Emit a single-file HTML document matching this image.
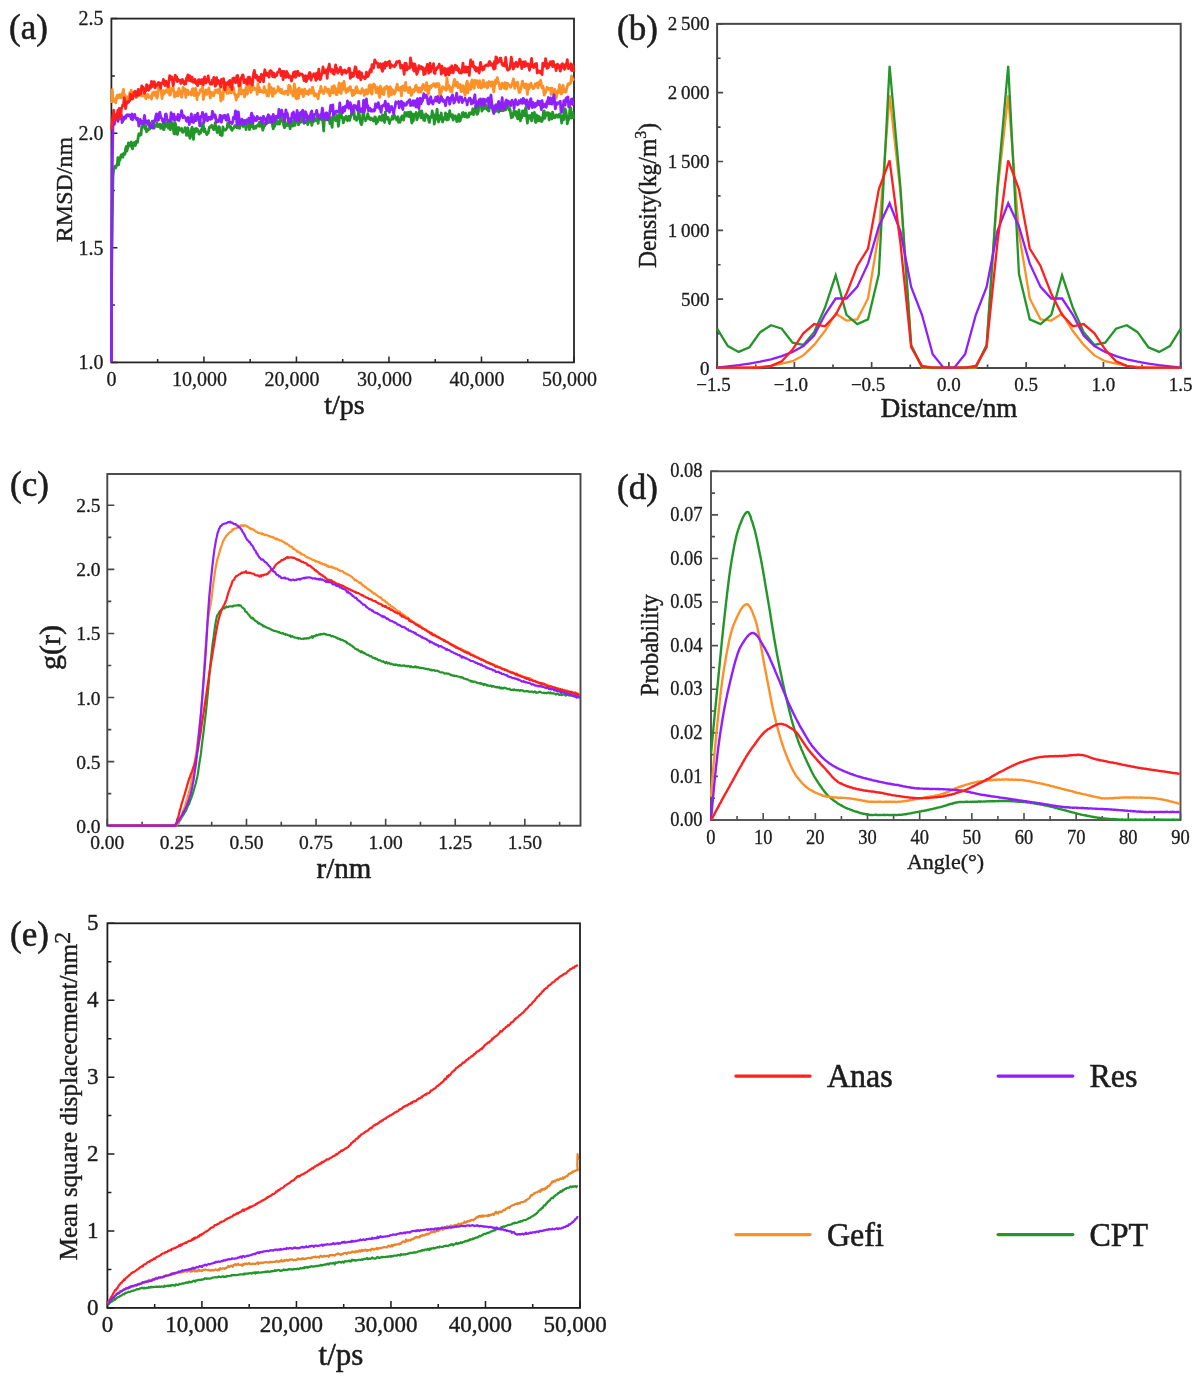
<!DOCTYPE html>
<html><head><meta charset="utf-8"><style>
html,body{margin:0;padding:0;background:#fff;width:1201px;height:1378px;overflow:hidden}
svg{display:block;filter:blur(0.45px)}
text{font-family:"Liberation Serif", serif;stroke:#1c1c1c}
</style></head><body>
<svg width="1201" height="1378" viewBox="0 0 1201 1378">
<rect width="1201" height="1378" fill="#fff"/>
<path d="M111.40 362.40V356.40M203.92 362.40V356.40M296.44 362.40V356.40M388.96 362.40V356.40M481.48 362.40V356.40M574.00 362.40V356.40M157.66 362.40V358.90M250.18 362.40V358.90M342.70 362.40V358.90M435.22 362.40V358.90M527.74 362.40V358.90M111.40 362.40H117.40M111.40 247.80H117.40M111.40 133.20H117.40M111.40 18.60H117.40M111.40 305.10H114.90M111.40 190.50H114.90M111.40 75.90H114.90" stroke="#262626" stroke-width="1.53" fill="none"/><rect x="111.40" y="18.60" width="462.60" height="343.80" stroke="#262626" stroke-width="1.8" fill="none"/><path d="M111.50 362.00 L111.60 283.58 L112.30 217.49 L113.00 176.26 L113.70 169.46 L114.40 167.75 L115.10 166.28 L115.80 167.90 L116.50 165.48 L117.20 165.00 L117.90 157.55 L118.60 164.75 L119.30 160.21 L120.00 160.02 L120.70 156.32 L121.40 154.63 L122.10 156.73 L122.80 157.17 L123.50 153.55 L124.20 153.02 L124.90 154.30 L125.60 148.92 L126.30 146.47 L127.00 151.01 L127.70 147.40 L128.40 142.90 L129.10 145.32 L129.80 146.00 L130.50 143.15 L131.20 142.01 L131.90 146.48 L132.60 148.77 L133.30 144.80 L134.00 142.60 L134.70 145.45 L135.40 145.49 L136.10 141.48 L136.80 142.48 L137.50 142.44 L138.20 137.06 L138.90 133.72 L139.60 135.61 L140.30 134.89 L141.00 134.93 L141.70 126.79 L142.40 126.08 L143.10 124.17 L143.80 122.07 L144.50 127.53 L145.20 128.95 L145.90 126.10 L146.60 131.73 L147.30 130.79 L148.00 129.66 L148.70 129.01 L149.40 129.37 L150.10 123.31 L150.80 128.15 L151.50 127.77 L152.20 121.26 L152.90 126.29 L153.60 125.85 L154.30 128.05 L155.00 124.82 L155.70 125.59 L156.40 126.20 L157.10 123.16 L157.80 126.70 L158.50 125.39 L159.20 126.29 L159.90 124.07 L160.60 128.25 L161.30 127.02 L162.00 124.60 L162.70 126.93 L163.40 129.44 L164.10 129.62 L164.80 120.43 L165.50 126.42 L166.20 126.33 L166.90 124.20 L167.60 122.46 L168.30 128.14 L169.00 122.55 L169.70 127.68 L170.40 129.73 L171.10 121.92 L171.80 124.33 L172.50 122.87 L173.20 128.15 L173.90 133.43 L174.60 134.05 L175.30 123.26 L176.00 126.07 L176.70 131.38 L177.40 134.47 L178.10 130.97 L178.80 127.54 L179.50 130.35 L180.20 130.07 L180.90 129.35 L181.60 128.43 L182.30 131.92 L183.00 132.31 L183.70 131.23 L184.40 130.38 L185.10 127.61 L185.80 130.36 L186.50 135.30 L187.20 131.07 L187.90 127.76 L188.60 135.37 L189.30 134.94 L190.00 138.40 L190.70 132.44 L191.40 129.23 L192.10 127.18 L192.80 135.93 L193.50 139.45 L194.20 129.46 L194.90 128.87 L195.60 132.08 L196.30 128.43 L197.00 129.37 L197.70 129.59 L198.40 131.63 L199.10 134.13 L199.80 131.59 L200.50 133.13 L201.20 129.68 L201.90 130.07 L202.60 122.98 L203.30 124.96 L204.00 131.59 L204.70 128.86 L205.40 131.75 L206.10 132.53 L206.80 134.64 L207.50 133.45 L208.20 133.21 L208.90 129.42 L209.60 126.93 L210.30 126.59 L211.00 126.95 L211.70 125.28 L212.40 126.94 L213.10 128.75 L213.80 129.70 L214.50 127.16 L215.20 122.75 L215.90 127.84 L216.60 130.05 L217.30 132.57 L218.00 130.73 L218.70 126.54 L219.40 126.97 L220.10 134.81 L220.80 132.69 L221.50 135.52 L222.20 135.46 L222.90 126.89 L223.60 129.17 L224.30 129.97 L225.00 130.25 L225.70 130.01 L226.40 128.85 L227.10 127.69 L227.80 123.01 L228.50 126.02 L229.20 125.22 L229.90 127.30 L230.60 126.34 L231.30 129.48 L232.00 130.33 L232.70 128.76 L233.40 128.35 L234.10 127.32 L234.80 125.58 L235.50 125.97 L236.20 125.44 L236.90 127.79 L237.60 127.26 L238.30 127.84 L239.00 123.16 L239.70 128.28 L240.40 124.14 L241.10 123.61 L241.80 125.06 L242.50 124.53 L243.20 126.53 L243.90 123.92 L244.60 121.98 L245.30 123.44 L246.00 129.62 L246.70 126.04 L247.40 122.13 L248.10 124.37 L248.80 121.63 L249.50 129.64 L250.20 121.82 L250.90 126.43 L251.60 126.56 L252.30 121.14 L253.00 125.92 L253.70 128.64 L254.40 127.15 L255.10 126.51 L255.80 128.10 L256.50 125.99 L257.20 125.85 L257.90 124.79 L258.60 126.09 L259.30 122.32 L260.00 126.27 L260.70 122.70 L261.40 120.87 L262.10 125.73 L262.80 130.18 L263.50 127.75 L264.20 123.29 L264.90 125.72 L265.60 122.80 L266.30 123.30 L267.00 122.87 L267.70 116.60 L268.40 122.60 L269.10 120.11 L269.80 120.09 L270.50 117.73 L271.20 117.43 L271.90 120.01 L272.60 126.19 L273.30 128.79 L274.00 124.39 L274.70 126.31 L275.40 121.73 L276.10 116.84 L276.80 122.56 L277.50 124.01 L278.20 121.71 L278.90 123.63 L279.60 124.06 L280.30 119.32 L281.00 117.23 L281.70 120.80 L282.40 121.31 L283.10 121.47 L283.80 125.89 L284.50 127.74 L285.20 121.88 L285.90 124.41 L286.60 125.57 L287.30 125.11 L288.00 125.29 L288.70 121.48 L289.40 124.91 L290.10 128.86 L290.80 124.92 L291.50 120.43 L292.20 123.86 L292.90 126.05 L293.60 123.07 L294.30 120.72 L295.00 125.44 L295.70 118.56 L296.40 122.38 L297.10 121.00 L297.80 118.21 L298.50 124.73 L299.20 122.41 L299.90 118.07 L300.60 122.32 L301.30 119.19 L302.00 114.63 L302.70 118.14 L303.40 121.88 L304.10 123.25 L304.80 121.87 L305.50 121.43 L306.20 122.33 L306.90 121.06 L307.60 124.53 L308.30 122.03 L309.00 122.06 L309.70 122.08 L310.40 117.33 L311.10 118.70 L311.80 125.27 L312.50 122.29 L313.20 120.04 L313.90 121.25 L314.60 119.32 L315.30 120.79 L316.00 118.64 L316.70 120.17 L317.40 116.23 L318.10 123.48 L318.80 118.58 L319.50 114.95 L320.20 118.57 L320.90 119.01 L321.60 119.90 L322.30 116.82 L323.00 122.57 L323.70 130.99 L324.40 117.98 L325.10 120.25 L325.80 119.13 L326.50 119.25 L327.20 113.41 L327.90 115.14 L328.60 120.13 L329.30 120.06 L330.00 123.76 L330.70 117.55 L331.40 120.36 L332.10 127.42 L332.80 117.03 L333.50 115.07 L334.20 117.58 L334.90 118.28 L335.60 120.57 L336.30 118.19 L337.00 115.40 L337.70 119.05 L338.40 126.33 L339.10 121.10 L339.80 108.88 L340.50 114.64 L341.20 114.25 L341.90 118.05 L342.60 117.20 L343.30 122.77 L344.00 120.52 L344.70 119.40 L345.40 117.04 L346.10 116.23 L346.80 117.84 L347.50 120.71 L348.20 118.42 L348.90 116.13 L349.60 120.31 L350.30 117.65 L351.00 115.97 L351.70 113.77 L352.40 114.15 L353.10 113.04 L353.80 108.19 L354.50 118.90 L355.20 119.05 L355.90 117.06 L356.60 120.38 L357.30 119.13 L358.00 117.27 L358.70 109.48 L359.40 115.54 L360.10 119.64 L360.80 123.58 L361.50 124.69 L362.20 122.28 L362.90 113.51 L363.60 110.41 L364.30 118.37 L365.00 118.56 L365.70 120.74 L366.40 118.02 L367.10 117.78 L367.80 113.58 L368.50 118.46 L369.20 117.07 L369.90 119.24 L370.60 119.75 L371.30 118.27 L372.00 119.24 L372.70 118.86 L373.40 121.06 L374.10 120.17 L374.80 116.80 L375.50 117.36 L376.20 123.80 L376.90 119.77 L377.60 122.05 L378.30 120.30 L379.00 116.97 L379.70 116.41 L380.40 119.10 L381.10 120.09 L381.80 120.29 L382.50 114.85 L383.20 116.22 L383.90 118.91 L384.60 122.46 L385.30 112.21 L386.00 118.49 L386.70 117.24 L387.40 119.29 L388.10 117.24 L388.80 120.01 L389.50 123.55 L390.20 120.33 L390.90 119.90 L391.60 119.14 L392.30 116.18 L393.00 119.25 L393.70 117.19 L394.40 115.25 L395.10 117.23 L395.80 117.46 L396.50 119.99 L397.20 117.69 L397.90 116.70 L398.60 122.40 L399.30 122.00 L400.00 122.27 L400.70 119.93 L401.40 117.14 L402.10 115.84 L402.80 116.68 L403.50 120.13 L404.20 117.27 L404.90 112.52 L405.60 115.52 L406.30 112.65 L407.00 116.20 L407.70 112.60 L408.40 112.37 L409.10 116.52 L409.80 115.76 L410.50 111.83 L411.20 119.25 L411.90 123.03 L412.60 113.88 L413.30 121.13 L414.00 114.95 L414.70 114.42 L415.40 114.82 L416.10 112.32 L416.80 119.84 L417.50 118.00 L418.20 113.89 L418.90 114.09 L419.60 110.97 L420.30 114.64 L421.00 117.96 L421.70 110.96 L422.40 113.98 L423.10 116.92 L423.80 120.22 L424.50 120.75 L425.20 115.13 L425.90 113.97 L426.60 117.20 L427.30 115.30 L428.00 115.78 L428.70 120.50 L429.40 122.43 L430.10 118.08 L430.80 116.35 L431.50 117.34 L432.20 110.97 L432.90 115.13 L433.60 114.53 L434.30 124.04 L435.00 120.26 L435.70 117.49 L436.40 115.04 L437.10 109.23 L437.80 118.69 L438.50 122.03 L439.20 115.82 L439.90 119.13 L440.60 118.87 L441.30 113.03 L442.00 119.94 L442.70 121.96 L443.40 118.53 L444.10 117.51 L444.80 118.92 L445.50 112.88 L446.20 117.36 L446.90 120.08 L447.60 114.50 L448.30 119.70 L449.00 115.60 L449.70 110.70 L450.40 115.68 L451.10 114.61 L451.80 117.53 L452.50 114.63 L453.20 120.01 L453.90 116.08 L454.60 118.19 L455.30 115.92 L456.00 117.08 L456.70 121.52 L457.40 118.94 L458.10 116.15 L458.80 114.40 L459.50 121.35 L460.20 120.61 L460.90 117.01 L461.60 117.29 L462.30 113.24 L463.00 112.40 L463.70 113.23 L464.40 116.65 L465.10 116.18 L465.80 113.28 L466.50 117.08 L467.20 117.31 L467.90 115.49 L468.60 116.90 L469.30 112.91 L470.00 112.74 L470.70 114.06 L471.40 112.82 L472.10 113.80 L472.80 108.77 L473.50 114.71 L474.20 109.07 L474.90 108.97 L475.60 106.10 L476.30 111.68 L477.00 114.32 L477.70 113.55 L478.40 111.17 L479.10 103.59 L479.80 104.65 L480.50 105.70 L481.20 105.40 L481.90 111.15 L482.60 109.12 L483.30 108.26 L484.00 109.05 L484.70 104.81 L485.40 104.24 L486.10 105.03 L486.80 109.29 L487.50 109.60 L488.20 110.52 L488.90 111.00 L489.60 104.00 L490.30 105.64 L491.00 107.52 L491.70 103.58 L492.40 106.17 L493.10 111.46 L493.80 112.49 L494.50 111.94 L495.20 108.56 L495.90 107.89 L496.60 111.09 L497.30 107.53 L498.00 109.53 L498.70 112.14 L499.40 107.20 L500.10 105.94 L500.80 108.28 L501.50 110.71 L502.20 110.77 L502.90 110.16 L503.60 110.47 L504.30 104.56 L505.00 106.60 L505.70 109.91 L506.40 107.07 L507.10 105.58 L507.80 106.21 L508.50 107.84 L509.20 110.16 L509.90 108.78 L510.60 113.31 L511.30 117.88 L512.00 113.81 L512.70 117.15 L513.40 114.34 L514.10 110.15 L514.80 112.08 L515.50 111.38 L516.20 115.83 L516.90 112.18 L517.60 118.90 L518.30 116.79 L519.00 109.93 L519.70 118.11 L520.40 120.87 L521.10 114.78 L521.80 117.81 L522.50 110.97 L523.20 115.08 L523.90 111.16 L524.60 115.80 L525.30 109.33 L526.00 107.06 L526.70 117.07 L527.40 123.07 L528.10 115.68 L528.80 118.36 L529.50 116.60 L530.20 115.35 L530.90 118.58 L531.60 120.84 L532.30 113.22 L533.00 117.33 L533.70 116.66 L534.40 112.50 L535.10 121.32 L535.80 122.44 L536.50 114.84 L537.20 121.00 L537.90 116.96 L538.60 116.26 L539.30 120.75 L540.00 117.62 L540.70 117.88 L541.40 121.56 L542.10 121.23 L542.80 118.74 L543.50 111.27 L544.20 110.93 L544.90 118.29 L545.60 113.73 L546.30 115.48 L547.00 112.62 L547.70 114.26 L548.40 112.71 L549.10 119.97 L549.80 113.55 L550.50 115.02 L551.20 115.95 L551.90 118.99 L552.60 112.13 L553.30 115.09 L554.00 115.59 L554.70 117.79 L555.40 117.51 L556.10 114.90 L556.80 116.34 L557.50 115.18 L558.20 117.23 L558.90 115.59 L559.60 113.88 L560.30 115.77 L561.00 118.25 L561.70 123.04 L562.40 115.73 L563.10 117.44 L563.80 119.71 L564.50 109.35 L565.20 108.92 L565.90 111.35 L566.60 116.26 L567.30 123.79 L568.00 119.03 L568.70 119.87 L569.40 114.68 L570.10 107.02 L570.80 108.03 L571.50 118.14 L572.20 116.44 L572.90 112.57 L573.60 118.86" stroke="#23962a" stroke-width="2.8" fill="none" stroke-linejoin="round" stroke-linecap="butt"/><path d="M111.60 103.00 L112.30 89.64 L113.00 99.21 L113.70 98.82 L114.40 101.62 L115.10 99.81 L115.80 102.77 L116.50 97.36 L117.20 95.08 L117.90 97.96 L118.60 97.43 L119.30 94.73 L120.00 94.94 L120.70 97.80 L121.40 97.43 L122.10 93.51 L122.80 92.39 L123.50 89.45 L124.20 98.51 L124.90 94.82 L125.60 98.29 L126.30 96.93 L127.00 101.06 L127.70 99.94 L128.40 96.49 L129.10 98.33 L129.80 92.38 L130.50 96.74 L131.20 90.15 L131.90 94.87 L132.60 97.62 L133.30 95.05 L134.00 92.56 L134.70 91.12 L135.40 93.05 L136.10 97.57 L136.80 97.18 L137.50 93.00 L138.20 90.30 L138.90 94.78 L139.60 89.53 L140.30 91.25 L141.00 91.80 L141.70 96.08 L142.40 95.34 L143.10 95.70 L143.80 94.75 L144.50 92.27 L145.20 96.04 L145.90 98.67 L146.60 94.90 L147.30 95.91 L148.00 94.43 L148.70 97.49 L149.40 97.03 L150.10 97.25 L150.80 96.34 L151.50 99.14 L152.20 93.51 L152.90 92.48 L153.60 92.28 L154.30 95.31 L155.00 92.03 L155.70 92.03 L156.40 96.54 L157.10 98.29 L157.80 95.05 L158.50 85.40 L159.20 89.15 L159.90 89.56 L160.60 89.24 L161.30 92.50 L162.00 98.54 L162.70 92.49 L163.40 90.53 L164.10 94.22 L164.80 92.70 L165.50 92.07 L166.20 89.91 L166.90 91.87 L167.60 92.42 L168.30 85.43 L169.00 86.54 L169.70 95.02 L170.40 94.93 L171.10 90.32 L171.80 88.46 L172.50 90.32 L173.20 88.00 L173.90 91.16 L174.60 97.07 L175.30 93.81 L176.00 95.61 L176.70 92.06 L177.40 93.73 L178.10 95.87 L178.80 88.33 L179.50 90.17 L180.20 91.48 L180.90 93.58 L181.60 97.35 L182.30 94.18 L183.00 87.51 L183.70 89.97 L184.40 88.61 L185.10 89.68 L185.80 97.37 L186.50 89.79 L187.20 91.86 L187.90 90.30 L188.60 94.52 L189.30 93.60 L190.00 92.54 L190.70 92.39 L191.40 95.07 L192.10 89.28 L192.80 88.71 L193.50 88.80 L194.20 95.49 L194.90 91.23 L195.60 88.39 L196.30 91.41 L197.00 99.58 L197.70 93.32 L198.40 94.84 L199.10 93.87 L199.80 91.85 L200.50 89.66 L201.20 90.43 L201.90 89.63 L202.60 86.18 L203.30 99.48 L204.00 96.24 L204.70 92.72 L205.40 91.02 L206.10 89.86 L206.80 94.43 L207.50 92.04 L208.20 92.62 L208.90 87.94 L209.60 93.34 L210.30 98.14 L211.00 92.28 L211.70 94.16 L212.40 92.81 L213.10 95.74 L213.80 95.63 L214.50 92.13 L215.20 90.08 L215.90 92.28 L216.60 91.58 L217.30 89.90 L218.00 92.91 L218.70 92.68 L219.40 88.89 L220.10 92.15 L220.80 100.98 L221.50 95.51 L222.20 93.38 L222.90 99.10 L223.60 89.97 L224.30 82.42 L225.00 83.38 L225.70 85.73 L226.40 91.83 L227.10 93.38 L227.80 85.47 L228.50 93.04 L229.20 88.02 L229.90 91.60 L230.60 92.94 L231.30 92.71 L232.00 91.42 L232.70 91.05 L233.40 87.70 L234.10 91.82 L234.80 94.67 L235.50 95.67 L236.20 100.15 L236.90 95.99 L237.60 94.55 L238.30 96.58 L239.00 91.81 L239.70 85.81 L240.40 83.79 L241.10 93.97 L241.80 93.61 L242.50 93.52 L243.20 90.27 L243.90 92.55 L244.60 96.92 L245.30 92.09 L246.00 87.09 L246.70 89.39 L247.40 94.18 L248.10 86.55 L248.80 80.77 L249.50 81.38 L250.20 85.56 L250.90 92.36 L251.60 90.74 L252.30 87.46 L253.00 85.94 L253.70 89.30 L254.40 89.52 L255.10 88.36 L255.80 88.88 L256.50 88.66 L257.20 94.36 L257.90 83.77 L258.60 88.92 L259.30 87.42 L260.00 91.76 L260.70 89.94 L261.40 91.41 L262.10 92.05 L262.80 91.47 L263.50 92.57 L264.20 86.63 L264.90 92.19 L265.60 90.03 L266.30 91.99 L267.00 95.82 L267.70 95.55 L268.40 96.00 L269.10 83.86 L269.80 86.85 L270.50 92.54 L271.20 87.46 L271.90 90.40 L272.60 96.46 L273.30 93.94 L274.00 88.54 L274.70 92.24 L275.40 93.32 L276.10 91.59 L276.80 90.97 L277.50 90.90 L278.20 86.75 L278.90 90.57 L279.60 88.69 L280.30 92.50 L281.00 92.70 L281.70 89.39 L282.40 93.39 L283.10 93.21 L283.80 92.28 L284.50 94.05 L285.20 91.26 L285.90 91.08 L286.60 92.23 L287.30 92.65 L288.00 94.68 L288.70 85.34 L289.40 89.29 L290.10 85.78 L290.80 90.05 L291.50 93.11 L292.20 93.23 L292.90 95.87 L293.60 92.85 L294.30 83.79 L295.00 88.74 L295.70 97.99 L296.40 98.67 L297.10 93.33 L297.80 89.33 L298.50 98.13 L299.20 87.84 L299.90 93.15 L300.60 93.42 L301.30 93.52 L302.00 89.66 L302.70 92.17 L303.40 96.47 L304.10 91.91 L304.80 89.07 L305.50 92.93 L306.20 93.74 L306.90 92.69 L307.60 91.11 L308.30 94.56 L309.00 92.53 L309.70 89.52 L310.40 93.19 L311.10 93.12 L311.80 92.56 L312.50 87.23 L313.20 89.79 L313.90 94.28 L314.60 96.03 L315.30 94.28 L316.00 93.62 L316.70 95.39 L317.40 96.81 L318.10 98.71 L318.80 94.46 L319.50 91.03 L320.20 92.55 L320.90 86.38 L321.60 91.18 L322.30 90.76 L323.00 92.03 L323.70 93.58 L324.40 91.65 L325.10 87.20 L325.80 89.60 L326.50 89.08 L327.20 91.44 L327.90 92.30 L328.60 89.11 L329.30 94.00 L330.00 95.77 L330.70 91.55 L331.40 92.75 L332.10 86.71 L332.80 89.24 L333.50 93.00 L334.20 85.75 L334.90 88.08 L335.60 88.42 L336.30 94.57 L337.00 94.63 L337.70 89.38 L338.40 89.42 L339.10 82.86 L339.80 92.04 L340.50 92.60 L341.20 93.51 L341.90 83.63 L342.60 89.95 L343.30 87.92 L344.00 81.37 L344.70 86.50 L345.40 89.78 L346.10 92.55 L346.80 90.73 L347.50 88.67 L348.20 91.06 L348.90 89.53 L349.60 87.38 L350.30 86.53 L351.00 90.01 L351.70 91.45 L352.40 95.60 L353.10 90.27 L353.80 94.96 L354.50 92.46 L355.20 93.40 L355.90 87.29 L356.60 86.64 L357.30 89.03 L358.00 92.73 L358.70 91.36 L359.40 92.60 L360.10 91.87 L360.80 93.47 L361.50 90.87 L362.20 88.70 L362.90 91.40 L363.60 91.40 L364.30 95.45 L365.00 90.42 L365.70 90.11 L366.40 89.67 L367.10 93.91 L367.80 93.64 L368.50 91.86 L369.20 85.66 L369.90 84.76 L370.60 90.44 L371.30 93.13 L372.00 94.11 L372.70 85.02 L373.40 87.74 L374.10 84.14 L374.80 86.04 L375.50 89.31 L376.20 92.65 L376.90 88.47 L377.60 87.33 L378.30 89.26 L379.00 94.98 L379.70 97.43 L380.40 86.23 L381.10 88.17 L381.80 89.09 L382.50 93.67 L383.20 92.71 L383.90 94.54 L384.60 87.60 L385.30 89.32 L386.00 88.04 L386.70 86.26 L387.40 88.38 L388.10 87.28 L388.80 96.43 L389.50 91.88 L390.20 86.72 L390.90 88.45 L391.60 94.90 L392.30 89.70 L393.00 92.23 L393.70 92.71 L394.40 94.03 L395.10 92.43 L395.80 89.36 L396.50 87.16 L397.20 84.12 L397.90 89.04 L398.60 90.23 L399.30 88.87 L400.00 88.77 L400.70 87.13 L401.40 95.82 L402.10 88.78 L402.80 85.93 L403.50 87.18 L404.20 89.12 L404.90 90.55 L405.60 82.45 L406.30 89.48 L407.00 87.54 L407.70 88.87 L408.40 92.64 L409.10 91.66 L409.80 87.23 L410.50 89.25 L411.20 95.38 L411.90 94.44 L412.60 92.15 L413.30 89.62 L414.00 91.83 L414.70 89.99 L415.40 86.46 L416.10 85.26 L416.80 89.67 L417.50 90.32 L418.20 91.93 L418.90 87.90 L419.60 92.03 L420.30 88.17 L421.00 92.00 L421.70 89.98 L422.40 85.89 L423.10 84.55 L423.80 86.85 L424.50 87.37 L425.20 90.23 L425.90 85.29 L426.60 82.70 L427.30 87.81 L428.00 94.45 L428.70 93.36 L429.40 86.27 L430.10 86.50 L430.80 88.01 L431.50 85.40 L432.20 86.17 L432.90 85.87 L433.60 83.60 L434.30 84.60 L435.00 85.55 L435.70 87.14 L436.40 83.65 L437.10 86.42 L437.80 83.70 L438.50 83.51 L439.20 85.11 L439.90 99.66 L440.60 93.57 L441.30 92.19 L442.00 90.01 L442.70 86.58 L443.40 87.08 L444.10 87.97 L444.80 88.61 L445.50 89.58 L446.20 90.32 L446.90 77.87 L447.60 83.76 L448.30 88.27 L449.00 85.70 L449.70 86.60 L450.40 91.18 L451.10 88.68 L451.80 92.08 L452.50 87.25 L453.20 86.54 L453.90 82.10 L454.60 79.31 L455.30 83.98 L456.00 86.02 L456.70 84.45 L457.40 82.06 L458.10 87.53 L458.80 86.62 L459.50 85.71 L460.20 84.38 L460.90 91.48 L461.60 91.53 L462.30 87.53 L463.00 85.77 L463.70 87.40 L464.40 92.62 L465.10 95.41 L465.80 86.93 L466.50 83.45 L467.20 81.14 L467.90 92.94 L468.60 83.93 L469.30 87.98 L470.00 88.17 L470.70 89.48 L471.40 82.59 L472.10 79.96 L472.80 85.23 L473.50 87.26 L474.20 88.27 L474.90 80.32 L475.60 82.84 L476.30 83.47 L477.00 80.70 L477.70 84.34 L478.40 87.50 L479.10 84.63 L479.80 80.66 L480.50 85.78 L481.20 88.08 L481.90 87.41 L482.60 86.80 L483.30 80.28 L484.00 85.73 L484.70 86.70 L485.40 83.83 L486.10 83.96 L486.80 82.83 L487.50 87.98 L488.20 83.81 L488.90 81.55 L489.60 84.70 L490.30 85.27 L491.00 86.20 L491.70 81.80 L492.40 82.04 L493.10 86.33 L493.80 91.76 L494.50 86.19 L495.20 80.29 L495.90 83.69 L496.60 80.90 L497.30 77.61 L498.00 80.76 L498.70 82.14 L499.40 85.72 L500.10 88.93 L500.80 88.68 L501.50 86.98 L502.20 83.24 L502.90 84.41 L503.60 84.84 L504.30 88.31 L505.00 82.64 L505.70 82.99 L506.40 89.04 L507.10 86.70 L507.80 83.36 L508.50 84.81 L509.20 85.12 L509.90 85.58 L510.60 87.34 L511.30 86.04 L512.00 83.97 L512.70 82.12 L513.40 78.80 L514.10 83.06 L514.80 88.25 L515.50 85.75 L516.20 82.77 L516.90 83.35 L517.60 82.23 L518.30 86.42 L519.00 92.32 L519.70 92.27 L520.40 90.10 L521.10 88.02 L521.80 84.18 L522.50 81.15 L523.20 84.39 L523.90 84.24 L524.60 87.74 L525.30 85.93 L526.00 83.84 L526.70 87.96 L527.40 94.36 L528.10 84.62 L528.80 88.90 L529.50 87.91 L530.20 85.18 L530.90 83.18 L531.60 85.44 L532.30 86.76 L533.00 88.59 L533.70 88.50 L534.40 86.80 L535.10 83.98 L535.80 86.23 L536.50 84.05 L537.20 82.86 L537.90 87.92 L538.60 83.76 L539.30 81.98 L540.00 84.77 L540.70 80.27 L541.40 85.64 L542.10 88.00 L542.80 86.12 L543.50 88.96 L544.20 95.20 L544.90 93.88 L545.60 92.07 L546.30 90.49 L547.00 87.26 L547.70 88.08 L548.40 88.23 L549.10 89.44 L549.80 89.68 L550.50 88.28 L551.20 94.36 L551.90 88.19 L552.60 91.87 L553.30 94.41 L554.00 91.35 L554.70 89.42 L555.40 92.51 L556.10 98.38 L556.80 94.46 L557.50 91.09 L558.20 92.71 L558.90 89.59 L559.60 84.70 L560.30 90.63 L561.00 93.96 L561.70 93.83 L562.40 89.11 L563.10 85.29 L563.80 91.86 L564.50 89.07 L565.20 91.12 L565.90 92.12 L566.60 88.99 L567.30 86.36 L568.00 83.78 L568.70 83.64 L569.40 84.24 L570.10 82.63 L570.80 83.13 L571.50 76.02 L572.20 77.62 L572.90 80.13 L573.60 78.18" stroke="#fd9026" stroke-width="2.8" fill="none" stroke-linejoin="round" stroke-linecap="butt"/><path d="M111.50 362.00 L111.60 253.30 L112.30 165.64 L113.00 123.20 L113.70 123.20 L114.40 124.37 L115.10 116.01 L115.80 115.85 L116.50 114.33 L117.20 118.10 L117.90 121.43 L118.60 118.80 L119.30 118.50 L120.00 111.99 L120.70 116.50 L121.40 115.31 L122.10 122.52 L122.80 120.86 L123.50 119.89 L124.20 116.86 L124.90 118.25 L125.60 118.38 L126.30 115.39 L127.00 114.81 L127.70 115.90 L128.40 114.77 L129.10 114.93 L129.80 115.90 L130.50 115.61 L131.20 119.11 L131.90 113.85 L132.60 119.76 L133.30 116.67 L134.00 116.01 L134.70 114.33 L135.40 117.88 L136.10 118.58 L136.80 119.75 L137.50 118.22 L138.20 120.89 L138.90 126.12 L139.60 122.28 L140.30 119.47 L141.00 123.44 L141.70 121.37 L142.40 123.32 L143.10 123.45 L143.80 119.76 L144.50 115.43 L145.20 120.19 L145.90 123.19 L146.60 120.98 L147.30 123.21 L148.00 124.42 L148.70 120.65 L149.40 125.51 L150.10 127.21 L150.80 125.60 L151.50 125.43 L152.20 125.69 L152.90 128.12 L153.60 121.98 L154.30 120.54 L155.00 121.44 L155.70 116.54 L156.40 113.96 L157.10 116.23 L157.80 120.41 L158.50 120.21 L159.20 113.65 L159.90 112.20 L160.60 116.86 L161.30 117.97 L162.00 118.68 L162.70 121.15 L163.40 122.62 L164.10 119.82 L164.80 119.53 L165.50 114.29 L166.20 113.89 L166.90 118.49 L167.60 120.56 L168.30 120.90 L169.00 120.61 L169.70 121.15 L170.40 120.06 L171.10 112.54 L171.80 115.06 L172.50 119.36 L173.20 119.35 L173.90 114.14 L174.60 120.71 L175.30 117.09 L176.00 117.19 L176.70 119.11 L177.40 119.78 L178.10 114.37 L178.80 120.43 L179.50 118.35 L180.20 115.49 L180.90 115.67 L181.60 110.69 L182.30 114.98 L183.00 117.90 L183.70 115.70 L184.40 116.55 L185.10 117.40 L185.80 118.58 L186.50 121.21 L187.20 118.30 L187.90 117.44 L188.60 120.59 L189.30 124.61 L190.00 118.21 L190.70 118.66 L191.40 113.98 L192.10 121.76 L192.80 121.39 L193.50 122.48 L194.20 117.96 L194.90 115.14 L195.60 120.63 L196.30 120.37 L197.00 114.93 L197.70 113.18 L198.40 118.59 L199.10 118.98 L199.80 125.80 L200.50 117.11 L201.20 115.98 L201.90 116.57 L202.60 112.29 L203.30 115.20 L204.00 122.65 L204.70 118.10 L205.40 115.42 L206.10 114.05 L206.80 119.61 L207.50 120.60 L208.20 119.10 L208.90 117.25 L209.60 119.18 L210.30 119.28 L211.00 116.66 L211.70 118.90 L212.40 111.41 L213.10 113.17 L213.80 116.80 L214.50 117.41 L215.20 114.97 L215.90 119.52 L216.60 122.28 L217.30 120.66 L218.00 119.99 L218.70 121.59 L219.40 119.83 L220.10 115.27 L220.80 118.23 L221.50 122.21 L222.20 115.96 L222.90 118.33 L223.60 117.30 L224.30 115.46 L225.00 115.43 L225.70 119.01 L226.40 120.26 L227.10 119.51 L227.80 114.62 L228.50 117.73 L229.20 120.62 L229.90 122.72 L230.60 122.27 L231.30 122.80 L232.00 123.61 L232.70 122.11 L233.40 117.30 L234.10 118.88 L234.80 116.10 L235.50 110.87 L236.20 114.15 L236.90 124.76 L237.60 116.05 L238.30 111.79 L239.00 117.51 L239.70 124.19 L240.40 120.58 L241.10 120.93 L241.80 119.15 L242.50 120.11 L243.20 124.23 L243.90 123.02 L244.60 120.54 L245.30 123.25 L246.00 123.60 L246.70 119.81 L247.40 120.62 L248.10 120.29 L248.80 118.22 L249.50 122.74 L250.20 119.22 L250.90 116.56 L251.60 113.15 L252.30 115.23 L253.00 122.79 L253.70 116.52 L254.40 119.66 L255.10 118.30 L255.80 120.64 L256.50 120.61 L257.20 116.50 L257.90 117.46 L258.60 118.86 L259.30 118.96 L260.00 118.31 L260.70 117.75 L261.40 120.83 L262.10 123.00 L262.80 120.20 L263.50 116.29 L264.20 118.99 L264.90 118.63 L265.60 120.33 L266.30 123.78 L267.00 118.04 L267.70 117.15 L268.40 114.73 L269.10 115.96 L269.80 116.38 L270.50 122.33 L271.20 118.84 L271.90 116.62 L272.60 122.35 L273.30 114.39 L274.00 119.65 L274.70 120.93 L275.40 119.13 L276.10 116.29 L276.80 116.12 L277.50 116.00 L278.20 117.82 L278.90 109.44 L279.60 113.86 L280.30 116.41 L281.00 113.75 L281.70 110.22 L282.40 114.23 L283.10 114.10 L283.80 118.95 L284.50 120.86 L285.20 115.94 L285.90 109.83 L286.60 113.89 L287.30 113.23 L288.00 118.37 L288.70 121.61 L289.40 118.62 L290.10 123.03 L290.80 121.81 L291.50 118.18 L292.20 113.39 L292.90 115.17 L293.60 112.04 L294.30 118.60 L295.00 117.56 L295.70 120.49 L296.40 116.60 L297.10 110.34 L297.80 117.47 L298.50 119.98 L299.20 121.08 L299.90 113.18 L300.60 112.48 L301.30 115.02 L302.00 111.80 L302.70 110.33 L303.40 112.84 L304.10 122.88 L304.80 114.35 L305.50 111.77 L306.20 113.51 L306.90 115.79 L307.60 119.83 L308.30 119.26 L309.00 118.19 L309.70 115.80 L310.40 115.35 L311.10 112.45 L311.80 111.05 L312.50 120.46 L313.20 115.08 L313.90 117.76 L314.60 114.39 L315.30 114.37 L316.00 113.64 L316.70 110.38 L317.40 114.03 L318.10 116.30 L318.80 117.73 L319.50 117.12 L320.20 118.21 L320.90 116.01 L321.60 113.70 L322.30 108.07 L323.00 112.58 L323.70 119.09 L324.40 115.93 L325.10 116.78 L325.80 113.51 L326.50 112.70 L327.20 119.95 L327.90 116.35 L328.60 118.39 L329.30 115.31 L330.00 111.07 L330.70 105.50 L331.40 110.82 L332.10 106.24 L332.80 104.87 L333.50 114.94 L334.20 114.78 L334.90 113.76 L335.60 111.61 L336.30 111.06 L337.00 112.12 L337.70 111.25 L338.40 110.98 L339.10 111.24 L339.80 102.98 L340.50 110.94 L341.20 108.34 L341.90 112.19 L342.60 112.71 L343.30 107.13 L344.00 111.04 L344.70 110.84 L345.40 106.12 L346.10 106.21 L346.80 107.13 L347.50 100.96 L348.20 105.68 L348.90 108.22 L349.60 105.96 L350.30 102.62 L351.00 106.78 L351.70 113.26 L352.40 112.89 L353.10 107.92 L353.80 105.44 L354.50 107.59 L355.20 107.73 L355.90 105.74 L356.60 106.94 L357.30 110.27 L358.00 110.05 L358.70 101.31 L359.40 109.94 L360.10 109.50 L360.80 111.68 L361.50 108.74 L362.20 110.20 L362.90 111.91 L363.60 100.30 L364.30 111.63 L365.00 108.50 L365.70 101.07 L366.40 98.90 L367.10 107.16 L367.80 105.44 L368.50 110.76 L369.20 109.12 L369.90 108.19 L370.60 111.16 L371.30 109.48 L372.00 110.85 L372.70 111.15 L373.40 109.82 L374.10 111.04 L374.80 110.20 L375.50 103.97 L376.20 106.41 L376.90 107.31 L377.60 105.97 L378.30 102.56 L379.00 105.61 L379.70 108.88 L380.40 109.47 L381.10 112.41 L381.80 106.37 L382.50 105.69 L383.20 105.36 L383.90 105.85 L384.60 104.34 L385.30 101.21 L386.00 107.75 L386.70 110.83 L387.40 110.36 L388.10 103.84 L388.80 106.46 L389.50 112.23 L390.20 107.22 L390.90 107.33 L391.60 106.46 L392.30 109.72 L393.00 110.74 L393.70 113.97 L394.40 108.78 L395.10 106.79 L395.80 101.85 L396.50 103.29 L397.20 102.85 L397.90 103.29 L398.60 101.54 L399.30 107.75 L400.00 102.43 L400.70 104.61 L401.40 101.15 L402.10 105.97 L402.80 109.54 L403.50 102.91 L404.20 105.08 L404.90 104.38 L405.60 105.23 L406.30 105.20 L407.00 102.08 L407.70 102.68 L408.40 101.40 L409.10 100.15 L409.80 99.75 L410.50 105.48 L411.20 101.81 L411.90 105.21 L412.60 104.69 L413.30 100.67 L414.00 105.27 L414.70 100.93 L415.40 104.96 L416.10 107.11 L416.80 100.50 L417.50 98.64 L418.20 99.99 L418.90 108.71 L419.60 101.39 L420.30 98.22 L421.00 103.74 L421.70 101.65 L422.40 101.06 L423.10 97.43 L423.80 93.77 L424.50 97.61 L425.20 97.01 L425.90 95.24 L426.60 96.62 L427.30 98.12 L428.00 103.56 L428.70 103.95 L429.40 102.72 L430.10 98.90 L430.80 96.81 L431.50 101.34 L432.20 102.82 L432.90 104.02 L433.60 100.94 L434.30 100.26 L435.00 100.90 L435.70 97.23 L436.40 97.65 L437.10 101.24 L437.80 96.51 L438.50 99.62 L439.20 102.57 L439.90 101.32 L440.60 100.82 L441.30 96.51 L442.00 98.70 L442.70 99.10 L443.40 101.61 L444.10 101.21 L444.80 100.76 L445.50 105.71 L446.20 101.91 L446.90 98.41 L447.60 97.20 L448.30 98.52 L449.00 98.16 L449.70 104.22 L450.40 101.47 L451.10 97.95 L451.80 96.16 L452.50 95.01 L453.20 98.02 L453.90 103.09 L454.60 101.89 L455.30 98.88 L456.00 97.99 L456.70 93.04 L457.40 99.72 L458.10 98.67 L458.80 102.35 L459.50 98.05 L460.20 96.66 L460.90 98.38 L461.60 97.15 L462.30 102.52 L463.00 100.34 L463.70 100.17 L464.40 99.88 L465.10 98.23 L465.80 100.47 L466.50 100.81 L467.20 104.89 L467.90 100.63 L468.60 100.47 L469.30 98.18 L470.00 98.19 L470.70 99.35 L471.40 103.92 L472.10 101.48 L472.80 103.19 L473.50 99.83 L474.20 98.25 L474.90 94.78 L475.60 103.36 L476.30 107.57 L477.00 101.94 L477.70 105.84 L478.40 104.18 L479.10 99.91 L479.80 102.98 L480.50 98.89 L481.20 100.80 L481.90 105.45 L482.60 102.32 L483.30 99.01 L484.00 105.32 L484.70 99.29 L485.40 101.00 L486.10 101.08 L486.80 101.33 L487.50 98.98 L488.20 98.01 L488.90 107.28 L489.60 100.36 L490.30 98.51 L491.00 95.02 L491.70 102.87 L492.40 108.04 L493.10 109.76 L493.80 113.58 L494.50 109.85 L495.20 105.73 L495.90 104.80 L496.60 108.41 L497.30 104.73 L498.00 104.27 L498.70 101.39 L499.40 105.16 L500.10 110.64 L500.80 105.39 L501.50 104.46 L502.20 97.76 L502.90 107.64 L503.60 106.96 L504.30 109.14 L505.00 105.44 L505.70 101.17 L506.40 99.94 L507.10 105.24 L507.80 104.02 L508.50 101.21 L509.20 103.28 L509.90 102.59 L510.60 105.96 L511.30 102.67 L512.00 100.10 L512.70 103.00 L513.40 103.06 L514.10 108.21 L514.80 102.69 L515.50 99.66 L516.20 103.06 L516.90 103.29 L517.60 104.78 L518.30 104.23 L519.00 100.77 L519.70 103.17 L520.40 102.93 L521.10 99.77 L521.80 101.56 L522.50 103.39 L523.20 98.39 L523.90 99.38 L524.60 101.72 L525.30 103.48 L526.00 104.61 L526.70 99.85 L527.40 104.26 L528.10 106.54 L528.80 108.61 L529.50 102.66 L530.20 99.82 L530.90 98.67 L531.60 105.26 L532.30 107.62 L533.00 102.36 L533.70 105.15 L534.40 107.09 L535.10 106.95 L535.80 103.30 L536.50 105.60 L537.20 103.54 L537.90 101.03 L538.60 104.46 L539.30 104.74 L540.00 101.37 L540.70 105.87 L541.40 109.67 L542.10 100.56 L542.80 105.80 L543.50 107.10 L544.20 104.60 L544.90 104.71 L545.60 103.75 L546.30 107.34 L547.00 101.30 L547.70 101.73 L548.40 97.53 L549.10 103.69 L549.80 103.90 L550.50 97.85 L551.20 99.96 L551.90 104.04 L552.60 101.26 L553.30 97.83 L554.00 94.77 L554.70 103.78 L555.40 108.93 L556.10 102.60 L556.80 104.16 L557.50 104.25 L558.20 102.71 L558.90 102.99 L559.60 102.61 L560.30 101.15 L561.00 111.29 L561.70 112.42 L562.40 105.67 L563.10 107.77 L563.80 100.58 L564.50 101.79 L565.20 105.17 L565.90 98.57 L566.60 97.74 L567.30 101.64 L568.00 96.97 L568.70 106.92 L569.40 105.42 L570.10 103.55 L570.80 103.83 L571.50 99.06 L572.20 99.02 L572.90 104.60 L573.60 105.32" stroke="#8f1fff" stroke-width="2.8" fill="none" stroke-linejoin="round" stroke-linecap="butt"/><path d="M111.60 129.30 L112.30 121.29 L113.00 115.13 L113.70 110.13 L114.40 116.56 L115.10 120.50 L115.80 115.97 L116.50 115.38 L117.20 114.82 L117.90 110.15 L118.60 117.84 L119.30 108.45 L120.00 111.09 L120.70 117.02 L121.40 108.65 L122.10 106.95 L122.80 104.82 L123.50 105.24 L124.20 97.98 L124.90 101.86 L125.60 108.53 L126.30 104.16 L127.00 101.66 L127.70 102.72 L128.40 102.37 L129.10 101.12 L129.80 100.57 L130.50 94.22 L131.20 98.89 L131.90 96.10 L132.60 98.99 L133.30 96.05 L134.00 92.39 L134.70 93.69 L135.40 91.56 L136.10 96.26 L136.80 93.77 L137.50 94.39 L138.20 89.35 L138.90 95.34 L139.60 90.85 L140.30 94.21 L141.00 91.81 L141.70 85.96 L142.40 88.85 L143.10 87.14 L143.80 90.02 L144.50 93.16 L145.20 91.35 L145.90 90.88 L146.60 84.56 L147.30 87.66 L148.00 89.02 L148.70 90.36 L149.40 85.78 L150.10 88.41 L150.80 87.42 L151.50 81.29 L152.20 82.41 L152.90 86.32 L153.60 81.77 L154.30 81.69 L155.00 87.84 L155.70 86.55 L156.40 84.61 L157.10 84.99 L157.80 83.32 L158.50 82.51 L159.20 82.93 L159.90 85.91 L160.60 88.20 L161.30 83.07 L162.00 83.19 L162.70 82.23 L163.40 79.47 L164.10 83.82 L164.80 85.47 L165.50 81.11 L166.20 84.71 L166.90 81.87 L167.60 86.49 L168.30 86.64 L169.00 80.74 L169.70 75.58 L170.40 79.33 L171.10 76.80 L171.80 76.93 L172.50 80.98 L173.20 85.73 L173.90 81.79 L174.60 79.75 L175.30 75.07 L176.00 77.66 L176.70 76.63 L177.40 81.61 L178.10 79.40 L178.80 80.29 L179.50 80.42 L180.20 80.34 L180.90 83.48 L181.60 82.07 L182.30 79.43 L183.00 80.60 L183.70 82.37 L184.40 84.40 L185.10 81.45 L185.80 83.84 L186.50 78.15 L187.20 77.54 L187.90 74.81 L188.60 80.40 L189.30 75.70 L190.00 75.81 L190.70 81.10 L191.40 77.71 L192.10 77.28 L192.80 82.05 L193.50 79.97 L194.20 82.32 L194.90 79.37 L195.60 82.53 L196.30 83.80 L197.00 81.79 L197.70 85.69 L198.40 79.85 L199.10 79.58 L199.80 81.14 L200.50 83.65 L201.20 80.07 L201.90 79.41 L202.60 82.09 L203.30 84.82 L204.00 79.76 L204.70 76.90 L205.40 80.54 L206.10 83.00 L206.80 80.14 L207.50 80.77 L208.20 75.88 L208.90 80.96 L209.60 82.50 L210.30 84.11 L211.00 83.72 L211.70 84.23 L212.40 79.84 L213.10 83.11 L213.80 77.30 L214.50 80.40 L215.20 86.23 L215.90 85.03 L216.60 77.74 L217.30 83.64 L218.00 81.58 L218.70 80.57 L219.40 83.54 L220.10 84.51 L220.80 87.14 L221.50 79.47 L222.20 81.48 L222.90 82.14 L223.60 78.55 L224.30 87.54 L225.00 89.78 L225.70 82.96 L226.40 84.47 L227.10 83.06 L227.80 83.82 L228.50 81.73 L229.20 84.86 L229.90 80.45 L230.60 86.75 L231.30 85.73 L232.00 89.56 L232.70 78.44 L233.40 80.57 L234.10 78.03 L234.80 81.18 L235.50 82.74 L236.20 78.38 L236.90 75.81 L237.60 75.44 L238.30 81.81 L239.00 85.89 L239.70 85.38 L240.40 81.13 L241.10 77.60 L241.80 78.28 L242.50 74.81 L243.20 75.20 L243.90 82.64 L244.60 79.89 L245.30 80.63 L246.00 79.69 L246.70 84.28 L247.40 84.14 L248.10 77.27 L248.80 77.12 L249.50 77.15 L250.20 83.03 L250.90 82.84 L251.60 79.09 L252.30 85.13 L253.00 78.49 L253.70 72.87 L254.40 70.45 L255.10 76.01 L255.80 77.77 L256.50 75.43 L257.20 78.19 L257.90 80.46 L258.60 77.19 L259.30 79.62 L260.00 81.88 L260.70 77.91 L261.40 74.27 L262.10 76.77 L262.80 78.21 L263.50 81.82 L264.20 73.81 L264.90 69.77 L265.60 74.84 L266.30 75.28 L267.00 73.27 L267.70 75.67 L268.40 75.64 L269.10 77.11 L269.80 71.02 L270.50 70.57 L271.20 72.34 L271.90 71.85 L272.60 76.66 L273.30 74.89 L274.00 73.24 L274.70 77.11 L275.40 74.88 L276.10 75.93 L276.80 75.19 L277.50 72.20 L278.20 71.92 L278.90 71.93 L279.60 69.03 L280.30 71.51 L281.00 75.46 L281.70 73.82 L282.40 71.35 L283.10 79.51 L283.80 71.42 L284.50 75.07 L285.20 76.57 L285.90 77.39 L286.60 71.50 L287.30 73.20 L288.00 73.72 L288.70 77.52 L289.40 75.93 L290.10 75.82 L290.80 77.03 L291.50 81.01 L292.20 77.89 L292.90 77.11 L293.60 72.44 L294.30 75.79 L295.00 71.70 L295.70 77.33 L296.40 75.52 L297.10 71.86 L297.80 71.16 L298.50 74.55 L299.20 75.51 L299.90 73.69 L300.60 74.19 L301.30 74.37 L302.00 73.95 L302.70 75.24 L303.40 77.46 L304.10 80.69 L304.80 78.64 L305.50 75.56 L306.20 81.47 L306.90 80.35 L307.60 76.13 L308.30 78.52 L309.00 74.05 L309.70 72.48 L310.40 73.50 L311.10 79.99 L311.80 76.47 L312.50 76.04 L313.20 74.98 L313.90 73.70 L314.60 76.21 L315.30 77.76 L316.00 80.36 L316.70 73.24 L317.40 78.75 L318.10 75.91 L318.80 69.19 L319.50 76.65 L320.20 79.60 L320.90 77.73 L321.60 74.64 L322.30 72.76 L323.00 67.01 L323.70 72.96 L324.40 72.96 L325.10 69.83 L325.80 72.25 L326.50 71.41 L327.20 78.26 L327.90 68.82 L328.60 67.32 L329.30 64.23 L330.00 69.21 L330.70 71.47 L331.40 70.91 L332.10 69.40 L332.80 73.36 L333.50 72.43 L334.20 74.29 L334.90 69.73 L335.60 64.93 L336.30 69.01 L337.00 68.28 L337.70 73.16 L338.40 70.02 L339.10 70.82 L339.80 71.23 L340.50 67.26 L341.20 70.67 L341.90 74.45 L342.60 70.74 L343.30 71.45 L344.00 72.26 L344.70 69.97 L345.40 71.10 L346.10 73.16 L346.80 71.17 L347.50 72.02 L348.20 71.16 L348.90 68.11 L349.60 68.49 L350.30 78.32 L351.00 77.31 L351.70 72.84 L352.40 75.53 L353.10 76.47 L353.80 75.44 L354.50 70.69 L355.20 66.78 L355.90 67.29 L356.60 71.36 L357.30 76.94 L358.00 77.50 L358.70 71.93 L359.40 71.51 L360.10 76.86 L360.80 79.95 L361.50 72.85 L362.20 76.70 L362.90 77.26 L363.60 76.77 L364.30 77.66 L365.00 78.90 L365.70 77.57 L366.40 72.09 L367.10 74.93 L367.80 76.55 L368.50 75.25 L369.20 73.53 L369.90 70.44 L370.60 69.05 L371.30 71.81 L372.00 64.61 L372.70 65.16 L373.40 68.13 L374.10 64.23 L374.80 59.84 L375.50 61.56 L376.20 62.44 L376.90 63.21 L377.60 63.14 L378.30 67.36 L379.00 67.07 L379.70 65.80 L380.40 63.67 L381.10 67.75 L381.80 69.01 L382.50 71.43 L383.20 63.60 L383.90 64.59 L384.60 68.36 L385.30 62.13 L386.00 65.18 L386.70 65.69 L387.40 64.74 L388.10 62.09 L388.80 63.99 L389.50 61.10 L390.20 67.95 L390.90 64.41 L391.60 65.58 L392.30 65.52 L393.00 66.10 L393.70 66.21 L394.40 66.79 L395.10 64.74 L395.80 65.09 L396.50 61.82 L397.20 61.62 L397.90 62.24 L398.60 61.72 L399.30 60.95 L400.00 63.78 L400.70 68.02 L401.40 67.62 L402.10 65.36 L402.80 67.33 L403.50 69.06 L404.20 74.25 L404.90 63.07 L405.60 66.02 L406.30 63.39 L407.00 69.98 L407.70 67.05 L408.40 68.34 L409.10 68.23 L409.80 67.96 L410.50 57.88 L411.20 62.27 L411.90 66.37 L412.60 63.58 L413.30 69.15 L414.00 71.03 L414.70 63.98 L415.40 66.03 L416.10 70.41 L416.80 74.30 L417.50 72.31 L418.20 70.32 L418.90 65.71 L419.60 67.85 L420.30 68.29 L421.00 66.59 L421.70 69.09 L422.40 67.30 L423.10 67.83 L423.80 74.67 L424.50 69.83 L425.20 73.97 L425.90 68.13 L426.60 67.44 L427.30 64.30 L428.00 66.90 L428.70 73.22 L429.40 68.43 L430.10 63.09 L430.80 71.64 L431.50 66.37 L432.20 66.90 L432.90 67.44 L433.60 63.60 L434.30 73.27 L435.00 73.39 L435.70 68.59 L436.40 69.64 L437.10 67.86 L437.80 66.79 L438.50 67.20 L439.20 64.16 L439.90 66.75 L440.60 68.03 L441.30 74.04 L442.00 66.10 L442.70 72.71 L443.40 72.10 L444.10 69.72 L444.80 68.33 L445.50 75.33 L446.20 74.73 L446.90 69.83 L447.60 68.84 L448.30 70.81 L449.00 74.79 L449.70 67.59 L450.40 69.89 L451.10 72.46 L451.80 65.77 L452.50 69.23 L453.20 72.88 L453.90 68.82 L454.60 68.40 L455.30 65.07 L456.00 69.64 L456.70 66.15 L457.40 68.24 L458.10 70.49 L458.80 68.79 L459.50 72.76 L460.20 72.86 L460.90 72.21 L461.60 72.98 L462.30 68.56 L463.00 63.16 L463.70 71.45 L464.40 71.94 L465.10 67.72 L465.80 66.84 L466.50 71.98 L467.20 67.81 L467.90 67.14 L468.60 68.26 L469.30 75.29 L470.00 66.09 L470.70 59.84 L471.40 66.03 L472.10 63.85 L472.80 61.93 L473.50 66.93 L474.20 66.34 L474.90 69.68 L475.60 67.22 L476.30 71.13 L477.00 70.66 L477.70 67.84 L478.40 70.09 L479.10 73.02 L479.80 68.89 L480.50 62.37 L481.20 65.99 L481.90 67.53 L482.60 70.06 L483.30 66.80 L484.00 69.31 L484.70 65.99 L485.40 65.62 L486.10 64.89 L486.80 65.34 L487.50 65.10 L488.20 65.88 L488.90 62.44 L489.60 61.38 L490.30 64.22 L491.00 65.03 L491.70 63.71 L492.40 65.80 L493.10 66.53 L493.80 69.04 L494.50 61.50 L495.20 68.41 L495.90 56.81 L496.60 57.33 L497.30 63.19 L498.00 60.58 L498.70 61.80 L499.40 61.12 L500.10 58.23 L500.80 58.15 L501.50 61.60 L502.20 64.56 L502.90 65.54 L503.60 64.14 L504.30 63.20 L505.00 66.09 L505.70 57.50 L506.40 63.39 L507.10 68.57 L507.80 70.12 L508.50 69.16 L509.20 69.34 L509.90 68.08 L510.60 64.05 L511.30 57.17 L512.00 61.58 L512.70 64.14 L513.40 69.11 L514.10 63.89 L514.80 63.72 L515.50 66.18 L516.20 62.19 L516.90 64.85 L517.60 66.60 L518.30 64.34 L519.00 63.95 L519.70 59.08 L520.40 60.45 L521.10 64.54 L521.80 68.59 L522.50 63.83 L523.20 62.02 L523.90 63.01 L524.60 66.65 L525.30 61.73 L526.00 65.47 L526.70 64.89 L527.40 65.65 L528.10 63.80 L528.80 66.70 L529.50 70.33 L530.20 65.80 L530.90 63.41 L531.60 58.41 L532.30 66.39 L533.00 64.98 L533.70 67.57 L534.40 66.85 L535.10 64.06 L535.80 63.80 L536.50 63.41 L537.20 73.01 L537.90 71.38 L538.60 70.82 L539.30 72.09 L540.00 72.69 L540.70 71.18 L541.40 72.11 L542.10 74.61 L542.80 63.17 L543.50 66.62 L544.20 65.30 L544.90 65.71 L545.60 58.67 L546.30 62.77 L547.00 68.31 L547.70 63.63 L548.40 67.53 L549.10 64.39 L549.80 65.05 L550.50 61.57 L551.20 63.21 L551.90 61.83 L552.60 66.63 L553.30 61.47 L554.00 66.32 L554.70 64.76 L555.40 66.26 L556.10 70.57 L556.80 65.86 L557.50 64.11 L558.20 66.26 L558.90 68.06 L559.60 65.58 L560.30 71.19 L561.00 67.22 L561.70 64.62 L562.40 63.63 L563.10 65.36 L563.80 68.04 L564.50 69.40 L565.20 66.21 L565.90 63.88 L566.60 64.18 L567.30 59.55 L568.00 68.40 L568.70 68.55 L569.40 65.61 L570.10 67.03 L570.80 63.55 L571.50 70.47 L572.20 65.68 L572.90 65.08 L573.60 71.79" stroke="#ff1f1f" stroke-width="2.8" fill="none" stroke-linejoin="round" stroke-linecap="butt"/><text x="103.50" y="369.20" font-size="20" text-anchor="end" fill="#1c1c1c" stroke-width="0.3">1.0</text><text x="103.50" y="254.60" font-size="20" text-anchor="end" fill="#1c1c1c" stroke-width="0.3">1.5</text><text x="103.50" y="140.00" font-size="20" text-anchor="end" fill="#1c1c1c" stroke-width="0.3">2.0</text><text x="103.50" y="25.40" font-size="20" text-anchor="end" fill="#1c1c1c" stroke-width="0.3">2.5</text><text x="111.40" y="385.50" font-size="20" text-anchor="middle" fill="#1c1c1c" stroke-width="0.3">0</text><text x="199.42" y="385.50" font-size="20" text-anchor="middle" fill="#1c1c1c" stroke-width="0.3">10,000</text><text x="291.94" y="385.50" font-size="20" text-anchor="middle" fill="#1c1c1c" stroke-width="0.3">20,000</text><text x="384.46" y="385.50" font-size="20" text-anchor="middle" fill="#1c1c1c" stroke-width="0.3">30,000</text><text x="476.98" y="385.50" font-size="20" text-anchor="middle" fill="#1c1c1c" stroke-width="0.3">40,000</text><text x="569.50" y="385.50" font-size="20" text-anchor="middle" fill="#1c1c1c" stroke-width="0.3">50,000</text><text x="344.50" y="413.50" font-size="28" text-anchor="middle" fill="#1c1c1c" stroke-width="0.55">t/ps</text><text x="72.00" y="189.50" font-size="24" text-anchor="middle" fill="#1c1c1c" stroke-width="0.4" transform="rotate(-90 72.00 189.50)">RMSD/nm</text><text x="9.00" y="39.00" font-size="35" text-anchor="start" fill="#1c1c1c" stroke-width="0.55">(a)</text><path d="M717.10 368.00V362.00M794.37 368.00V362.00M871.63 368.00V362.00M948.90 368.00V362.00M1026.17 368.00V362.00M1103.43 368.00V362.00M1180.70 368.00V362.00M755.73 368.00V364.50M833.00 368.00V364.50M910.27 368.00V364.50M987.53 368.00V364.50M1064.80 368.00V364.50M1142.07 368.00V364.50M717.10 368.00H723.10M717.10 299.17H723.10M717.10 230.34H723.10M717.10 161.51H723.10M717.10 92.68H723.10M717.10 23.85H723.10M717.10 333.58H720.60M717.10 264.75H720.60M717.10 195.93H720.60M717.10 127.10H720.60M717.10 58.26H720.60" stroke="#474747" stroke-width="1.7" fill="none"/><rect x="717.10" y="23.85" width="463.60" height="344.15" stroke="#474747" stroke-width="2.0" fill="none"/><path d="M717.10 367.70 L727.88 367.70 L738.66 367.70 L749.44 367.70 L760.23 367.00 L771.01 365.84 L781.79 363.52 L792.57 361.19 L803.35 355.39 L814.13 344.94 L824.91 331.00 L835.70 313.59 L846.48 320.55 L857.26 319.39 L868.04 298.49 L878.82 233.46 L889.60 95.29 L900.38 191.66 L911.17 346.10 L921.95 367.70 L932.73 367.70 L943.51 367.70 L954.29 367.70 L965.07 367.70 L975.85 367.70 L986.63 346.10 L997.42 191.66 L1008.20 95.29 L1018.98 233.46 L1029.76 298.49 L1040.54 319.39 L1051.32 320.55 L1062.10 313.59 L1072.89 331.00 L1083.67 344.94 L1094.45 355.39 L1105.23 361.19 L1116.01 363.52 L1126.79 365.84 L1137.57 367.00 L1148.36 367.70 L1159.14 367.70 L1169.92 367.70 L1180.70 367.70" stroke="#fd9026" stroke-width="2.3" fill="none" stroke-linejoin="miter" stroke-linecap="butt"/><path d="M717.10 328.68 L727.88 346.10 L738.66 351.90 L749.44 347.26 L760.23 332.16 L771.01 325.20 L781.79 328.68 L792.57 342.61 L803.35 344.94 L814.13 332.16 L824.91 307.78 L835.70 275.27 L846.48 314.75 L857.26 324.04 L868.04 319.39 L878.82 274.11 L889.60 65.79 L900.38 187.02 L911.17 344.94 L921.95 367.00 L932.73 367.70 L943.51 367.70 L954.29 367.70 L965.07 367.70 L975.85 367.00 L986.63 344.94 L997.42 187.02 L1008.20 65.79 L1018.98 274.11 L1029.76 319.39 L1040.54 324.04 L1051.32 314.75 L1062.10 275.27 L1072.89 307.78 L1083.67 332.16 L1094.45 344.94 L1105.23 342.61 L1116.01 328.68 L1126.79 325.20 L1137.57 332.16 L1148.36 347.26 L1159.14 351.90 L1169.92 346.10 L1180.70 328.68" stroke="#23962a" stroke-width="2.3" fill="none" stroke-linejoin="miter" stroke-linecap="butt"/><path d="M717.10 367.70 L727.88 366.30 L738.66 365.14 L749.44 363.52 L760.23 361.66 L771.01 359.34 L781.79 356.08 L792.57 351.90 L803.35 346.10 L814.13 335.65 L824.91 314.75 L835.70 298.49 L846.48 298.49 L857.26 286.88 L868.04 263.66 L878.82 226.50 L889.60 203.27 L900.38 231.14 L911.17 286.88 L921.95 314.75 L932.73 354.23 L943.51 367.70 L954.29 367.70 L965.07 354.23 L975.85 314.75 L986.63 286.88 L997.42 231.14 L1008.20 203.27 L1018.98 226.50 L1029.76 263.66 L1040.54 286.88 L1051.32 298.49 L1062.10 298.49 L1072.89 314.75 L1083.67 335.65 L1094.45 346.10 L1105.23 351.90 L1116.01 356.08 L1126.79 359.34 L1137.57 361.66 L1148.36 363.52 L1159.14 365.14 L1169.92 366.30 L1180.70 367.70" stroke="#8f1fff" stroke-width="2.3" fill="none" stroke-linejoin="miter" stroke-linecap="butt"/><path d="M717.10 367.70 L727.88 367.70 L738.66 367.70 L749.44 367.70 L760.23 367.70 L771.01 365.84 L781.79 361.19 L792.57 349.58 L803.35 333.33 L814.13 324.04 L824.91 326.36 L835.70 314.75 L846.48 293.85 L857.26 265.98 L868.04 248.56 L878.82 189.34 L889.60 160.31 L900.38 242.75 L911.17 347.26 L921.95 365.84 L932.73 367.70 L943.51 367.70 L954.29 367.70 L965.07 367.70 L975.85 365.84 L986.63 347.26 L997.42 242.75 L1008.20 160.31 L1018.98 189.34 L1029.76 248.56 L1040.54 265.98 L1051.32 293.85 L1062.10 314.75 L1072.89 326.36 L1083.67 324.04 L1094.45 333.33 L1105.23 349.58 L1116.01 361.19 L1126.79 365.84 L1137.57 367.70 L1148.36 367.70 L1159.14 367.70 L1169.92 367.70 L1180.70 367.70" stroke="#ff1f1f" stroke-width="2.3" fill="none" stroke-linejoin="miter" stroke-linecap="butt"/><text x="709.50" y="374.50" font-size="19" text-anchor="end" fill="#1c1c1c" stroke-width="0.3">0</text><text x="709.50" y="305.67" font-size="19" text-anchor="end" fill="#1c1c1c" stroke-width="0.3">500</text><text x="709.50" y="236.84" font-size="19" text-anchor="end" fill="#1c1c1c" stroke-width="0.3">1 000</text><text x="709.50" y="168.01" font-size="19" text-anchor="end" fill="#1c1c1c" stroke-width="0.3">1 500</text><text x="709.50" y="99.18" font-size="19" text-anchor="end" fill="#1c1c1c" stroke-width="0.3">2 000</text><text x="709.50" y="30.35" font-size="19" text-anchor="end" fill="#1c1c1c" stroke-width="0.3">2 500</text><text x="713.60" y="390.50" font-size="19" text-anchor="middle" fill="#1c1c1c" stroke-width="0.3">−1.5</text><text x="790.87" y="390.50" font-size="19" text-anchor="middle" fill="#1c1c1c" stroke-width="0.3">−1.0</text><text x="868.13" y="390.50" font-size="19" text-anchor="middle" fill="#1c1c1c" stroke-width="0.3">−0.5</text><text x="948.90" y="390.50" font-size="19" text-anchor="middle" fill="#1c1c1c" stroke-width="0.3">0.0</text><text x="1026.17" y="390.50" font-size="19" text-anchor="middle" fill="#1c1c1c" stroke-width="0.3">0.5</text><text x="1103.43" y="390.50" font-size="19" text-anchor="middle" fill="#1c1c1c" stroke-width="0.3">1.0</text><text x="1180.70" y="390.50" font-size="19" text-anchor="middle" fill="#1c1c1c" stroke-width="0.3">1.5</text><text x="949.00" y="417.00" font-size="27" text-anchor="middle" fill="#1c1c1c" stroke-width="0.55">Distance/nm</text><text x="656.00" y="195.50" font-size="23.5" text-anchor="middle" fill="#1c1c1c" stroke-width="0.4" transform="rotate(-90 656.00 195.50) translate(656.00 195.50) scale(1 1.06) translate(-656.00 -195.50)">Density(kg/m<tspan dy="-9" font-size="16">3</tspan><tspan dy="9">)</tspan></text><text x="617.00" y="40.00" font-size="35" text-anchor="start" fill="#1c1c1c" stroke-width="0.55">(b)</text><path d="M107.30 825.70V818.70M176.89 825.70V818.70M246.48 825.70V818.70M316.06 825.70V818.70M385.65 825.70V818.70M455.24 825.70V818.70M524.83 825.70V818.70M142.09 825.70V821.70M211.68 825.70V821.70M281.27 825.70V821.70M350.86 825.70V821.70M420.45 825.70V821.70M490.04 825.70V821.70M559.62 825.70V821.70M107.30 825.70H114.30M107.30 761.62H114.30M107.30 697.54H114.30M107.30 633.46H114.30M107.30 569.38H114.30M107.30 505.30H114.30M107.30 793.66H111.30M107.30 729.58H111.30M107.30 665.50H111.30M107.30 601.42H111.30M107.30 537.34H111.30" stroke="#464646" stroke-width="1.615" fill="none"/><rect x="107.30" y="474.00" width="473.20" height="351.70" stroke="#464646" stroke-width="1.9" fill="none"/><path d="M108.00 825.70 L108.75 825.70 L109.50 825.70 L110.25 825.70 L111.00 825.70 L111.75 825.70 L112.50 825.70 L113.25 825.70 L114.00 825.70 L114.75 825.70 L115.50 825.70 L116.25 825.70 L117.00 825.70 L117.75 825.70 L118.50 825.70 L119.25 825.70 L120.00 825.70 L120.75 825.70 L121.50 825.70 L122.25 825.70 L123.00 825.70 L123.75 825.70 L124.50 825.70 L125.25 825.70 L126.00 825.70 L126.75 825.70 L127.50 825.70 L128.25 825.70 L129.00 825.70 L129.75 825.70 L130.50 825.70 L131.25 825.70 L132.00 825.70 L132.75 825.70 L133.50 825.70 L134.25 825.70 L135.00 825.70 L135.75 825.70 L136.50 825.70 L137.25 825.70 L138.00 825.70 L138.75 825.70 L139.50 825.70 L140.25 825.70 L141.00 825.70 L141.75 825.70 L142.50 825.70 L143.25 825.70 L144.00 825.70 L144.75 825.70 L145.50 825.70 L146.25 825.70 L147.00 825.70 L147.75 825.70 L148.50 825.70 L149.25 825.70 L150.00 825.70 L150.75 825.70 L151.50 825.70 L152.25 825.70 L153.00 825.70 L153.75 825.70 L154.50 825.70 L155.25 825.70 L156.00 825.70 L156.75 825.70 L157.50 825.70 L158.25 825.70 L159.00 825.70 L159.75 825.70 L160.50 825.70 L161.25 825.70 L162.00 825.70 L162.75 825.70 L163.50 825.70 L164.25 825.70 L165.00 825.70 L165.75 825.70 L166.50 825.70 L167.25 825.70 L168.00 825.70 L168.75 825.70 L169.50 825.70 L170.25 825.70 L171.00 825.70 L171.75 825.70 L172.50 825.70 L173.25 825.70 L174.00 825.70 L174.75 825.70 L175.50 825.76 L176.25 825.10 L177.00 824.35 L177.75 823.51 L178.50 823.04 L179.25 820.83 L180.00 820.42 L180.75 819.26 L181.50 817.48 L182.25 816.80 L183.00 815.16 L183.75 814.41 L184.50 812.80 L185.25 811.75 L186.00 810.56 L186.75 808.80 L187.50 806.81 L188.25 804.96 L189.00 804.39 L189.75 801.92 L190.50 799.80 L191.25 798.07 L192.00 795.82 L192.75 793.93 L193.50 791.27 L194.25 788.75 L195.00 785.85 L195.75 783.48 L196.50 779.90 L197.25 776.91 L198.00 773.12 L198.75 767.53 L199.50 762.27 L200.25 758.09 L201.00 753.20 L201.75 746.16 L202.50 740.08 L203.25 734.59 L204.00 727.86 L204.75 721.72 L205.50 715.52 L206.25 709.18 L207.00 701.46 L207.75 693.79 L208.50 685.42 L209.25 676.87 L210.00 668.86 L210.75 660.76 L211.50 653.76 L212.25 646.78 L213.00 641.05 L213.75 636.25 L214.50 630.12 L215.25 624.92 L216.00 620.65 L216.75 616.89 L217.50 614.86 L218.25 613.82 L219.00 612.63 L219.75 611.11 L220.50 610.93 L221.25 609.67 L222.00 608.86 L222.75 608.38 L223.50 608.12 L224.25 608.50 L225.00 607.27 L225.75 607.52 L226.50 606.50 L227.25 607.04 L228.00 607.16 L228.75 606.58 L229.50 606.27 L230.25 606.41 L231.00 606.43 L231.75 606.28 L232.50 606.61 L233.25 605.88 L234.00 605.50 L234.75 605.58 L235.50 605.52 L236.25 605.53 L237.00 605.43 L237.75 605.47 L238.50 604.81 L239.25 605.69 L240.00 605.35 L240.75 605.47 L241.50 606.60 L242.25 607.47 L243.00 607.93 L243.75 608.65 L244.50 609.19 L245.25 611.48 L246.00 611.79 L246.75 612.09 L247.50 613.21 L248.25 614.48 L249.00 614.81 L249.75 616.25 L250.50 616.76 L251.25 617.98 L252.00 618.47 L252.75 617.77 L253.50 619.30 L254.25 619.28 L255.00 620.79 L255.75 621.01 L256.50 621.67 L257.25 621.63 L258.00 623.16 L258.75 623.73 L259.50 623.14 L260.25 624.13 L261.00 624.23 L261.75 624.92 L262.50 624.93 L263.25 626.46 L264.00 625.89 L264.75 626.53 L265.50 627.20 L266.25 627.18 L267.00 627.69 L267.75 627.93 L268.50 628.42 L269.25 628.39 L270.00 628.97 L270.75 629.36 L271.50 629.62 L272.25 630.06 L273.00 630.23 L273.75 630.88 L274.50 630.78 L275.25 631.11 L276.00 631.19 L276.75 631.50 L277.50 631.49 L278.25 632.37 L279.00 632.03 L279.75 632.41 L280.50 633.03 L281.25 633.28 L282.00 633.23 L282.75 632.89 L283.50 633.97 L284.25 634.13 L285.00 633.77 L285.75 634.77 L286.50 634.49 L287.25 634.58 L288.00 635.26 L288.75 635.41 L289.50 635.80 L290.25 635.42 L291.00 636.87 L291.75 636.27 L292.50 636.19 L293.25 637.18 L294.00 637.07 L294.75 637.53 L295.50 637.51 L296.25 637.81 L297.00 638.11 L297.75 637.94 L298.50 638.59 L299.25 638.33 L300.00 638.32 L300.75 638.76 L301.50 638.97 L302.25 638.79 L303.00 638.61 L303.75 639.14 L304.50 638.28 L305.25 638.47 L306.00 638.75 L306.75 638.12 L307.50 638.44 L308.25 638.22 L309.00 638.34 L309.75 637.47 L310.50 637.33 L311.25 637.40 L312.00 636.15 L312.75 637.82 L313.50 636.20 L314.25 635.91 L315.00 636.20 L315.75 635.61 L316.50 634.75 L317.25 635.35 L318.00 635.20 L318.75 634.54 L319.50 634.43 L320.25 634.55 L321.00 633.94 L321.75 634.33 L322.50 634.21 L323.25 633.90 L324.00 633.68 L324.75 634.15 L325.50 634.01 L326.25 634.78 L327.00 634.62 L327.75 635.00 L328.50 634.96 L329.25 635.20 L330.00 635.05 L330.75 635.80 L331.50 636.43 L332.25 635.96 L333.00 636.13 L333.75 636.57 L334.50 636.74 L335.25 636.96 L336.00 637.55 L336.75 637.70 L337.50 638.61 L338.25 638.41 L339.00 638.82 L339.75 639.34 L340.50 639.20 L341.25 640.13 L342.00 639.75 L342.75 640.06 L343.50 640.61 L344.25 641.12 L345.00 641.10 L345.75 642.03 L346.50 641.92 L347.25 643.47 L348.00 643.44 L348.75 643.74 L349.50 644.15 L350.25 644.84 L351.00 645.41 L351.75 645.64 L352.50 646.19 L353.25 646.96 L354.00 647.35 L354.75 648.36 L355.50 648.92 L356.25 649.01 L357.00 649.63 L357.75 649.45 L358.50 650.58 L359.25 650.77 L360.00 651.35 L360.75 652.12 L361.50 651.13 L362.25 652.38 L363.00 652.27 L363.75 653.23 L364.50 652.93 L365.25 653.58 L366.00 654.19 L366.75 654.70 L367.50 654.87 L368.25 654.93 L369.00 655.37 L369.75 656.23 L370.50 656.27 L371.25 656.04 L372.00 657.27 L372.75 657.47 L373.50 657.97 L374.25 657.88 L375.00 658.62 L375.75 658.29 L376.50 659.18 L377.25 659.13 L378.00 659.85 L378.75 660.27 L379.50 659.97 L380.25 660.50 L381.00 660.82 L381.75 661.50 L382.50 661.61 L383.25 661.20 L384.00 662.04 L384.75 662.39 L385.50 663.12 L386.25 662.02 L387.00 662.64 L387.75 663.51 L388.50 662.78 L389.25 663.03 L390.00 663.81 L390.75 664.16 L391.50 663.73 L392.25 664.31 L393.00 664.31 L393.75 664.94 L394.50 664.54 L395.25 665.02 L396.00 664.48 L396.75 664.85 L397.50 664.99 L398.25 665.54 L399.00 665.45 L399.75 665.08 L400.50 665.69 L401.25 665.81 L402.00 665.60 L402.75 665.64 L403.50 665.75 L404.25 665.31 L405.00 666.06 L405.75 666.15 L406.50 665.85 L407.25 666.50 L408.00 665.84 L408.75 666.20 L409.50 666.31 L410.25 667.25 L411.00 666.08 L411.75 666.92 L412.50 667.13 L413.25 667.02 L414.00 667.38 L414.75 666.71 L415.50 666.35 L416.25 667.50 L417.00 666.91 L417.75 667.31 L418.50 667.11 L419.25 668.00 L420.00 668.04 L420.75 667.59 L421.50 668.27 L422.25 668.12 L423.00 668.15 L423.75 668.35 L424.50 668.39 L425.25 668.81 L426.00 668.84 L426.75 668.75 L427.50 669.37 L428.25 668.95 L429.00 669.41 L429.75 669.61 L430.50 670.14 L431.25 669.60 L432.00 670.55 L432.75 670.17 L433.50 670.20 L434.25 670.20 L435.00 670.82 L435.75 670.80 L436.50 670.57 L437.25 670.74 L438.00 671.12 L438.75 671.26 L439.50 672.06 L440.25 672.34 L441.00 672.35 L441.75 672.36 L442.50 672.27 L443.25 672.63 L444.00 673.11 L444.75 673.73 L445.50 673.50 L446.25 673.28 L447.00 673.58 L447.75 673.59 L448.50 673.68 L449.25 674.09 L450.00 674.42 L450.75 675.19 L451.50 674.76 L452.25 675.42 L453.00 675.76 L453.75 675.36 L454.50 676.09 L455.25 675.98 L456.00 675.79 L456.75 676.24 L457.50 676.37 L458.25 676.50 L459.00 676.74 L459.75 677.08 L460.50 677.42 L461.25 677.19 L462.00 677.73 L462.75 677.44 L463.50 678.31 L464.25 678.68 L465.00 678.77 L465.75 679.06 L466.50 679.41 L467.25 679.22 L468.00 679.62 L468.75 680.13 L469.50 680.55 L470.25 680.59 L471.00 681.59 L471.75 680.91 L472.50 681.54 L473.25 681.87 L474.00 681.62 L474.75 681.62 L475.50 681.73 L476.25 682.43 L477.00 682.99 L477.75 682.92 L478.50 683.11 L479.25 683.13 L480.00 683.67 L480.75 682.94 L481.50 683.97 L482.25 684.09 L483.00 683.79 L483.75 685.21 L484.50 684.14 L485.25 684.42 L486.00 684.54 L486.75 685.51 L487.50 684.96 L488.25 685.66 L489.00 685.79 L489.75 685.82 L490.50 685.43 L491.25 685.82 L492.00 686.76 L492.75 685.87 L493.50 686.17 L494.25 686.55 L495.00 687.03 L495.75 686.97 L496.50 687.28 L497.25 686.78 L498.00 687.61 L498.75 687.61 L499.50 686.98 L500.25 688.21 L501.00 688.60 L501.75 687.65 L502.50 688.06 L503.25 688.65 L504.00 687.76 L504.75 687.70 L505.50 688.06 L506.25 688.43 L507.00 688.54 L507.75 689.06 L508.50 689.05 L509.25 688.63 L510.00 689.37 L510.75 689.94 L511.50 689.80 L512.25 689.84 L513.00 689.60 L513.75 690.03 L514.50 689.45 L515.25 690.15 L516.00 689.95 L516.75 690.47 L517.50 690.33 L518.25 689.88 L519.00 690.40 L519.75 690.87 L520.50 690.13 L521.25 690.42 L522.00 690.43 L522.75 690.26 L523.50 691.20 L524.25 691.40 L525.00 691.30 L525.75 691.18 L526.50 691.16 L527.25 691.33 L528.00 691.07 L528.75 691.71 L529.50 691.84 L530.25 691.87 L531.00 691.43 L531.75 691.72 L532.50 691.70 L533.25 692.46 L534.00 691.96 L534.75 691.31 L535.50 692.18 L536.25 692.77 L537.00 692.42 L537.75 692.55 L538.50 692.33 L539.25 691.69 L540.00 691.82 L540.75 692.09 L541.50 692.55 L542.25 692.77 L543.00 692.97 L543.75 692.68 L544.50 693.21 L545.25 692.84 L546.00 692.77 L546.75 693.38 L547.50 692.84 L548.25 692.28 L549.00 692.93 L549.75 693.41 L550.50 692.37 L551.25 693.40 L552.00 693.48 L552.75 693.17 L553.50 693.23 L554.25 693.66 L555.00 693.70 L555.75 694.41 L556.50 694.17 L557.25 693.56 L558.00 693.89 L558.75 694.51 L559.50 695.00 L560.25 694.54 L561.00 694.59 L561.75 695.20 L562.50 694.61 L563.25 694.59 L564.00 694.27 L564.75 694.66 L565.50 695.68 L566.25 694.49 L567.00 695.06 L567.75 694.64 L568.50 695.25 L569.25 695.59 L570.00 695.26 L570.75 695.68 L571.50 695.74 L572.25 695.72 L573.00 696.24 L573.75 695.98 L574.50 695.67 L575.25 695.61 L576.00 695.63 L576.75 696.16 L577.50 695.95 L578.25 697.09 L579.00 696.85 L579.75 696.21" stroke="#23962a" stroke-width="2.2" fill="none" stroke-linejoin="round" stroke-linecap="butt"/><path d="M108.00 825.70 L108.75 825.70 L109.50 825.70 L110.25 825.70 L111.00 825.70 L111.75 825.70 L112.50 825.70 L113.25 825.70 L114.00 825.70 L114.75 825.70 L115.50 825.70 L116.25 825.70 L117.00 825.70 L117.75 825.70 L118.50 825.70 L119.25 825.70 L120.00 825.70 L120.75 825.70 L121.50 825.70 L122.25 825.70 L123.00 825.70 L123.75 825.70 L124.50 825.70 L125.25 825.70 L126.00 825.70 L126.75 825.70 L127.50 825.70 L128.25 825.70 L129.00 825.70 L129.75 825.70 L130.50 825.70 L131.25 825.70 L132.00 825.70 L132.75 825.70 L133.50 825.70 L134.25 825.70 L135.00 825.70 L135.75 825.70 L136.50 825.70 L137.25 825.70 L138.00 825.70 L138.75 825.70 L139.50 825.70 L140.25 825.70 L141.00 825.70 L141.75 825.70 L142.50 825.70 L143.25 825.70 L144.00 825.70 L144.75 825.70 L145.50 825.70 L146.25 825.70 L147.00 825.70 L147.75 825.70 L148.50 825.70 L149.25 825.70 L150.00 825.70 L150.75 825.70 L151.50 825.70 L152.25 825.70 L153.00 825.70 L153.75 825.70 L154.50 825.70 L155.25 825.70 L156.00 825.70 L156.75 825.70 L157.50 825.70 L158.25 825.70 L159.00 825.70 L159.75 825.70 L160.50 825.70 L161.25 825.70 L162.00 825.70 L162.75 825.70 L163.50 825.70 L164.25 825.70 L165.00 825.70 L165.75 825.70 L166.50 825.70 L167.25 825.70 L168.00 825.70 L168.75 825.70 L169.50 825.70 L170.25 825.70 L171.00 825.70 L171.75 825.70 L172.50 825.70 L173.25 825.70 L174.00 825.70 L174.75 825.70 L175.50 825.17 L176.25 824.81 L177.00 824.44 L177.75 823.75 L178.50 821.98 L179.25 820.42 L180.00 819.41 L180.75 818.04 L181.50 815.95 L182.25 813.74 L183.00 811.49 L183.75 809.64 L184.50 807.37 L185.25 805.54 L186.00 802.63 L186.75 800.47 L187.50 797.75 L188.25 795.18 L189.00 792.11 L189.75 789.79 L190.50 786.12 L191.25 782.62 L192.00 777.66 L192.75 774.27 L193.50 769.93 L194.25 765.82 L195.00 760.06 L195.75 756.23 L196.50 750.88 L197.25 744.48 L198.00 738.74 L198.75 732.68 L199.50 726.57 L200.25 720.11 L201.00 713.52 L201.75 704.09 L202.50 694.31 L203.25 682.97 L204.00 671.85 L204.75 659.75 L205.50 648.60 L206.25 637.24 L207.00 628.36 L207.75 620.73 L208.50 616.04 L209.25 611.32 L210.00 607.01 L210.75 602.85 L211.50 598.33 L212.25 592.15 L213.00 585.84 L213.75 580.19 L214.50 575.35 L215.25 569.96 L216.00 565.96 L216.75 562.18 L217.50 558.86 L218.25 556.52 L219.00 553.92 L219.75 551.14 L220.50 548.90 L221.25 546.58 L222.00 544.50 L222.75 541.99 L223.50 540.65 L224.25 539.36 L225.00 537.81 L225.75 536.81 L226.50 535.66 L227.25 534.88 L228.00 534.41 L228.75 533.16 L229.50 532.49 L230.25 532.13 L231.00 531.43 L231.75 531.20 L232.50 529.31 L233.25 529.83 L234.00 528.90 L234.75 528.68 L235.50 528.52 L236.25 528.23 L237.00 527.84 L237.75 527.16 L238.50 527.26 L239.25 526.17 L240.00 525.80 L240.75 525.76 L241.50 525.00 L242.25 525.78 L243.00 525.35 L243.75 525.84 L244.50 525.25 L245.25 525.37 L246.00 525.88 L246.75 526.45 L247.50 526.39 L248.25 527.17 L249.00 527.49 L249.75 528.52 L250.50 528.18 L251.25 529.21 L252.00 529.03 L252.75 529.29 L253.50 529.76 L254.25 529.98 L255.00 530.86 L255.75 531.57 L256.50 531.67 L257.25 532.22 L258.00 532.95 L258.75 532.83 L259.50 533.12 L260.25 533.25 L261.00 533.04 L261.75 534.10 L262.50 533.44 L263.25 534.50 L264.00 534.47 L264.75 535.07 L265.50 534.86 L266.25 534.81 L267.00 535.46 L267.75 535.39 L268.50 535.80 L269.25 536.16 L270.00 536.39 L270.75 536.68 L271.50 536.76 L272.25 537.30 L273.00 536.94 L273.75 537.94 L274.50 537.89 L275.25 539.00 L276.00 539.34 L276.75 538.50 L277.50 539.51 L278.25 539.69 L279.00 539.65 L279.75 540.50 L280.50 540.45 L281.25 540.31 L282.00 541.17 L282.75 541.57 L283.50 542.04 L284.25 541.99 L285.00 543.07 L285.75 543.56 L286.50 543.37 L287.25 544.02 L288.00 544.70 L288.75 545.01 L289.50 546.30 L290.25 546.24 L291.00 546.29 L291.75 546.87 L292.50 547.63 L293.25 548.96 L294.00 548.62 L294.75 549.25 L295.50 549.92 L296.25 550.25 L297.00 551.59 L297.75 551.13 L298.50 552.09 L299.25 552.39 L300.00 553.05 L300.75 552.91 L301.50 554.41 L302.25 554.21 L303.00 554.70 L303.75 554.78 L304.50 555.26 L305.25 556.11 L306.00 556.65 L306.75 556.96 L307.50 557.50 L308.25 557.70 L309.00 557.83 L309.75 558.48 L310.50 558.75 L311.25 558.86 L312.00 559.50 L312.75 560.05 L313.50 560.02 L314.25 560.15 L315.00 560.86 L315.75 561.60 L316.50 561.19 L317.25 561.56 L318.00 561.86 L318.75 562.66 L319.50 561.90 L320.25 562.99 L321.00 563.59 L321.75 563.19 L322.50 564.31 L323.25 564.28 L324.00 564.20 L324.75 564.77 L325.50 564.46 L326.25 565.10 L327.00 566.24 L327.75 565.59 L328.50 566.84 L329.25 566.45 L330.00 567.09 L330.75 567.03 L331.50 566.48 L332.25 567.32 L333.00 567.84 L333.75 567.62 L334.50 567.81 L335.25 568.67 L336.00 568.58 L336.75 568.49 L337.50 569.12 L338.25 569.96 L339.00 569.80 L339.75 570.62 L340.50 571.17 L341.25 571.01 L342.00 570.97 L342.75 571.30 L343.50 572.14 L344.25 572.86 L345.00 573.07 L345.75 573.60 L346.50 573.69 L347.25 574.40 L348.00 574.59 L348.75 575.11 L349.50 575.25 L350.25 575.64 L351.00 576.52 L351.75 576.80 L352.50 577.36 L353.25 578.45 L354.00 578.69 L354.75 580.28 L355.50 580.11 L356.25 580.10 L357.00 581.13 L357.75 581.53 L358.50 581.71 L359.25 582.88 L360.00 582.78 L360.75 582.53 L361.50 584.43 L362.25 584.49 L363.00 585.78 L363.75 585.59 L364.50 585.96 L365.25 587.46 L366.00 587.10 L366.75 588.09 L367.50 589.07 L368.25 589.15 L369.00 589.62 L369.75 590.22 L370.50 591.01 L371.25 590.96 L372.00 591.98 L372.75 592.50 L373.50 593.65 L374.25 593.25 L375.00 593.59 L375.75 594.71 L376.50 594.86 L377.25 595.65 L378.00 596.14 L378.75 597.06 L379.50 596.98 L380.25 597.73 L381.00 597.43 L381.75 598.57 L382.50 599.98 L383.25 599.77 L384.00 600.32 L384.75 600.71 L385.50 601.90 L386.25 602.32 L387.00 602.41 L387.75 603.62 L388.50 604.04 L389.25 604.78 L390.00 604.85 L390.75 606.25 L391.50 606.34 L392.25 606.72 L393.00 607.14 L393.75 607.79 L394.50 608.73 L395.25 608.88 L396.00 609.91 L396.75 610.28 L397.50 611.09 L398.25 611.44 L399.00 611.67 L399.75 611.56 L400.50 612.87 L401.25 613.56 L402.00 613.87 L402.75 614.53 L403.50 614.68 L404.25 615.23 L405.00 615.55 L405.75 616.88 L406.50 616.97 L407.25 617.26 L408.00 617.48 L408.75 618.40 L409.50 619.47 L410.25 619.64 L411.00 619.74 L411.75 621.00 L412.50 621.51 L413.25 621.86 L414.00 622.30 L414.75 622.93 L415.50 623.22 L416.25 623.80 L417.00 623.75 L417.75 625.05 L418.50 625.10 L419.25 626.22 L420.00 625.29 L420.75 626.74 L421.50 627.32 L422.25 627.34 L423.00 628.10 L423.75 628.69 L424.50 629.10 L425.25 629.19 L426.00 629.80 L426.75 630.68 L427.50 631.24 L428.25 631.29 L429.00 631.74 L429.75 632.24 L430.50 632.99 L431.25 632.71 L432.00 633.07 L432.75 634.02 L433.50 634.03 L434.25 634.65 L435.00 635.33 L435.75 635.90 L436.50 635.79 L437.25 636.87 L438.00 636.40 L438.75 637.64 L439.50 637.32 L440.25 637.84 L441.00 638.93 L441.75 638.98 L442.50 639.26 L443.25 639.79 L444.00 640.52 L444.75 640.75 L445.50 641.16 L446.25 641.95 L447.00 641.73 L447.75 642.22 L448.50 642.60 L449.25 643.59 L450.00 643.92 L450.75 644.42 L451.50 644.35 L452.25 644.70 L453.00 645.44 L453.75 645.39 L454.50 646.21 L455.25 646.56 L456.00 646.44 L456.75 647.04 L457.50 647.41 L458.25 648.44 L459.00 649.12 L459.75 648.56 L460.50 648.98 L461.25 648.55 L462.00 649.80 L462.75 650.10 L463.50 650.10 L464.25 651.13 L465.00 650.68 L465.75 651.52 L466.50 652.02 L467.25 651.90 L468.00 653.01 L468.75 653.45 L469.50 652.96 L470.25 653.32 L471.00 654.39 L471.75 654.53 L472.50 654.48 L473.25 655.17 L474.00 655.59 L474.75 655.94 L475.50 656.64 L476.25 656.84 L477.00 657.69 L477.75 657.90 L478.50 658.01 L479.25 658.51 L480.00 658.95 L480.75 659.08 L481.50 658.76 L482.25 659.83 L483.00 659.91 L483.75 660.79 L484.50 660.60 L485.25 661.10 L486.00 661.37 L486.75 662.19 L487.50 662.00 L488.25 662.18 L489.00 662.72 L489.75 662.80 L490.50 663.34 L491.25 663.61 L492.00 664.04 L492.75 664.95 L493.50 664.47 L494.25 664.95 L495.00 665.19 L495.75 665.82 L496.50 665.50 L497.25 665.99 L498.00 666.54 L498.75 667.06 L499.50 667.18 L500.25 667.34 L501.00 667.52 L501.75 668.32 L502.50 668.96 L503.25 668.89 L504.00 669.15 L504.75 669.55 L505.50 669.38 L506.25 669.91 L507.00 670.24 L507.75 670.74 L508.50 670.93 L509.25 670.82 L510.00 671.95 L510.75 672.45 L511.50 672.07 L512.25 672.60 L513.00 672.85 L513.75 673.33 L514.50 672.84 L515.25 674.22 L516.00 673.78 L516.75 674.68 L517.50 674.56 L518.25 674.68 L519.00 675.06 L519.75 675.71 L520.50 675.38 L521.25 675.84 L522.00 676.09 L522.75 675.94 L523.50 677.27 L524.25 677.30 L525.00 677.37 L525.75 678.06 L526.50 677.59 L527.25 678.17 L528.00 679.08 L528.75 679.09 L529.50 678.24 L530.25 678.12 L531.00 679.19 L531.75 680.20 L532.50 679.93 L533.25 680.29 L534.00 680.84 L534.75 680.58 L535.50 681.23 L536.25 681.70 L537.00 681.85 L537.75 682.09 L538.50 682.00 L539.25 682.65 L540.00 682.58 L540.75 683.44 L541.50 684.14 L542.25 683.24 L543.00 682.99 L543.75 683.85 L544.50 684.38 L545.25 684.87 L546.00 685.13 L546.75 684.72 L547.50 684.96 L548.25 685.93 L549.00 685.34 L549.75 686.34 L550.50 686.12 L551.25 686.71 L552.00 686.92 L552.75 687.18 L553.50 687.42 L554.25 687.02 L555.00 687.70 L555.75 687.82 L556.50 688.15 L557.25 688.69 L558.00 688.38 L558.75 688.45 L559.50 688.66 L560.25 689.01 L561.00 689.60 L561.75 689.26 L562.50 690.16 L563.25 690.06 L564.00 690.09 L564.75 689.90 L565.50 690.66 L566.25 691.02 L567.00 690.35 L567.75 691.59 L568.50 691.94 L569.25 691.68 L570.00 691.92 L570.75 692.79 L571.50 692.56 L572.25 692.01 L573.00 692.50 L573.75 692.64 L574.50 692.82 L575.25 692.23 L576.00 693.50 L576.75 693.19 L577.50 693.65 L578.25 693.72 L579.00 694.24 L579.75 694.01" stroke="#fd9026" stroke-width="2.2" fill="none" stroke-linejoin="round" stroke-linecap="butt"/><path d="M108.00 825.70 L108.75 825.70 L109.50 825.70 L110.25 825.70 L111.00 825.70 L111.75 825.70 L112.50 825.70 L113.25 825.70 L114.00 825.70 L114.75 825.70 L115.50 825.70 L116.25 825.70 L117.00 825.70 L117.75 825.70 L118.50 825.70 L119.25 825.70 L120.00 825.70 L120.75 825.70 L121.50 825.70 L122.25 825.70 L123.00 825.70 L123.75 825.70 L124.50 825.70 L125.25 825.70 L126.00 825.70 L126.75 825.70 L127.50 825.70 L128.25 825.70 L129.00 825.70 L129.75 825.70 L130.50 825.70 L131.25 825.70 L132.00 825.70 L132.75 825.70 L133.50 825.70 L134.25 825.70 L135.00 825.70 L135.75 825.70 L136.50 825.70 L137.25 825.70 L138.00 825.70 L138.75 825.70 L139.50 825.70 L140.25 825.70 L141.00 825.70 L141.75 825.70 L142.50 825.70 L143.25 825.70 L144.00 825.70 L144.75 825.70 L145.50 825.70 L146.25 825.70 L147.00 825.70 L147.75 825.70 L148.50 825.70 L149.25 825.70 L150.00 825.70 L150.75 825.70 L151.50 825.70 L152.25 825.70 L153.00 825.70 L153.75 825.70 L154.50 825.70 L155.25 825.70 L156.00 825.70 L156.75 825.70 L157.50 825.70 L158.25 825.70 L159.00 825.70 L159.75 825.70 L160.50 825.70 L161.25 825.70 L162.00 825.70 L162.75 825.70 L163.50 825.70 L164.25 825.70 L165.00 825.70 L165.75 825.70 L166.50 825.70 L167.25 825.70 L168.00 825.70 L168.75 825.70 L169.50 825.70 L170.25 825.70 L171.00 825.70 L171.75 825.70 L172.50 825.70 L173.25 825.70 L174.00 825.70 L174.75 825.70 L175.50 824.51 L176.25 822.83 L177.00 821.15 L177.75 818.36 L178.50 816.22 L179.25 812.86 L180.00 809.87 L180.75 807.36 L181.50 804.55 L182.25 801.96 L183.00 799.47 L183.75 796.94 L184.50 794.81 L185.25 792.14 L186.00 789.44 L186.75 787.05 L187.50 784.07 L188.25 781.99 L189.00 778.94 L189.75 777.69 L190.50 775.16 L191.25 773.18 L192.00 771.33 L192.75 769.08 L193.50 766.86 L194.25 765.07 L195.00 762.19 L195.75 759.07 L196.50 756.39 L197.25 751.98 L198.00 749.06 L198.75 743.99 L199.50 739.36 L200.25 735.24 L201.00 730.21 L201.75 724.49 L202.50 719.73 L203.25 715.09 L204.00 710.43 L204.75 704.78 L205.50 699.76 L206.25 694.97 L207.00 689.45 L207.75 684.48 L208.50 679.37 L209.25 673.84 L210.00 669.20 L210.75 663.99 L211.50 660.16 L212.25 656.00 L213.00 650.40 L213.75 646.52 L214.50 641.81 L215.25 636.95 L216.00 632.65 L216.75 628.59 L217.50 624.44 L218.25 621.15 L219.00 618.10 L219.75 615.61 L220.50 613.37 L221.25 610.85 L222.00 609.63 L222.75 607.46 L223.50 606.14 L224.25 604.79 L225.00 603.03 L225.75 601.21 L226.50 599.31 L227.25 596.66 L228.00 594.06 L228.75 591.65 L229.50 589.67 L230.25 587.25 L231.00 586.05 L231.75 583.67 L232.50 580.92 L233.25 580.37 L234.00 579.89 L234.75 578.19 L235.50 577.02 L236.25 575.98 L237.00 576.03 L237.75 575.40 L238.50 574.82 L239.25 574.29 L240.00 574.23 L240.75 573.63 L241.50 572.58 L242.25 572.99 L243.00 572.55 L243.75 572.29 L244.50 572.50 L245.25 572.23 L246.00 571.24 L246.75 572.90 L247.50 572.84 L248.25 572.59 L249.00 572.68 L249.75 573.08 L250.50 572.76 L251.25 573.52 L252.00 573.52 L252.75 573.67 L253.50 573.70 L254.25 574.05 L255.00 574.97 L255.75 575.35 L256.50 575.35 L257.25 575.43 L258.00 575.37 L258.75 576.10 L259.50 576.52 L260.25 575.40 L261.00 576.32 L261.75 575.04 L262.50 575.52 L263.25 575.57 L264.00 574.72 L264.75 574.40 L265.50 574.72 L266.25 574.66 L267.00 573.75 L267.75 573.83 L268.50 572.43 L269.25 572.58 L270.00 571.24 L270.75 570.50 L271.50 569.88 L272.25 569.06 L273.00 568.83 L273.75 568.15 L274.50 566.73 L275.25 565.65 L276.00 564.48 L276.75 563.85 L277.50 563.41 L278.25 562.76 L279.00 562.26 L279.75 561.78 L280.50 561.46 L281.25 560.32 L282.00 559.95 L282.75 560.23 L283.50 559.69 L284.25 558.79 L285.00 559.04 L285.75 558.00 L286.50 557.84 L287.25 557.03 L288.00 557.76 L288.75 557.32 L289.50 557.62 L290.25 557.48 L291.00 557.31 L291.75 557.43 L292.50 557.92 L293.25 557.62 L294.00 557.84 L294.75 558.16 L295.50 558.69 L296.25 559.03 L297.00 559.70 L297.75 559.34 L298.50 560.16 L299.25 559.85 L300.00 560.67 L300.75 560.88 L301.50 561.82 L302.25 561.80 L303.00 561.79 L303.75 562.51 L304.50 562.80 L305.25 562.96 L306.00 563.38 L306.75 563.60 L307.50 565.36 L308.25 564.92 L309.00 565.72 L309.75 565.49 L310.50 566.05 L311.25 566.92 L312.00 567.48 L312.75 568.39 L313.50 568.33 L314.25 569.46 L315.00 570.39 L315.75 570.13 L316.50 571.37 L317.25 571.31 L318.00 572.36 L318.75 572.96 L319.50 574.03 L320.25 573.76 L321.00 574.63 L321.75 575.50 L322.50 575.28 L323.25 576.23 L324.00 576.45 L324.75 577.02 L325.50 577.99 L326.25 578.47 L327.00 579.58 L327.75 579.59 L328.50 579.97 L329.25 579.86 L330.00 580.20 L330.75 580.73 L331.50 580.26 L332.25 581.99 L333.00 581.53 L333.75 581.75 L334.50 582.30 L335.25 583.11 L336.00 583.58 L336.75 583.36 L337.50 583.98 L338.25 584.15 L339.00 584.17 L339.75 584.93 L340.50 585.24 L341.25 585.04 L342.00 586.32 L342.75 585.73 L343.50 586.72 L344.25 586.61 L345.00 587.04 L345.75 587.43 L346.50 588.27 L347.25 587.93 L348.00 588.64 L348.75 589.60 L349.50 589.15 L350.25 589.73 L351.00 590.31 L351.75 590.22 L352.50 590.93 L353.25 590.87 L354.00 591.69 L354.75 591.81 L355.50 591.80 L356.25 592.97 L357.00 592.78 L357.75 593.06 L358.50 593.18 L359.25 593.69 L360.00 594.16 L360.75 594.60 L361.50 595.28 L362.25 594.78 L363.00 595.47 L363.75 596.36 L364.50 596.36 L365.25 596.80 L366.00 597.57 L366.75 597.49 L367.50 597.89 L368.25 598.08 L369.00 599.08 L369.75 599.19 L370.50 598.94 L371.25 599.76 L372.00 599.54 L372.75 600.70 L373.50 600.93 L374.25 601.02 L375.00 601.31 L375.75 601.20 L376.50 602.48 L377.25 602.56 L378.00 602.87 L378.75 603.62 L379.50 603.52 L380.25 603.94 L381.00 604.29 L381.75 604.45 L382.50 606.16 L383.25 605.65 L384.00 605.99 L384.75 606.82 L385.50 605.80 L386.25 607.29 L387.00 607.71 L387.75 607.76 L388.50 608.67 L389.25 608.20 L390.00 609.31 L390.75 610.02 L391.50 609.34 L392.25 610.02 L393.00 610.87 L393.75 611.33 L394.50 611.52 L395.25 612.28 L396.00 612.65 L396.75 612.50 L397.50 613.35 L398.25 613.36 L399.00 613.49 L399.75 613.79 L400.50 615.41 L401.25 615.43 L402.00 616.58 L402.75 615.80 L403.50 616.62 L404.25 617.29 L405.00 617.55 L405.75 618.22 L406.50 618.53 L407.25 618.71 L408.00 618.56 L408.75 619.49 L409.50 620.87 L410.25 620.99 L411.00 621.66 L411.75 621.43 L412.50 622.03 L413.25 622.25 L414.00 623.16 L414.75 623.50 L415.50 624.10 L416.25 625.02 L417.00 624.58 L417.75 625.59 L418.50 625.31 L419.25 626.65 L420.00 626.57 L420.75 627.16 L421.50 627.70 L422.25 628.69 L423.00 628.56 L423.75 628.85 L424.50 629.07 L425.25 630.04 L426.00 630.10 L426.75 630.67 L427.50 631.29 L428.25 631.98 L429.00 631.94 L429.75 632.87 L430.50 633.69 L431.25 632.99 L432.00 634.42 L432.75 635.13 L433.50 634.59 L434.25 635.44 L435.00 635.16 L435.75 636.18 L436.50 636.37 L437.25 637.01 L438.00 637.00 L438.75 637.45 L439.50 638.00 L440.25 638.32 L441.00 638.77 L441.75 639.32 L442.50 639.42 L443.25 640.16 L444.00 640.79 L444.75 640.22 L445.50 641.51 L446.25 641.58 L447.00 641.85 L447.75 642.18 L448.50 642.75 L449.25 643.19 L450.00 643.97 L450.75 643.81 L451.50 645.01 L452.25 644.76 L453.00 645.68 L453.75 646.21 L454.50 645.80 L455.25 647.00 L456.00 647.78 L456.75 647.25 L457.50 648.00 L458.25 648.15 L459.00 648.61 L459.75 648.90 L460.50 649.17 L461.25 649.99 L462.00 650.43 L462.75 650.50 L463.50 651.41 L464.25 651.63 L465.00 651.87 L465.75 651.75 L466.50 653.04 L467.25 653.21 L468.00 652.37 L468.75 653.10 L469.50 653.69 L470.25 654.55 L471.00 655.03 L471.75 654.85 L472.50 655.41 L473.25 655.93 L474.00 655.60 L474.75 656.61 L475.50 656.66 L476.25 657.19 L477.00 657.47 L477.75 657.42 L478.50 657.84 L479.25 658.56 L480.00 658.94 L480.75 659.16 L481.50 659.97 L482.25 659.82 L483.00 659.87 L483.75 660.52 L484.50 660.93 L485.25 661.29 L486.00 662.08 L486.75 662.19 L487.50 662.72 L488.25 662.91 L489.00 662.97 L489.75 663.73 L490.50 663.61 L491.25 664.12 L492.00 664.02 L492.75 664.73 L493.50 664.91 L494.25 665.48 L495.00 666.32 L495.75 666.83 L496.50 666.68 L497.25 666.64 L498.00 667.26 L498.75 667.37 L499.50 667.40 L500.25 667.91 L501.00 668.16 L501.75 668.35 L502.50 669.36 L503.25 669.00 L504.00 669.33 L504.75 670.06 L505.50 669.89 L506.25 670.04 L507.00 670.45 L507.75 671.23 L508.50 671.50 L509.25 671.77 L510.00 671.81 L510.75 671.96 L511.50 672.90 L512.25 672.37 L513.00 673.11 L513.75 673.01 L514.50 673.63 L515.25 674.02 L516.00 674.80 L516.75 673.66 L517.50 675.43 L518.25 674.93 L519.00 675.64 L519.75 676.10 L520.50 675.84 L521.25 676.36 L522.00 676.85 L522.75 676.92 L523.50 676.98 L524.25 677.59 L525.00 677.84 L525.75 677.55 L526.50 678.83 L527.25 678.71 L528.00 678.05 L528.75 678.88 L529.50 680.05 L530.25 680.27 L531.00 680.08 L531.75 679.66 L532.50 680.44 L533.25 681.16 L534.00 681.20 L534.75 681.21 L535.50 681.33 L536.25 682.14 L537.00 682.04 L537.75 682.49 L538.50 682.81 L539.25 683.47 L540.00 683.22 L540.75 683.51 L541.50 683.05 L542.25 684.32 L543.00 684.49 L543.75 684.43 L544.50 683.89 L545.25 684.73 L546.00 685.21 L546.75 686.16 L547.50 685.88 L548.25 686.19 L549.00 686.44 L549.75 686.86 L550.50 686.23 L551.25 686.57 L552.00 686.69 L552.75 687.23 L553.50 687.44 L554.25 687.83 L555.00 687.66 L555.75 688.28 L556.50 688.17 L557.25 689.43 L558.00 688.72 L558.75 690.02 L559.50 689.91 L560.25 689.13 L561.00 690.10 L561.75 690.19 L562.50 689.64 L563.25 690.60 L564.00 690.56 L564.75 690.92 L565.50 690.70 L566.25 691.18 L567.00 691.54 L567.75 691.53 L568.50 691.58 L569.25 691.93 L570.00 691.84 L570.75 692.49 L571.50 691.66 L572.25 693.28 L573.00 692.96 L573.75 693.28 L574.50 693.60 L575.25 693.05 L576.00 694.46 L576.75 693.45 L577.50 694.18 L578.25 694.30 L579.00 694.82 L579.75 694.53" stroke="#ff1f1f" stroke-width="2.2" fill="none" stroke-linejoin="round" stroke-linecap="butt"/><path d="M108.00 825.70 L108.75 825.70 L109.50 825.70 L110.25 825.70 L111.00 825.70 L111.75 825.70 L112.50 825.70 L113.25 825.70 L114.00 825.70 L114.75 825.70 L115.50 825.70 L116.25 825.70 L117.00 825.70 L117.75 825.70 L118.50 825.70 L119.25 825.70 L120.00 825.70 L120.75 825.70 L121.50 825.70 L122.25 825.70 L123.00 825.70 L123.75 825.70 L124.50 825.70 L125.25 825.70 L126.00 825.70 L126.75 825.70 L127.50 825.70 L128.25 825.70 L129.00 825.70 L129.75 825.70 L130.50 825.70 L131.25 825.70 L132.00 825.70 L132.75 825.70 L133.50 825.70 L134.25 825.70 L135.00 825.70 L135.75 825.70 L136.50 825.70 L137.25 825.70 L138.00 825.70 L138.75 825.70 L139.50 825.70 L140.25 825.70 L141.00 825.70 L141.75 825.70 L142.50 825.70 L143.25 825.70 L144.00 825.70 L144.75 825.70 L145.50 825.70 L146.25 825.70 L147.00 825.70 L147.75 825.70 L148.50 825.70 L149.25 825.70 L150.00 825.70 L150.75 825.70 L151.50 825.70 L152.25 825.70 L153.00 825.70 L153.75 825.70 L154.50 825.70 L155.25 825.70 L156.00 825.70 L156.75 825.70 L157.50 825.70 L158.25 825.70 L159.00 825.70 L159.75 825.70 L160.50 825.70 L161.25 825.70 L162.00 825.70 L162.75 825.70 L163.50 825.70 L164.25 825.70 L165.00 825.70 L165.75 825.70 L166.50 825.70 L167.25 825.70 L168.00 825.70 L168.75 825.70 L169.50 825.70 L170.25 825.70 L171.00 825.70 L171.75 825.70 L172.50 825.70 L173.25 825.70 L174.00 825.70 L174.75 825.70 L175.50 825.48 L176.25 823.78 L177.00 823.12 L177.75 821.81 L178.50 820.98 L179.25 819.95 L180.00 818.58 L180.75 817.22 L181.50 815.90 L182.25 814.45 L183.00 812.74 L183.75 811.70 L184.50 810.39 L185.25 808.99 L186.00 807.26 L186.75 806.17 L187.50 803.58 L188.25 801.34 L189.00 800.03 L189.75 796.70 L190.50 794.88 L191.25 791.45 L192.00 788.64 L192.75 783.96 L193.50 780.58 L194.25 775.39 L195.00 769.93 L195.75 765.39 L196.50 759.20 L197.25 752.30 L198.00 744.73 L198.75 737.19 L199.50 729.03 L200.25 721.04 L201.00 712.70 L201.75 703.60 L202.50 694.76 L203.25 685.54 L204.00 675.67 L204.75 665.98 L205.50 655.78 L206.25 644.49 L207.00 631.90 L207.75 618.25 L208.50 606.88 L209.25 596.81 L210.00 589.42 L210.75 581.24 L211.50 574.52 L212.25 567.32 L213.00 560.63 L213.75 554.61 L214.50 548.83 L215.25 544.69 L216.00 540.06 L216.75 537.15 L217.50 533.33 L218.25 531.52 L219.00 528.78 L219.75 528.01 L220.50 526.17 L221.25 525.98 L222.00 524.81 L222.75 524.36 L223.50 524.06 L224.25 523.57 L225.00 523.49 L225.75 523.42 L226.50 523.16 L227.25 522.70 L228.00 522.09 L228.75 522.17 L229.50 522.31 L230.25 521.63 L231.00 522.74 L231.75 522.58 L232.50 522.84 L233.25 523.59 L234.00 523.85 L234.75 524.07 L235.50 524.03 L236.25 524.94 L237.00 525.47 L237.75 525.64 L238.50 526.98 L239.25 527.51 L240.00 527.42 L240.75 528.98 L241.50 529.38 L242.25 531.32 L243.00 532.49 L243.75 533.22 L244.50 534.73 L245.25 536.49 L246.00 537.67 L246.75 539.41 L247.50 540.14 L248.25 540.73 L249.00 541.92 L249.75 541.88 L250.50 543.58 L251.25 544.68 L252.00 545.28 L252.75 546.13 L253.50 547.74 L254.25 549.50 L255.00 550.21 L255.75 551.10 L256.50 553.35 L257.25 553.50 L258.00 555.56 L258.75 556.30 L259.50 557.79 L260.25 557.96 L261.00 559.37 L261.75 559.59 L262.50 559.39 L263.25 559.79 L264.00 560.86 L264.75 561.94 L265.50 562.11 L266.25 562.75 L267.00 563.40 L267.75 564.56 L268.50 565.30 L269.25 566.17 L270.00 566.63 L270.75 568.28 L271.50 569.20 L272.25 569.08 L273.00 571.18 L273.75 571.49 L274.50 571.93 L275.25 572.29 L276.00 573.99 L276.75 574.70 L277.50 574.95 L278.25 575.08 L279.00 576.51 L279.75 576.27 L280.50 576.65 L281.25 578.11 L282.00 578.14 L282.75 577.99 L283.50 577.74 L284.25 578.35 L285.00 577.54 L285.75 578.58 L286.50 578.48 L287.25 578.50 L288.00 578.60 L288.75 579.55 L289.50 579.61 L290.25 579.88 L291.00 580.40 L291.75 579.94 L292.50 579.79 L293.25 579.56 L294.00 580.00 L294.75 580.30 L295.50 579.88 L296.25 580.04 L297.00 579.27 L297.75 579.37 L298.50 579.12 L299.25 578.79 L300.00 579.72 L300.75 579.21 L301.50 578.48 L302.25 578.33 L303.00 578.43 L303.75 577.81 L304.50 578.34 L305.25 577.63 L306.00 577.86 L306.75 577.56 L307.50 577.70 L308.25 577.38 L309.00 577.30 L309.75 577.53 L310.50 577.68 L311.25 577.87 L312.00 578.08 L312.75 578.68 L313.50 578.53 L314.25 578.28 L315.00 578.75 L315.75 578.40 L316.50 579.29 L317.25 579.13 L318.00 578.63 L318.75 579.54 L319.50 579.73 L320.25 578.68 L321.00 579.54 L321.75 579.81 L322.50 579.48 L323.25 579.96 L324.00 580.19 L324.75 580.90 L325.50 581.04 L326.25 582.09 L327.00 581.27 L327.75 582.07 L328.50 581.96 L329.25 582.30 L330.00 582.09 L330.75 582.12 L331.50 582.83 L332.25 583.68 L333.00 584.29 L333.75 584.28 L334.50 584.58 L335.25 584.46 L336.00 585.64 L336.75 585.93 L337.50 585.64 L338.25 586.17 L339.00 586.21 L339.75 587.45 L340.50 587.46 L341.25 587.68 L342.00 588.28 L342.75 588.73 L343.50 588.88 L344.25 589.07 L345.00 589.54 L345.75 589.88 L346.50 591.17 L347.25 592.31 L348.00 591.48 L348.75 592.68 L349.50 593.34 L350.25 593.42 L351.00 594.42 L351.75 594.55 L352.50 595.95 L353.25 595.93 L354.00 596.78 L354.75 597.59 L355.50 597.82 L356.25 597.95 L357.00 599.01 L357.75 600.08 L358.50 600.40 L359.25 601.13 L360.00 601.28 L360.75 602.32 L361.50 603.13 L362.25 603.49 L363.00 604.74 L363.75 604.59 L364.50 604.88 L365.25 605.25 L366.00 606.78 L366.75 606.91 L367.50 607.83 L368.25 608.16 L369.00 609.08 L369.75 609.46 L370.50 609.37 L371.25 610.07 L372.00 610.81 L372.75 610.46 L373.50 611.84 L374.25 612.20 L375.00 612.56 L375.75 612.58 L376.50 613.18 L377.25 613.11 L378.00 613.94 L378.75 614.13 L379.50 614.78 L380.25 614.98 L381.00 615.66 L381.75 616.37 L382.50 615.90 L383.25 617.08 L384.00 616.45 L384.75 616.78 L385.50 617.88 L386.25 618.32 L387.00 618.85 L387.75 618.50 L388.50 619.44 L389.25 619.89 L390.00 620.66 L390.75 620.57 L391.50 621.17 L392.25 621.02 L393.00 621.67 L393.75 621.96 L394.50 622.75 L395.25 622.53 L396.00 622.97 L396.75 623.85 L397.50 624.65 L398.25 624.55 L399.00 624.91 L399.75 625.07 L400.50 625.96 L401.25 626.16 L402.00 626.98 L402.75 626.89 L403.50 626.84 L404.25 627.38 L405.00 627.63 L405.75 627.95 L406.50 629.23 L407.25 629.48 L408.00 629.17 L408.75 630.63 L409.50 630.50 L410.25 630.49 L411.00 631.37 L411.75 631.62 L412.50 631.78 L413.25 631.78 L414.00 632.88 L414.75 633.38 L415.50 632.78 L416.25 634.29 L417.00 634.72 L417.75 634.74 L418.50 635.35 L419.25 635.62 L420.00 635.83 L420.75 636.40 L421.50 637.41 L422.25 636.83 L423.00 637.82 L423.75 638.20 L424.50 638.29 L425.25 638.78 L426.00 638.84 L426.75 639.42 L427.50 640.12 L428.25 640.62 L429.00 640.58 L429.75 642.35 L430.50 641.46 L431.25 642.09 L432.00 642.34 L432.75 642.66 L433.50 643.63 L434.25 643.38 L435.00 644.39 L435.75 644.69 L436.50 644.29 L437.25 645.39 L438.00 645.16 L438.75 646.71 L439.50 645.98 L440.25 646.15 L441.00 646.17 L441.75 646.75 L442.50 647.35 L443.25 647.56 L444.00 647.84 L444.75 648.38 L445.50 648.90 L446.25 649.83 L447.00 649.08 L447.75 649.83 L448.50 650.04 L449.25 650.19 L450.00 650.63 L450.75 651.10 L451.50 652.01 L452.25 652.04 L453.00 652.26 L453.75 653.01 L454.50 653.23 L455.25 653.40 L456.00 653.95 L456.75 653.87 L457.50 654.72 L458.25 655.00 L459.00 655.03 L459.75 655.09 L460.50 656.39 L461.25 656.23 L462.00 657.60 L462.75 656.64 L463.50 657.51 L464.25 657.39 L465.00 657.97 L465.75 658.51 L466.50 658.28 L467.25 658.86 L468.00 659.29 L468.75 659.61 L469.50 660.11 L470.25 660.60 L471.00 660.87 L471.75 661.01 L472.50 661.13 L473.25 661.19 L474.00 661.66 L474.75 662.07 L475.50 662.83 L476.25 662.80 L477.00 662.82 L477.75 663.81 L478.50 663.64 L479.25 663.98 L480.00 664.50 L480.75 665.08 L481.50 664.39 L482.25 665.17 L483.00 665.95 L483.75 666.09 L484.50 666.24 L485.25 666.67 L486.00 667.67 L486.75 667.34 L487.50 668.07 L488.25 668.42 L489.00 668.30 L489.75 668.92 L490.50 668.92 L491.25 669.18 L492.00 669.31 L492.75 670.31 L493.50 670.17 L494.25 670.42 L495.00 670.52 L495.75 671.85 L496.50 671.78 L497.25 671.77 L498.00 671.87 L498.75 671.87 L499.50 672.81 L500.25 673.10 L501.00 672.81 L501.75 674.00 L502.50 674.16 L503.25 673.85 L504.00 674.28 L504.75 674.62 L505.50 675.12 L506.25 675.30 L507.00 675.07 L507.75 676.44 L508.50 676.32 L509.25 676.94 L510.00 677.22 L510.75 676.99 L511.50 677.47 L512.25 677.89 L513.00 678.18 L513.75 678.13 L514.50 678.24 L515.25 678.74 L516.00 678.72 L516.75 679.08 L517.50 678.83 L518.25 679.83 L519.00 679.70 L519.75 680.13 L520.50 680.56 L521.25 680.95 L522.00 681.75 L522.75 681.41 L523.50 681.09 L524.25 681.88 L525.00 681.87 L525.75 682.46 L526.50 682.31 L527.25 682.54 L528.00 682.84 L528.75 683.02 L529.50 682.83 L530.25 683.45 L531.00 683.90 L531.75 684.54 L532.50 684.22 L533.25 684.41 L534.00 684.94 L534.75 685.13 L535.50 685.71 L536.25 685.55 L537.00 685.54 L537.75 686.21 L538.50 686.47 L539.25 685.96 L540.00 686.38 L540.75 685.92 L541.50 686.57 L542.25 686.58 L543.00 687.00 L543.75 687.10 L544.50 687.40 L545.25 687.61 L546.00 688.00 L546.75 688.10 L547.50 688.01 L548.25 687.95 L549.00 689.02 L549.75 689.27 L550.50 688.81 L551.25 689.36 L552.00 688.82 L552.75 689.01 L553.50 689.66 L554.25 690.47 L555.00 689.79 L555.75 690.06 L556.50 691.12 L557.25 690.11 L558.00 691.21 L558.75 691.36 L559.50 691.34 L560.25 691.69 L561.00 692.76 L561.75 691.67 L562.50 692.17 L563.25 692.42 L564.00 692.48 L564.75 692.47 L565.50 693.73 L566.25 693.47 L567.00 693.00 L567.75 693.60 L568.50 694.21 L569.25 694.44 L570.00 694.03 L570.75 694.73 L571.50 695.08 L572.25 695.36 L573.00 695.59 L573.75 695.05 L574.50 696.57 L575.25 696.23 L576.00 697.03 L576.75 697.63 L577.50 696.81 L578.25 696.68 L579.00 697.65 L579.75 697.52" stroke="#8f1fff" stroke-width="2.2" fill="none" stroke-linejoin="round" stroke-linecap="butt"/><text x="100.50" y="832.70" font-size="19.5" text-anchor="end" fill="#1c1c1c" stroke-width="0.3">0.0</text><text x="100.50" y="768.62" font-size="19.5" text-anchor="end" fill="#1c1c1c" stroke-width="0.3">0.5</text><text x="100.50" y="704.54" font-size="19.5" text-anchor="end" fill="#1c1c1c" stroke-width="0.3">1.0</text><text x="100.50" y="640.46" font-size="19.5" text-anchor="end" fill="#1c1c1c" stroke-width="0.3">1.5</text><text x="100.50" y="576.38" font-size="19.5" text-anchor="end" fill="#1c1c1c" stroke-width="0.3">2.0</text><text x="100.50" y="512.30" font-size="19.5" text-anchor="end" fill="#1c1c1c" stroke-width="0.3">2.5</text><text x="107.30" y="849.00" font-size="19.5" text-anchor="middle" fill="#1c1c1c" stroke-width="0.3">0.00</text><text x="176.89" y="849.00" font-size="19.5" text-anchor="middle" fill="#1c1c1c" stroke-width="0.3">0.25</text><text x="246.48" y="849.00" font-size="19.5" text-anchor="middle" fill="#1c1c1c" stroke-width="0.3">0.50</text><text x="316.06" y="849.00" font-size="19.5" text-anchor="middle" fill="#1c1c1c" stroke-width="0.3">0.75</text><text x="385.65" y="849.00" font-size="19.5" text-anchor="middle" fill="#1c1c1c" stroke-width="0.3">1.00</text><text x="455.24" y="849.00" font-size="19.5" text-anchor="middle" fill="#1c1c1c" stroke-width="0.3">1.25</text><text x="524.83" y="849.00" font-size="19.5" text-anchor="middle" fill="#1c1c1c" stroke-width="0.3">1.50</text><text x="344.00" y="878.00" font-size="29" text-anchor="middle" fill="#1c1c1c" stroke-width="0.55">r/nm</text><text x="60.00" y="647.50" font-size="30" text-anchor="middle" fill="#1c1c1c" stroke-width="0.55" transform="rotate(-90 60.00 647.50)">g(r)</text><text x="10.00" y="496.00" font-size="35" text-anchor="start" fill="#1c1c1c" stroke-width="0.55">(c)</text><path d="M711.00 820.00V813.00M763.17 820.00V813.00M815.33 820.00V813.00M867.50 820.00V813.00M919.67 820.00V813.00M971.83 820.00V813.00M1024.00 820.00V813.00M1076.17 820.00V813.00M1128.33 820.00V813.00M1180.50 820.00V813.00M737.08 820.00V816.00M789.25 820.00V816.00M841.42 820.00V816.00M893.58 820.00V816.00M945.75 820.00V816.00M997.92 820.00V816.00M1050.08 820.00V816.00M1102.25 820.00V816.00M1154.42 820.00V816.00M711.00 820.00H718.00M711.00 776.41H718.00M711.00 732.83H718.00M711.00 689.24H718.00M711.00 645.65H718.00M711.00 602.06H718.00M711.00 558.48H718.00M711.00 514.89H718.00M711.00 471.30H718.00M711.00 798.21H715.00M711.00 754.62H715.00M711.00 711.03H715.00M711.00 667.44H715.00M711.00 623.86H715.00M711.00 580.27H715.00M711.00 536.68H715.00M711.00 493.09H715.00" stroke="#505050" stroke-width="1.615" fill="none"/><rect x="711.00" y="471.30" width="469.50" height="348.70" stroke="#505050" stroke-width="1.9" fill="none"/><path d="M711.00 753.59 L711.75 745.71 L712.50 737.82 L713.25 730.07 L714.00 722.05 L714.75 714.48 L715.50 706.66 L716.25 699.13 L717.00 691.47 L717.75 683.81 L718.50 675.98 L719.25 668.11 L720.00 660.44 L720.75 652.81 L721.50 645.01 L722.25 637.72 L723.00 630.43 L723.75 623.61 L724.50 616.67 L725.25 610.03 L726.00 603.45 L726.75 596.88 L727.50 590.29 L728.25 584.30 L729.00 578.34 L729.75 572.75 L730.50 567.57 L731.25 562.88 L732.00 558.28 L732.75 554.33 L733.50 549.95 L734.25 545.86 L735.00 542.33 L735.75 539.00 L736.50 535.60 L737.25 532.94 L738.00 530.44 L738.75 528.07 L739.50 525.89 L740.25 524.02 L741.00 522.31 L741.75 520.24 L742.50 518.42 L743.25 516.82 L744.00 515.52 L744.75 514.28 L745.50 513.37 L746.25 512.64 L747.00 512.01 L747.75 511.97 L748.50 512.38 L749.25 513.66 L750.00 515.22 L750.75 517.25 L751.50 519.85 L752.25 521.97 L753.00 524.30 L753.75 526.90 L754.50 529.44 L755.25 532.32 L756.00 535.53 L756.75 538.83 L757.50 542.53 L758.25 546.01 L759.00 549.89 L759.75 553.38 L760.50 557.10 L761.25 560.98 L762.00 565.14 L762.75 569.29 L763.50 573.71 L764.25 577.90 L765.00 582.41 L765.75 587.02 L766.50 591.24 L767.25 595.71 L768.00 600.24 L768.75 604.66 L769.50 609.13 L770.25 613.64 L771.00 618.76 L771.75 623.25 L772.50 627.99 L773.25 632.43 L774.00 637.21 L774.75 641.54 L775.50 645.83 L776.25 649.93 L777.00 654.09 L777.75 657.94 L778.50 661.83 L779.25 665.50 L780.00 669.35 L780.75 673.09 L781.50 676.56 L782.25 680.23 L783.00 683.77 L783.75 687.08 L784.50 690.40 L785.25 693.68 L786.00 697.05 L786.75 699.96 L787.50 703.21 L788.25 706.29 L789.00 709.41 L789.75 712.41 L790.50 715.27 L791.25 718.48 L792.00 721.13 L792.75 723.73 L793.50 726.44 L794.25 729.11 L795.00 731.63 L795.75 733.78 L796.50 736.23 L797.25 738.18 L798.00 740.32 L798.75 742.50 L799.50 744.53 L800.25 746.25 L801.00 748.07 L801.75 750.03 L802.50 751.56 L803.25 753.43 L804.00 755.13 L804.75 756.89 L805.50 758.49 L806.25 760.10 L807.00 761.84 L807.75 763.30 L808.50 765.11 L809.25 766.55 L810.00 768.09 L810.75 769.68 L811.50 771.21 L812.25 772.73 L813.00 774.04 L813.75 775.49 L814.50 776.81 L815.25 777.95 L816.00 779.07 L816.75 780.46 L817.50 781.58 L818.25 782.52 L819.00 783.78 L819.75 785.03 L820.50 785.99 L821.25 787.15 L822.00 788.10 L822.75 789.35 L823.50 790.34 L824.25 791.30 L825.00 792.36 L825.75 793.08 L826.50 793.94 L827.25 794.99 L828.00 795.43 L828.75 796.36 L829.50 796.83 L830.25 797.63 L831.00 798.45 L831.75 798.88 L832.50 799.38 L833.25 800.29 L834.00 800.57 L834.75 801.17 L835.50 801.77 L836.25 802.14 L837.00 802.91 L837.75 803.47 L838.50 803.87 L839.25 804.31 L840.00 804.72 L840.75 805.27 L841.50 805.30 L842.25 806.02 L843.00 806.46 L843.75 806.63 L844.50 807.24 L845.25 807.54 L846.00 807.89 L846.75 808.22 L847.50 808.58 L848.25 808.86 L849.00 808.98 L849.75 809.35 L850.50 809.61 L851.25 809.91 L852.00 810.12 L852.75 810.54 L853.50 810.85 L854.25 811.13 L855.00 811.43 L855.75 811.65 L856.50 811.71 L857.25 811.94 L858.00 812.21 L858.75 812.54 L859.50 812.70 L860.25 813.04 L861.00 813.32 L861.75 813.31 L862.50 813.65 L863.25 813.70 L864.00 813.79 L864.75 813.95 L865.50 814.20 L866.25 814.18 L867.00 814.54 L867.75 814.76 L868.50 814.59 L869.25 814.76 L870.00 815.01 L870.75 814.95 L871.50 814.97 L872.25 814.94 L873.00 815.07 L873.75 815.00 L874.50 814.86 L875.25 814.73 L876.00 814.70 L876.75 815.04 L877.50 814.94 L878.25 815.11 L879.00 815.02 L879.75 814.84 L880.50 815.00 L881.25 815.09 L882.00 814.88 L882.75 814.92 L883.50 815.14 L884.25 814.80 L885.00 814.86 L885.75 815.08 L886.50 814.99 L887.25 814.86 L888.00 814.82 L888.75 815.02 L889.50 815.09 L890.25 815.05 L891.00 815.01 L891.75 815.12 L892.50 815.00 L893.25 814.89 L894.00 815.17 L894.75 814.85 L895.50 814.96 L896.25 814.96 L897.00 815.11 L897.75 814.88 L898.50 814.90 L899.25 814.72 L900.00 814.88 L900.75 814.84 L901.50 814.79 L902.25 814.55 L903.00 814.59 L903.75 814.38 L904.50 814.32 L905.25 814.25 L906.00 814.27 L906.75 813.98 L907.50 813.92 L908.25 813.68 L909.00 813.57 L909.75 813.42 L910.50 813.33 L911.25 813.28 L912.00 812.94 L912.75 812.98 L913.50 812.66 L914.25 812.64 L915.00 812.40 L915.75 812.27 L916.50 812.11 L917.25 812.11 L918.00 811.88 L918.75 811.82 L919.50 811.53 L920.25 811.41 L921.00 811.46 L921.75 811.00 L922.50 810.93 L923.25 810.86 L924.00 810.91 L924.75 810.52 L925.50 810.51 L926.25 810.44 L927.00 810.10 L927.75 809.95 L928.50 809.97 L929.25 809.59 L930.00 809.37 L930.75 809.40 L931.50 809.10 L932.25 809.11 L933.00 808.86 L933.75 808.46 L934.50 808.50 L935.25 808.30 L936.00 808.06 L936.75 808.06 L937.50 807.60 L938.25 807.48 L939.00 807.38 L939.75 807.34 L940.50 806.93 L941.25 806.83 L942.00 806.62 L942.75 806.33 L943.50 806.23 L944.25 805.93 L945.00 805.76 L945.75 805.60 L946.50 805.24 L947.25 805.01 L948.00 804.75 L948.75 804.53 L949.50 804.22 L950.25 804.02 L951.00 803.92 L951.75 803.60 L952.50 803.80 L953.25 803.18 L954.00 803.12 L954.75 802.73 L955.50 802.69 L956.25 802.50 L957.00 802.41 L957.75 802.43 L958.50 802.17 L959.25 801.98 L960.00 802.05 L960.75 801.90 L961.50 801.96 L962.25 802.11 L963.00 802.02 L963.75 802.01 L964.50 801.94 L965.25 801.86 L966.00 801.69 L966.75 801.78 L967.50 801.76 L968.25 801.87 L969.00 801.89 L969.75 801.83 L970.50 801.69 L971.25 801.94 L972.00 801.89 L972.75 801.71 L973.50 801.74 L974.25 801.78 L975.00 801.71 L975.75 801.68 L976.50 801.73 L977.25 801.67 L978.00 801.68 L978.75 801.48 L979.50 801.47 L980.25 801.79 L981.00 801.44 L981.75 801.63 L982.50 801.59 L983.25 801.56 L984.00 801.45 L984.75 801.59 L985.50 801.50 L986.25 801.40 L987.00 801.27 L987.75 801.36 L988.50 801.29 L989.25 801.19 L990.00 801.33 L990.75 801.32 L991.50 801.31 L992.25 801.21 L993.00 801.15 L993.75 801.26 L994.50 801.19 L995.25 801.32 L996.00 801.12 L996.75 800.95 L997.50 801.12 L998.25 801.24 L999.00 801.02 L999.75 800.96 L1000.50 800.91 L1001.25 801.16 L1002.00 800.94 L1002.75 800.94 L1003.50 801.00 L1004.25 800.83 L1005.00 800.96 L1005.75 800.87 L1006.50 801.00 L1007.25 801.09 L1008.00 801.16 L1008.75 801.05 L1009.50 801.20 L1010.25 801.12 L1011.00 801.02 L1011.75 801.29 L1012.50 801.25 L1013.25 801.32 L1014.00 801.09 L1014.75 801.42 L1015.50 801.47 L1016.25 801.52 L1017.00 801.65 L1017.75 801.57 L1018.50 801.87 L1019.25 801.78 L1020.00 801.82 L1020.75 801.57 L1021.50 801.68 L1022.25 802.08 L1023.00 802.03 L1023.75 802.14 L1024.50 802.07 L1025.25 802.17 L1026.00 802.31 L1026.75 802.25 L1027.50 802.55 L1028.25 802.40 L1029.00 802.62 L1029.75 802.67 L1030.50 802.84 L1031.25 803.04 L1032.00 802.91 L1032.75 803.18 L1033.50 803.26 L1034.25 803.46 L1035.00 803.49 L1035.75 803.57 L1036.50 803.80 L1037.25 804.02 L1038.00 804.10 L1038.75 804.16 L1039.50 804.33 L1040.25 804.27 L1041.00 804.51 L1041.75 804.67 L1042.50 804.79 L1043.25 804.91 L1044.00 805.12 L1044.75 805.30 L1045.50 805.61 L1046.25 805.50 L1047.00 805.64 L1047.75 806.00 L1048.50 806.08 L1049.25 806.16 L1050.00 806.58 L1050.75 806.59 L1051.50 806.77 L1052.25 806.93 L1053.00 807.09 L1053.75 807.39 L1054.50 807.48 L1055.25 808.02 L1056.00 808.01 L1056.75 808.16 L1057.50 808.31 L1058.25 808.61 L1059.00 808.89 L1059.75 809.01 L1060.50 809.08 L1061.25 809.37 L1062.00 809.42 L1062.75 809.93 L1063.50 810.05 L1064.25 810.19 L1065.00 810.39 L1065.75 810.49 L1066.50 810.73 L1067.25 811.04 L1068.00 811.13 L1068.75 811.39 L1069.50 811.56 L1070.25 811.76 L1071.00 811.97 L1071.75 812.25 L1072.50 812.32 L1073.25 812.62 L1074.00 812.67 L1074.75 812.90 L1075.50 813.08 L1076.25 813.44 L1077.00 813.52 L1077.75 813.86 L1078.50 813.83 L1079.25 814.16 L1080.00 814.19 L1080.75 814.59 L1081.50 814.59 L1082.25 814.87 L1083.00 814.92 L1083.75 815.07 L1084.50 815.33 L1085.25 815.28 L1086.00 815.48 L1086.75 815.89 L1087.50 815.79 L1088.25 816.10 L1089.00 816.07 L1089.75 816.13 L1090.50 816.39 L1091.25 816.65 L1092.00 816.70 L1092.75 816.80 L1093.50 817.05 L1094.25 817.01 L1095.00 817.29 L1095.75 817.37 L1096.50 817.35 L1097.25 817.66 L1098.00 817.80 L1098.75 817.77 L1099.50 817.91 L1100.25 817.97 L1101.00 817.98 L1101.75 818.27 L1102.50 818.18 L1103.25 818.41 L1104.00 818.39 L1104.75 818.41 L1105.50 818.64 L1106.25 818.66 L1107.00 818.88 L1107.75 818.75 L1108.50 818.82 L1109.25 818.88 L1110.00 818.89 L1110.75 819.10 L1111.50 819.18 L1112.25 819.15 L1113.00 819.03 L1113.75 819.23 L1114.50 819.24 L1115.25 819.23 L1116.00 819.17 L1116.75 819.45 L1117.50 819.53 L1118.25 819.48 L1119.00 819.53 L1119.75 819.70 L1120.50 819.75 L1121.25 819.60 L1122.00 819.32 L1122.75 819.70 L1123.50 819.67 L1124.25 819.74 L1125.00 819.63 L1125.75 819.59 L1126.50 819.75 L1127.25 819.67 L1128.00 819.71 L1128.75 819.74 L1129.50 819.71 L1130.25 819.56 L1131.00 819.76 L1131.75 819.65 L1132.50 819.68 L1133.25 819.74 L1134.00 819.56 L1134.75 819.67 L1135.50 819.52 L1136.25 819.64 L1137.00 819.73 L1137.75 819.68 L1138.50 819.67 L1139.25 819.75 L1140.00 819.66 L1140.75 819.54 L1141.50 819.80 L1142.25 819.72 L1143.00 819.77 L1143.75 819.65 L1144.50 819.65 L1145.25 819.62 L1146.00 819.50 L1146.75 819.64 L1147.50 819.63 L1148.25 819.85 L1149.00 819.50 L1149.75 819.69 L1150.50 819.67 L1151.25 819.68 L1152.00 819.67 L1152.75 819.71 L1153.50 819.77 L1154.25 819.52 L1155.00 819.77 L1155.75 819.66 L1156.50 819.59 L1157.25 819.50 L1158.00 819.50 L1158.75 819.68 L1159.50 819.57 L1160.25 819.57 L1161.00 819.63 L1161.75 819.68 L1162.50 819.64 L1163.25 819.57 L1164.00 819.62 L1164.75 819.67 L1165.50 819.58 L1166.25 819.77 L1167.00 819.81 L1167.75 819.81 L1168.50 819.65 L1169.25 819.65 L1170.00 819.59 L1170.75 819.82 L1171.50 819.64 L1172.25 819.90 L1173.00 819.48 L1173.75 819.71 L1174.50 819.74 L1175.25 819.69 L1176.00 819.74 L1176.75 819.89 L1177.50 819.68 L1178.25 819.77 L1179.00 819.64 L1179.75 819.56" stroke="#23962a" stroke-width="2.4" fill="none" stroke-linejoin="round" stroke-linecap="butt"/><path d="M711.00 796.95 L711.75 787.33 L712.50 777.43 L713.25 768.47 L714.00 759.67 L714.75 751.10 L715.50 742.77 L716.25 734.96 L717.00 727.34 L717.75 720.10 L718.50 712.91 L719.25 705.80 L720.00 699.05 L720.75 692.67 L721.50 686.37 L722.25 680.72 L723.00 675.29 L723.75 670.36 L724.50 665.67 L725.25 661.45 L726.00 656.98 L726.75 652.87 L727.50 649.01 L728.25 645.24 L729.00 641.45 L729.75 638.05 L730.50 635.11 L731.25 632.08 L732.00 629.65 L732.75 627.22 L733.50 625.17 L734.25 623.38 L735.00 621.69 L735.75 619.86 L736.50 618.29 L737.25 616.48 L738.00 614.92 L738.75 613.35 L739.50 612.03 L740.25 610.62 L741.00 609.28 L741.75 608.42 L742.50 607.16 L743.25 606.29 L744.00 605.60 L744.75 605.13 L745.50 604.51 L746.25 604.34 L747.00 604.20 L747.75 604.28 L748.50 605.08 L749.25 605.98 L750.00 607.02 L750.75 608.43 L751.50 609.87 L752.25 611.62 L753.00 613.60 L753.75 615.66 L754.50 617.56 L755.25 619.66 L756.00 621.96 L756.75 624.60 L757.50 627.79 L758.25 631.38 L759.00 634.91 L759.75 639.13 L760.50 643.05 L761.25 647.58 L762.00 651.88 L762.75 656.10 L763.50 660.26 L764.25 664.42 L765.00 668.22 L765.75 672.09 L766.50 675.87 L767.25 679.96 L768.00 683.76 L768.75 687.81 L769.50 691.74 L770.25 695.81 L771.00 699.36 L771.75 703.20 L772.50 706.98 L773.25 710.26 L774.00 713.51 L774.75 716.78 L775.50 719.76 L776.25 722.85 L777.00 725.59 L777.75 728.55 L778.50 731.37 L779.25 734.10 L780.00 736.50 L780.75 739.28 L781.50 741.48 L782.25 743.77 L783.00 746.06 L783.75 748.31 L784.50 750.31 L785.25 752.40 L786.00 754.39 L786.75 756.33 L787.50 758.18 L788.25 760.25 L789.00 761.65 L789.75 763.46 L790.50 765.28 L791.25 766.83 L792.00 768.26 L792.75 769.92 L793.50 771.32 L794.25 772.47 L795.00 774.03 L795.75 775.20 L796.50 776.24 L797.25 777.08 L798.00 778.13 L798.75 778.96 L799.50 780.02 L800.25 780.83 L801.00 781.80 L801.75 782.56 L802.50 783.51 L803.25 784.26 L804.00 785.04 L804.75 785.47 L805.50 786.12 L806.25 786.98 L807.00 787.49 L807.75 788.15 L808.50 788.68 L809.25 789.16 L810.00 789.69 L810.75 790.08 L811.50 790.48 L812.25 790.75 L813.00 791.41 L813.75 791.64 L814.50 792.12 L815.25 792.42 L816.00 792.87 L816.75 793.12 L817.50 793.47 L818.25 793.79 L819.00 794.03 L819.75 794.35 L820.50 794.68 L821.25 794.97 L822.00 795.15 L822.75 795.73 L823.50 795.64 L824.25 795.92 L825.00 796.40 L825.75 796.28 L826.50 796.59 L827.25 796.73 L828.00 796.78 L828.75 796.77 L829.50 796.85 L830.25 797.08 L831.00 797.19 L831.75 797.00 L832.50 797.29 L833.25 797.27 L834.00 797.47 L834.75 797.45 L835.50 797.39 L836.25 797.47 L837.00 797.56 L837.75 797.72 L838.50 797.93 L839.25 797.70 L840.00 797.71 L840.75 797.80 L841.50 797.76 L842.25 797.87 L843.00 797.88 L843.75 797.88 L844.50 797.84 L845.25 797.98 L846.00 798.10 L846.75 798.07 L847.50 798.27 L848.25 798.27 L849.00 798.23 L849.75 798.49 L850.50 798.29 L851.25 798.62 L852.00 798.80 L852.75 798.70 L853.50 798.84 L854.25 799.08 L855.00 799.27 L855.75 799.31 L856.50 799.44 L857.25 799.66 L858.00 799.75 L858.75 799.75 L859.50 800.01 L860.25 800.18 L861.00 800.19 L861.75 800.53 L862.50 800.56 L863.25 800.85 L864.00 800.76 L864.75 800.95 L865.50 801.02 L866.25 801.41 L867.00 801.52 L867.75 801.63 L868.50 801.72 L869.25 801.74 L870.00 801.80 L870.75 801.59 L871.50 801.82 L872.25 801.76 L873.00 801.78 L873.75 801.69 L874.50 801.94 L875.25 801.82 L876.00 801.66 L876.75 801.86 L877.50 801.80 L878.25 801.70 L879.00 801.77 L879.75 801.73 L880.50 801.57 L881.25 801.65 L882.00 801.85 L882.75 801.83 L883.50 801.83 L884.25 801.68 L885.00 801.74 L885.75 801.80 L886.50 801.87 L887.25 801.71 L888.00 801.69 L888.75 801.91 L889.50 801.80 L890.25 801.76 L891.00 801.72 L891.75 801.73 L892.50 801.95 L893.25 801.89 L894.00 801.75 L894.75 801.67 L895.50 801.96 L896.25 801.95 L897.00 801.92 L897.75 801.87 L898.50 801.57 L899.25 801.59 L900.00 801.73 L900.75 801.58 L901.50 801.56 L902.25 801.41 L903.00 801.31 L903.75 801.33 L904.50 801.13 L905.25 801.06 L906.00 800.97 L906.75 800.84 L907.50 800.80 L908.25 800.69 L909.00 800.28 L909.75 800.25 L910.50 800.06 L911.25 800.06 L912.00 799.73 L912.75 799.76 L913.50 799.60 L914.25 799.44 L915.00 799.14 L915.75 799.06 L916.50 798.83 L917.25 798.83 L918.00 798.75 L918.75 798.36 L919.50 798.30 L920.25 798.24 L921.00 798.08 L921.75 798.16 L922.50 797.88 L923.25 797.80 L924.00 797.55 L924.75 797.69 L925.50 797.44 L926.25 797.38 L927.00 797.20 L927.75 796.86 L928.50 796.79 L929.25 796.70 L930.00 796.75 L930.75 796.53 L931.50 796.50 L932.25 796.35 L933.00 796.21 L933.75 796.14 L934.50 795.93 L935.25 795.60 L936.00 795.54 L936.75 795.62 L937.50 795.19 L938.25 795.26 L939.00 795.12 L939.75 794.71 L940.50 794.62 L941.25 794.24 L942.00 794.22 L942.75 793.82 L943.50 793.51 L944.25 793.32 L945.00 793.02 L945.75 792.71 L946.50 792.47 L947.25 792.12 L948.00 791.74 L948.75 791.56 L949.50 791.37 L950.25 790.79 L951.00 790.36 L951.75 789.99 L952.50 789.80 L953.25 789.37 L954.00 789.06 L954.75 788.52 L955.50 788.28 L956.25 787.96 L957.00 787.86 L957.75 787.44 L958.50 786.93 L959.25 786.95 L960.00 786.76 L960.75 786.54 L961.50 785.90 L962.25 785.96 L963.00 785.79 L963.75 785.54 L964.50 785.23 L965.25 784.84 L966.00 784.75 L966.75 784.54 L967.50 784.41 L968.25 784.19 L969.00 783.89 L969.75 783.79 L970.50 783.39 L971.25 783.22 L972.00 783.09 L972.75 782.96 L973.50 782.68 L974.25 782.66 L975.00 782.40 L975.75 782.10 L976.50 782.04 L977.25 781.80 L978.00 781.65 L978.75 781.46 L979.50 781.62 L980.25 781.46 L981.00 781.10 L981.75 781.28 L982.50 781.17 L983.25 780.95 L984.00 780.95 L984.75 781.03 L985.50 780.75 L986.25 780.68 L987.00 780.66 L987.75 780.36 L988.50 780.26 L989.25 780.16 L990.00 780.22 L990.75 780.24 L991.50 780.00 L992.25 779.88 L993.00 779.97 L993.75 779.85 L994.50 779.90 L995.25 779.77 L996.00 779.72 L996.75 779.68 L997.50 779.65 L998.25 779.52 L999.00 779.47 L999.75 779.72 L1000.50 779.85 L1001.25 779.64 L1002.00 779.36 L1002.75 779.52 L1003.50 779.64 L1004.25 779.36 L1005.00 779.48 L1005.75 779.49 L1006.50 779.45 L1007.25 779.47 L1008.00 779.66 L1008.75 779.52 L1009.50 779.56 L1010.25 779.76 L1011.00 779.52 L1011.75 779.43 L1012.50 779.70 L1013.25 779.85 L1014.00 779.68 L1014.75 779.71 L1015.50 779.57 L1016.25 779.62 L1017.00 779.88 L1017.75 779.88 L1018.50 779.85 L1019.25 779.77 L1020.00 779.76 L1020.75 779.84 L1021.50 779.90 L1022.25 780.15 L1023.00 780.10 L1023.75 780.22 L1024.50 780.44 L1025.25 780.55 L1026.00 780.60 L1026.75 780.77 L1027.50 780.85 L1028.25 780.78 L1029.00 781.11 L1029.75 781.21 L1030.50 781.36 L1031.25 781.57 L1032.00 781.64 L1032.75 781.98 L1033.50 782.00 L1034.25 782.19 L1035.00 782.37 L1035.75 782.48 L1036.50 782.73 L1037.25 782.91 L1038.00 783.06 L1038.75 783.09 L1039.50 783.24 L1040.25 783.43 L1041.00 783.65 L1041.75 783.63 L1042.50 783.89 L1043.25 784.02 L1044.00 784.22 L1044.75 784.35 L1045.50 784.68 L1046.25 784.81 L1047.00 785.03 L1047.75 785.01 L1048.50 785.20 L1049.25 785.43 L1050.00 785.81 L1050.75 786.00 L1051.50 785.95 L1052.25 786.27 L1053.00 786.61 L1053.75 786.49 L1054.50 786.77 L1055.25 787.11 L1056.00 787.26 L1056.75 787.28 L1057.50 787.73 L1058.25 787.88 L1059.00 788.05 L1059.75 788.05 L1060.50 788.36 L1061.25 788.70 L1062.00 788.82 L1062.75 789.04 L1063.50 789.13 L1064.25 789.50 L1065.00 789.51 L1065.75 789.82 L1066.50 789.95 L1067.25 790.01 L1068.00 790.45 L1068.75 790.37 L1069.50 790.62 L1070.25 790.90 L1071.00 790.95 L1071.75 791.10 L1072.50 791.47 L1073.25 791.64 L1074.00 791.85 L1074.75 792.12 L1075.50 792.49 L1076.25 792.42 L1077.00 792.90 L1077.75 792.87 L1078.50 793.02 L1079.25 792.95 L1080.00 793.25 L1080.75 793.61 L1081.50 793.82 L1082.25 793.86 L1083.00 794.15 L1083.75 794.37 L1084.50 794.39 L1085.25 794.45 L1086.00 794.67 L1086.75 794.90 L1087.50 795.13 L1088.25 795.35 L1089.00 795.35 L1089.75 795.63 L1090.50 795.78 L1091.25 795.99 L1092.00 796.28 L1092.75 796.48 L1093.50 796.48 L1094.25 796.64 L1095.00 796.81 L1095.75 796.99 L1096.50 797.17 L1097.25 797.35 L1098.00 797.47 L1098.75 797.55 L1099.50 797.68 L1100.25 797.92 L1101.00 798.27 L1101.75 798.19 L1102.50 798.29 L1103.25 798.33 L1104.00 798.34 L1104.75 798.61 L1105.50 798.41 L1106.25 798.36 L1107.00 798.33 L1107.75 798.46 L1108.50 798.33 L1109.25 798.32 L1110.00 798.29 L1110.75 798.21 L1111.50 798.32 L1112.25 798.10 L1113.00 798.45 L1113.75 797.89 L1114.50 797.98 L1115.25 798.07 L1116.00 798.05 L1116.75 797.92 L1117.50 797.92 L1118.25 797.86 L1119.00 797.80 L1119.75 797.79 L1120.50 797.71 L1121.25 797.62 L1122.00 797.57 L1122.75 797.64 L1123.50 797.49 L1124.25 797.54 L1125.00 797.61 L1125.75 797.48 L1126.50 797.55 L1127.25 797.38 L1128.00 797.45 L1128.75 797.47 L1129.50 797.45 L1130.25 797.48 L1131.00 797.58 L1131.75 797.41 L1132.50 797.38 L1133.25 797.49 L1134.00 797.32 L1134.75 797.48 L1135.50 797.61 L1136.25 797.51 L1137.00 797.58 L1137.75 797.58 L1138.50 797.67 L1139.25 797.62 L1140.00 797.61 L1140.75 797.28 L1141.50 797.58 L1142.25 797.72 L1143.00 797.66 L1143.75 797.62 L1144.50 797.81 L1145.25 797.65 L1146.00 797.73 L1146.75 797.85 L1147.50 797.76 L1148.25 797.85 L1149.00 797.86 L1149.75 797.78 L1150.50 797.89 L1151.25 797.96 L1152.00 797.99 L1152.75 798.23 L1153.50 798.19 L1154.25 798.21 L1155.00 798.22 L1155.75 798.41 L1156.50 798.67 L1157.25 798.62 L1158.00 798.83 L1158.75 798.92 L1159.50 798.94 L1160.25 799.02 L1161.00 799.30 L1161.75 799.22 L1162.50 799.58 L1163.25 799.55 L1164.00 799.91 L1164.75 799.94 L1165.50 800.13 L1166.25 800.41 L1167.00 800.37 L1167.75 800.65 L1168.50 800.79 L1169.25 801.06 L1170.00 801.26 L1170.75 801.41 L1171.50 801.59 L1172.25 801.73 L1173.00 802.02 L1173.75 802.14 L1174.50 802.38 L1175.25 802.60 L1176.00 802.65 L1176.75 802.89 L1177.50 803.24 L1178.25 803.43 L1179.00 803.78 L1179.75 803.63" stroke="#fd9026" stroke-width="2.4" fill="none" stroke-linejoin="round" stroke-linecap="butt"/><path d="M711.00 820.34 L711.75 811.76 L712.50 803.30 L713.25 795.04 L714.00 787.14 L714.75 779.41 L715.50 772.12 L716.25 765.18 L717.00 758.26 L717.75 751.88 L718.50 746.00 L719.25 740.42 L720.00 735.17 L720.75 730.06 L721.50 725.35 L722.25 720.81 L723.00 716.18 L723.75 712.02 L724.50 707.80 L725.25 703.94 L726.00 700.12 L726.75 696.66 L727.50 693.08 L728.25 689.88 L729.00 686.64 L729.75 683.43 L730.50 680.02 L731.25 677.08 L732.00 674.03 L732.75 671.01 L733.50 667.88 L734.25 665.11 L735.00 662.29 L735.75 659.67 L736.50 657.35 L737.25 654.81 L738.00 652.70 L738.75 650.80 L739.50 648.85 L740.25 647.32 L741.00 646.00 L741.75 644.75 L742.50 643.39 L743.25 642.31 L744.00 641.27 L744.75 639.84 L745.50 639.00 L746.25 637.90 L747.00 636.87 L747.75 636.25 L748.50 635.34 L749.25 634.46 L750.00 634.00 L750.75 633.59 L751.50 633.17 L752.25 633.06 L753.00 632.93 L753.75 633.13 L754.50 633.53 L755.25 633.82 L756.00 634.57 L756.75 635.30 L757.50 636.29 L758.25 637.19 L759.00 638.38 L759.75 639.62 L760.50 640.99 L761.25 642.31 L762.00 643.39 L762.75 644.77 L763.50 646.23 L764.25 647.25 L765.00 648.65 L765.75 649.98 L766.50 651.49 L767.25 652.89 L768.00 654.31 L768.75 655.90 L769.50 657.55 L770.25 659.42 L771.00 660.95 L771.75 662.72 L772.50 664.56 L773.25 666.31 L774.00 668.09 L774.75 669.80 L775.50 671.69 L776.25 673.40 L777.00 675.30 L777.75 676.99 L778.50 678.71 L779.25 680.59 L780.00 682.32 L780.75 684.30 L781.50 686.05 L782.25 687.97 L783.00 689.65 L783.75 691.67 L784.50 693.31 L785.25 695.10 L786.00 697.07 L786.75 698.78 L787.50 700.63 L788.25 702.53 L789.00 703.88 L789.75 705.52 L790.50 707.22 L791.25 708.84 L792.00 710.36 L792.75 711.92 L793.50 713.56 L794.25 715.07 L795.00 716.43 L795.75 718.02 L796.50 719.50 L797.25 720.85 L798.00 722.41 L798.75 723.71 L799.50 725.28 L800.25 726.56 L801.00 727.89 L801.75 729.16 L802.50 730.53 L803.25 731.67 L804.00 733.06 L804.75 734.51 L805.50 735.54 L806.25 737.10 L807.00 738.08 L807.75 739.54 L808.50 740.57 L809.25 741.88 L810.00 742.93 L810.75 743.84 L811.50 745.16 L812.25 746.17 L813.00 746.97 L813.75 747.87 L814.50 748.80 L815.25 749.62 L816.00 750.71 L816.75 751.42 L817.50 752.33 L818.25 753.10 L819.00 753.94 L819.75 754.69 L820.50 755.73 L821.25 756.36 L822.00 757.23 L822.75 757.87 L823.50 758.51 L824.25 759.24 L825.00 759.88 L825.75 760.58 L826.50 761.17 L827.25 761.77 L828.00 762.24 L828.75 762.84 L829.50 763.60 L830.25 763.87 L831.00 764.32 L831.75 764.93 L832.50 765.50 L833.25 765.66 L834.00 766.22 L834.75 766.61 L835.50 766.91 L836.25 767.57 L837.00 767.89 L837.75 768.28 L838.50 768.58 L839.25 769.07 L840.00 769.33 L840.75 769.72 L841.50 769.97 L842.25 770.29 L843.00 770.88 L843.75 771.02 L844.50 771.41 L845.25 771.69 L846.00 771.95 L846.75 772.24 L847.50 772.65 L848.25 772.85 L849.00 773.15 L849.75 773.44 L850.50 773.84 L851.25 774.06 L852.00 774.29 L852.75 774.46 L853.50 774.64 L854.25 775.13 L855.00 775.38 L855.75 775.51 L856.50 775.83 L857.25 776.09 L858.00 776.33 L858.75 776.57 L859.50 776.66 L860.25 777.08 L861.00 777.03 L861.75 777.46 L862.50 777.64 L863.25 777.89 L864.00 778.20 L864.75 778.36 L865.50 778.30 L866.25 778.45 L867.00 778.90 L867.75 778.91 L868.50 779.21 L869.25 779.48 L870.00 779.42 L870.75 779.56 L871.50 779.98 L872.25 780.14 L873.00 780.30 L873.75 780.50 L874.50 780.59 L875.25 780.69 L876.00 781.00 L876.75 781.09 L877.50 781.19 L878.25 781.57 L879.00 781.67 L879.75 781.88 L880.50 781.90 L881.25 782.09 L882.00 782.21 L882.75 782.37 L883.50 782.63 L884.25 782.68 L885.00 782.95 L885.75 783.09 L886.50 783.40 L887.25 783.21 L888.00 783.58 L888.75 783.62 L889.50 783.77 L890.25 783.76 L891.00 783.99 L891.75 784.25 L892.50 784.30 L893.25 784.45 L894.00 784.55 L894.75 784.82 L895.50 784.84 L896.25 784.75 L897.00 785.03 L897.75 785.03 L898.50 785.04 L899.25 785.44 L900.00 785.77 L900.75 785.78 L901.50 785.80 L902.25 785.96 L903.00 786.31 L903.75 786.35 L904.50 786.48 L905.25 786.61 L906.00 786.76 L906.75 786.97 L907.50 787.08 L908.25 787.18 L909.00 787.18 L909.75 787.46 L910.50 787.47 L911.25 787.76 L912.00 787.64 L912.75 787.86 L913.50 787.98 L914.25 787.94 L915.00 788.34 L915.75 788.40 L916.50 788.29 L917.25 788.48 L918.00 788.50 L918.75 788.26 L919.50 788.60 L920.25 788.60 L921.00 788.65 L921.75 788.56 L922.50 788.67 L923.25 788.70 L924.00 788.86 L924.75 788.79 L925.50 788.78 L926.25 788.95 L927.00 788.75 L927.75 788.78 L928.50 788.66 L929.25 789.01 L930.00 788.96 L930.75 788.97 L931.50 788.96 L932.25 788.91 L933.00 788.94 L933.75 788.91 L934.50 788.92 L935.25 788.97 L936.00 789.13 L936.75 789.05 L937.50 789.01 L938.25 788.98 L939.00 789.00 L939.75 789.24 L940.50 789.16 L941.25 789.15 L942.00 789.14 L942.75 789.09 L943.50 789.23 L944.25 789.36 L945.00 789.27 L945.75 789.33 L946.50 789.37 L947.25 789.45 L948.00 789.33 L948.75 789.51 L949.50 789.50 L950.25 789.72 L951.00 789.61 L951.75 789.80 L952.50 789.95 L953.25 789.83 L954.00 789.86 L954.75 790.00 L955.50 790.04 L956.25 790.01 L957.00 790.22 L957.75 790.45 L958.50 790.29 L959.25 790.37 L960.00 790.36 L960.75 790.57 L961.50 790.50 L962.25 790.61 L963.00 790.95 L963.75 790.85 L964.50 791.17 L965.25 791.35 L966.00 791.36 L966.75 791.53 L967.50 791.83 L968.25 791.77 L969.00 791.89 L969.75 791.98 L970.50 792.29 L971.25 792.61 L972.00 792.73 L972.75 792.72 L973.50 792.90 L974.25 793.11 L975.00 793.36 L975.75 793.49 L976.50 793.70 L977.25 793.87 L978.00 793.98 L978.75 794.16 L979.50 794.34 L980.25 794.45 L981.00 794.65 L981.75 794.92 L982.50 794.92 L983.25 794.99 L984.00 794.94 L984.75 795.27 L985.50 795.15 L986.25 795.32 L987.00 795.67 L987.75 795.77 L988.50 795.79 L989.25 795.75 L990.00 795.99 L990.75 796.07 L991.50 796.32 L992.25 796.59 L993.00 796.49 L993.75 796.50 L994.50 796.57 L995.25 796.78 L996.00 796.88 L996.75 796.89 L997.50 797.12 L998.25 797.10 L999.00 797.44 L999.75 797.54 L1000.50 797.65 L1001.25 797.61 L1002.00 797.82 L1002.75 797.87 L1003.50 797.95 L1004.25 798.07 L1005.00 798.09 L1005.75 798.19 L1006.50 798.52 L1007.25 798.54 L1008.00 798.69 L1008.75 798.88 L1009.50 798.72 L1010.25 798.93 L1011.00 799.14 L1011.75 799.27 L1012.50 799.31 L1013.25 799.56 L1014.00 799.59 L1014.75 799.56 L1015.50 799.70 L1016.25 799.99 L1017.00 800.06 L1017.75 799.94 L1018.50 800.38 L1019.25 800.42 L1020.00 800.60 L1020.75 800.54 L1021.50 800.66 L1022.25 800.69 L1023.00 801.17 L1023.75 801.01 L1024.50 801.30 L1025.25 801.19 L1026.00 801.38 L1026.75 801.31 L1027.50 801.55 L1028.25 801.80 L1029.00 801.69 L1029.75 802.04 L1030.50 802.08 L1031.25 802.05 L1032.00 802.22 L1032.75 802.33 L1033.50 802.49 L1034.25 802.55 L1035.00 802.64 L1035.75 802.80 L1036.50 802.84 L1037.25 802.93 L1038.00 803.16 L1038.75 803.37 L1039.50 803.24 L1040.25 803.51 L1041.00 803.55 L1041.75 803.63 L1042.50 803.93 L1043.25 803.90 L1044.00 804.22 L1044.75 804.10 L1045.50 804.34 L1046.25 804.40 L1047.00 804.47 L1047.75 804.73 L1048.50 804.78 L1049.25 804.99 L1050.00 805.05 L1050.75 805.08 L1051.50 805.31 L1052.25 805.46 L1053.00 805.68 L1053.75 805.62 L1054.50 805.83 L1055.25 805.79 L1056.00 806.15 L1056.75 806.10 L1057.50 806.14 L1058.25 806.43 L1059.00 806.66 L1059.75 806.50 L1060.50 806.64 L1061.25 806.77 L1062.00 806.82 L1062.75 807.05 L1063.50 807.00 L1064.25 807.08 L1065.00 807.27 L1065.75 807.19 L1066.50 807.36 L1067.25 807.27 L1068.00 807.29 L1068.75 807.28 L1069.50 807.69 L1070.25 807.51 L1071.00 807.61 L1071.75 807.62 L1072.50 807.68 L1073.25 807.70 L1074.00 807.92 L1074.75 807.66 L1075.50 807.64 L1076.25 807.73 L1077.00 807.73 L1077.75 807.97 L1078.50 808.01 L1079.25 807.86 L1080.00 807.85 L1080.75 807.98 L1081.50 808.19 L1082.25 807.80 L1083.00 808.17 L1083.75 808.04 L1084.50 808.29 L1085.25 808.11 L1086.00 808.23 L1086.75 808.14 L1087.50 808.23 L1088.25 808.51 L1089.00 808.49 L1089.75 808.40 L1090.50 808.39 L1091.25 808.32 L1092.00 808.51 L1092.75 808.58 L1093.50 808.61 L1094.25 808.64 L1095.00 808.58 L1095.75 808.72 L1096.50 808.76 L1097.25 808.93 L1098.00 809.02 L1098.75 808.86 L1099.50 808.83 L1100.25 808.94 L1101.00 808.92 L1101.75 808.95 L1102.50 809.05 L1103.25 809.00 L1104.00 809.20 L1104.75 809.17 L1105.50 809.25 L1106.25 809.25 L1107.00 809.24 L1107.75 809.26 L1108.50 809.38 L1109.25 809.40 L1110.00 809.52 L1110.75 809.55 L1111.50 809.47 L1112.25 809.66 L1113.00 809.57 L1113.75 809.70 L1114.50 809.79 L1115.25 809.66 L1116.00 809.94 L1116.75 810.00 L1117.50 810.02 L1118.25 810.05 L1119.00 810.11 L1119.75 810.11 L1120.50 810.23 L1121.25 810.26 L1122.00 810.38 L1122.75 810.30 L1123.50 810.50 L1124.25 810.55 L1125.00 810.57 L1125.75 810.59 L1126.50 810.74 L1127.25 810.57 L1128.00 810.83 L1128.75 810.86 L1129.50 810.92 L1130.25 810.98 L1131.00 810.94 L1131.75 811.04 L1132.50 811.19 L1133.25 811.22 L1134.00 811.26 L1134.75 811.15 L1135.50 811.41 L1136.25 811.54 L1137.00 811.58 L1137.75 811.56 L1138.50 811.43 L1139.25 811.73 L1140.00 811.68 L1140.75 811.48 L1141.50 811.82 L1142.25 811.67 L1143.00 811.73 L1143.75 811.83 L1144.50 812.05 L1145.25 811.91 L1146.00 811.99 L1146.75 812.15 L1147.50 812.15 L1148.25 811.98 L1149.00 811.97 L1149.75 811.86 L1150.50 811.92 L1151.25 812.03 L1152.00 812.03 L1152.75 812.00 L1153.50 812.09 L1154.25 811.91 L1155.00 811.98 L1155.75 812.06 L1156.50 812.05 L1157.25 812.10 L1158.00 812.03 L1158.75 811.96 L1159.50 812.03 L1160.25 811.89 L1161.00 811.83 L1161.75 812.05 L1162.50 811.98 L1163.25 812.02 L1164.00 811.82 L1164.75 811.95 L1165.50 811.93 L1166.25 811.90 L1167.00 811.76 L1167.75 811.96 L1168.50 812.08 L1169.25 812.03 L1170.00 811.93 L1170.75 811.99 L1171.50 812.07 L1172.25 811.71 L1173.00 811.98 L1173.75 812.04 L1174.50 812.06 L1175.25 812.16 L1176.00 812.10 L1176.75 812.02 L1177.50 812.02 L1178.25 812.07 L1179.00 811.94 L1179.75 811.99" stroke="#8f1fff" stroke-width="2.4" fill="none" stroke-linejoin="round" stroke-linecap="butt"/><path d="M711.00 820.38 L711.75 818.90 L712.50 817.59 L713.25 816.24 L714.00 814.90 L714.75 813.38 L715.50 811.91 L716.25 810.49 L717.00 809.24 L717.75 807.93 L718.50 806.40 L719.25 804.87 L720.00 803.51 L720.75 802.39 L721.50 800.87 L722.25 799.31 L723.00 798.10 L723.75 796.63 L724.50 795.33 L725.25 793.99 L726.00 792.62 L726.75 791.40 L727.50 790.00 L728.25 788.61 L729.00 787.38 L729.75 786.09 L730.50 784.50 L731.25 783.29 L732.00 781.87 L732.75 780.59 L733.50 779.12 L734.25 777.89 L735.00 776.52 L735.75 775.13 L736.50 773.69 L737.25 772.40 L738.00 770.97 L738.75 769.59 L739.50 768.41 L740.25 766.94 L741.00 765.83 L741.75 764.47 L742.50 762.89 L743.25 761.82 L744.00 760.40 L744.75 759.25 L745.50 757.99 L746.25 756.55 L747.00 755.51 L747.75 754.31 L748.50 753.25 L749.25 751.88 L750.00 750.94 L750.75 749.64 L751.50 748.64 L752.25 747.52 L753.00 746.72 L753.75 745.61 L754.50 744.76 L755.25 743.55 L756.00 742.54 L756.75 741.51 L757.50 740.35 L758.25 739.40 L759.00 738.56 L759.75 737.43 L760.50 736.56 L761.25 735.63 L762.00 734.82 L762.75 733.89 L763.50 733.13 L764.25 732.42 L765.00 731.71 L765.75 730.98 L766.50 730.57 L767.25 729.83 L768.00 729.35 L768.75 728.85 L769.50 728.58 L770.25 727.97 L771.00 727.43 L771.75 726.95 L772.50 726.67 L773.25 726.10 L774.00 725.68 L774.75 725.50 L775.50 724.98 L776.25 724.76 L777.00 724.53 L777.75 724.27 L778.50 724.14 L779.25 724.16 L780.00 723.91 L780.75 723.83 L781.50 723.82 L782.25 724.09 L783.00 724.24 L783.75 724.50 L784.50 724.68 L785.25 724.96 L786.00 725.26 L786.75 725.64 L787.50 726.10 L788.25 726.46 L789.00 726.94 L789.75 727.58 L790.50 727.91 L791.25 728.20 L792.00 729.02 L792.75 729.39 L793.50 729.76 L794.25 730.49 L795.00 731.05 L795.75 731.72 L796.50 732.54 L797.25 733.41 L798.00 734.48 L798.75 735.60 L799.50 736.53 L800.25 737.71 L801.00 739.00 L801.75 739.84 L802.50 741.16 L803.25 742.27 L804.00 743.35 L804.75 744.49 L805.50 745.71 L806.25 746.83 L807.00 747.77 L807.75 748.80 L808.50 749.80 L809.25 750.67 L810.00 751.64 L810.75 752.50 L811.50 753.40 L812.25 754.43 L813.00 755.19 L813.75 756.02 L814.50 756.95 L815.25 757.65 L816.00 758.57 L816.75 759.54 L817.50 760.37 L818.25 761.31 L819.00 761.99 L819.75 762.68 L820.50 763.85 L821.25 764.58 L822.00 765.19 L822.75 766.24 L823.50 766.92 L824.25 767.54 L825.00 768.48 L825.75 769.29 L826.50 770.34 L827.25 770.96 L828.00 771.88 L828.75 772.75 L829.50 773.61 L830.25 774.42 L831.00 775.39 L831.75 776.32 L832.50 777.10 L833.25 777.74 L834.00 778.49 L834.75 779.35 L835.50 779.96 L836.25 780.61 L837.00 781.10 L837.75 782.00 L838.50 782.38 L839.25 782.60 L840.00 783.17 L840.75 783.58 L841.50 783.56 L842.25 784.09 L843.00 784.44 L843.75 784.87 L844.50 785.11 L845.25 785.40 L846.00 785.71 L846.75 786.18 L847.50 786.49 L848.25 786.48 L849.00 786.70 L849.75 787.31 L850.50 787.18 L851.25 787.45 L852.00 787.74 L852.75 787.99 L853.50 788.26 L854.25 788.39 L855.00 788.46 L855.75 788.79 L856.50 788.94 L857.25 789.28 L858.00 789.26 L858.75 789.29 L859.50 789.48 L860.25 789.88 L861.00 789.83 L861.75 789.81 L862.50 790.10 L863.25 790.28 L864.00 790.52 L864.75 790.41 L865.50 790.69 L866.25 790.80 L867.00 790.76 L867.75 790.91 L868.50 791.20 L869.25 791.29 L870.00 791.29 L870.75 791.33 L871.50 791.51 L872.25 791.47 L873.00 791.57 L873.75 791.59 L874.50 791.78 L875.25 791.87 L876.00 792.27 L876.75 792.08 L877.50 792.35 L878.25 792.48 L879.00 792.46 L879.75 792.73 L880.50 792.54 L881.25 792.91 L882.00 793.13 L882.75 792.96 L883.50 793.23 L884.25 793.61 L885.00 793.63 L885.75 793.71 L886.50 793.93 L887.25 794.07 L888.00 794.36 L888.75 794.48 L889.50 794.56 L890.25 794.67 L891.00 794.88 L891.75 795.16 L892.50 795.19 L893.25 795.36 L894.00 795.40 L894.75 795.41 L895.50 795.58 L896.25 795.82 L897.00 795.87 L897.75 795.87 L898.50 795.90 L899.25 796.18 L900.00 796.23 L900.75 796.34 L901.50 796.44 L902.25 796.61 L903.00 796.71 L903.75 796.88 L904.50 796.98 L905.25 797.12 L906.00 797.16 L906.75 797.14 L907.50 797.26 L908.25 797.41 L909.00 797.42 L909.75 797.59 L910.50 797.73 L911.25 797.61 L912.00 797.59 L912.75 797.95 L913.50 797.90 L914.25 798.02 L915.00 797.87 L915.75 798.23 L916.50 798.17 L917.25 798.12 L918.00 798.12 L918.75 798.19 L919.50 798.18 L920.25 798.18 L921.00 798.09 L921.75 798.32 L922.50 798.18 L923.25 798.17 L924.00 798.15 L924.75 797.88 L925.50 798.13 L926.25 798.01 L927.00 797.97 L927.75 797.96 L928.50 797.81 L929.25 797.94 L930.00 797.72 L930.75 797.64 L931.50 797.58 L932.25 797.62 L933.00 797.61 L933.75 797.40 L934.50 797.23 L935.25 797.42 L936.00 797.12 L936.75 797.27 L937.50 797.06 L938.25 796.92 L939.00 796.84 L939.75 796.87 L940.50 796.82 L941.25 796.62 L942.00 796.63 L942.75 796.62 L943.50 796.27 L944.25 796.04 L945.00 795.90 L945.75 795.72 L946.50 795.63 L947.25 795.45 L948.00 795.22 L948.75 795.22 L949.50 794.71 L950.25 794.65 L951.00 794.78 L951.75 794.48 L952.50 794.21 L953.25 793.99 L954.00 793.90 L954.75 793.55 L955.50 793.28 L956.25 792.92 L957.00 792.80 L957.75 792.50 L958.50 792.26 L959.25 792.02 L960.00 791.85 L960.75 791.58 L961.50 791.45 L962.25 790.98 L963.00 790.82 L963.75 790.75 L964.50 790.28 L965.25 790.10 L966.00 789.79 L966.75 789.50 L967.50 789.12 L968.25 788.58 L969.00 788.36 L969.75 788.00 L970.50 787.54 L971.25 787.30 L972.00 786.87 L972.75 786.46 L973.50 786.29 L974.25 785.90 L975.00 785.46 L975.75 785.06 L976.50 784.73 L977.25 784.37 L978.00 784.00 L978.75 783.66 L979.50 783.24 L980.25 782.95 L981.00 782.59 L981.75 782.20 L982.50 781.72 L983.25 781.34 L984.00 781.05 L984.75 780.59 L985.50 780.20 L986.25 779.54 L987.00 779.11 L987.75 778.99 L988.50 778.56 L989.25 778.24 L990.00 777.75 L990.75 777.27 L991.50 776.81 L992.25 776.23 L993.00 776.03 L993.75 775.45 L994.50 775.13 L995.25 774.67 L996.00 774.25 L996.75 773.89 L997.50 773.34 L998.25 772.93 L999.00 772.48 L999.75 772.12 L1000.50 771.93 L1001.25 771.34 L1002.00 771.12 L1002.75 770.71 L1003.50 770.32 L1004.25 769.96 L1005.00 769.40 L1005.75 769.16 L1006.50 768.90 L1007.25 768.29 L1008.00 767.98 L1008.75 767.54 L1009.50 767.26 L1010.25 766.75 L1011.00 766.65 L1011.75 766.09 L1012.50 765.61 L1013.25 765.59 L1014.00 765.15 L1014.75 764.76 L1015.50 764.43 L1016.25 764.01 L1017.00 763.70 L1017.75 763.48 L1018.50 763.19 L1019.25 762.90 L1020.00 762.54 L1020.75 762.20 L1021.50 761.96 L1022.25 761.84 L1023.00 761.63 L1023.75 761.22 L1024.50 760.98 L1025.25 760.93 L1026.00 760.65 L1026.75 760.42 L1027.50 759.99 L1028.25 759.86 L1029.00 759.63 L1029.75 759.48 L1030.50 759.08 L1031.25 759.17 L1032.00 758.86 L1032.75 758.68 L1033.50 758.32 L1034.25 758.25 L1035.00 758.21 L1035.75 757.74 L1036.50 757.77 L1037.25 757.65 L1038.00 757.36 L1038.75 757.37 L1039.50 757.13 L1040.25 757.17 L1041.00 756.99 L1041.75 756.86 L1042.50 756.96 L1043.25 756.77 L1044.00 756.76 L1044.75 756.46 L1045.50 756.46 L1046.25 756.57 L1047.00 756.54 L1047.75 756.40 L1048.50 756.45 L1049.25 756.24 L1050.00 756.33 L1050.75 756.17 L1051.50 756.29 L1052.25 756.18 L1053.00 756.14 L1053.75 756.19 L1054.50 756.34 L1055.25 756.04 L1056.00 756.06 L1056.75 756.20 L1057.50 756.03 L1058.25 756.23 L1059.00 756.05 L1059.75 756.01 L1060.50 756.01 L1061.25 756.12 L1062.00 755.98 L1062.75 755.94 L1063.50 755.88 L1064.25 755.66 L1065.00 755.69 L1065.75 755.89 L1066.50 755.77 L1067.25 755.68 L1068.00 755.63 L1068.75 755.44 L1069.50 755.46 L1070.25 755.27 L1071.00 755.32 L1071.75 755.14 L1072.50 755.12 L1073.25 755.12 L1074.00 754.98 L1074.75 755.01 L1075.50 754.94 L1076.25 754.88 L1077.00 754.94 L1077.75 754.63 L1078.50 754.60 L1079.25 754.81 L1080.00 754.85 L1080.75 755.00 L1081.50 754.96 L1082.25 755.08 L1083.00 755.05 L1083.75 755.38 L1084.50 755.57 L1085.25 755.61 L1086.00 755.85 L1086.75 756.18 L1087.50 756.48 L1088.25 756.42 L1089.00 756.99 L1089.75 757.29 L1090.50 757.52 L1091.25 757.84 L1092.00 758.13 L1092.75 758.24 L1093.50 758.63 L1094.25 758.80 L1095.00 758.94 L1095.75 759.26 L1096.50 759.56 L1097.25 759.44 L1098.00 759.59 L1098.75 759.75 L1099.50 760.28 L1100.25 760.21 L1101.00 760.39 L1101.75 760.47 L1102.50 760.61 L1103.25 760.65 L1104.00 761.02 L1104.75 761.17 L1105.50 761.10 L1106.25 761.34 L1107.00 761.51 L1107.75 761.72 L1108.50 761.89 L1109.25 762.12 L1110.00 762.29 L1110.75 762.40 L1111.50 762.57 L1112.25 762.46 L1113.00 762.67 L1113.75 762.98 L1114.50 763.04 L1115.25 763.16 L1116.00 763.11 L1116.75 763.27 L1117.50 763.68 L1118.25 763.79 L1119.00 763.88 L1119.75 764.02 L1120.50 764.04 L1121.25 764.41 L1122.00 764.63 L1122.75 764.85 L1123.50 764.85 L1124.25 764.98 L1125.00 765.05 L1125.75 765.44 L1126.50 765.64 L1127.25 765.56 L1128.00 765.81 L1128.75 765.94 L1129.50 766.03 L1130.25 765.99 L1131.00 766.35 L1131.75 766.60 L1132.50 766.54 L1133.25 766.75 L1134.00 766.65 L1134.75 767.24 L1135.50 767.30 L1136.25 767.39 L1137.00 767.49 L1137.75 767.59 L1138.50 767.77 L1139.25 767.87 L1140.00 768.00 L1140.75 768.15 L1141.50 768.28 L1142.25 768.54 L1143.00 768.36 L1143.75 768.65 L1144.50 768.67 L1145.25 768.73 L1146.00 768.72 L1146.75 769.13 L1147.50 769.08 L1148.25 769.22 L1149.00 769.45 L1149.75 769.40 L1150.50 769.62 L1151.25 769.72 L1152.00 769.91 L1152.75 770.04 L1153.50 769.96 L1154.25 770.24 L1155.00 770.25 L1155.75 770.38 L1156.50 770.45 L1157.25 770.66 L1158.00 770.57 L1158.75 770.83 L1159.50 771.03 L1160.25 770.99 L1161.00 771.33 L1161.75 771.16 L1162.50 771.37 L1163.25 771.41 L1164.00 771.50 L1164.75 771.56 L1165.50 771.73 L1166.25 771.88 L1167.00 771.92 L1167.75 772.19 L1168.50 772.36 L1169.25 772.17 L1170.00 772.51 L1170.75 772.55 L1171.50 772.66 L1172.25 772.99 L1173.00 772.97 L1173.75 772.99 L1174.50 773.08 L1175.25 772.96 L1176.00 773.35 L1176.75 773.31 L1177.50 773.51 L1178.25 773.60 L1179.00 773.79 L1179.75 774.01" stroke="#ff1f1f" stroke-width="2.4" fill="none" stroke-linejoin="round" stroke-linecap="butt"/><text x="702.50" y="826.10" font-size="18.5" text-anchor="end" fill="#1c1c1c" stroke-width="0.3" transform="translate(702.50 826.10) scale(1 1.1) translate(-702.50 -826.10)">0.00</text><text x="702.50" y="782.51" font-size="18.5" text-anchor="end" fill="#1c1c1c" stroke-width="0.3" transform="translate(702.50 782.51) scale(1 1.1) translate(-702.50 -782.51)">0.01</text><text x="702.50" y="738.93" font-size="18.5" text-anchor="end" fill="#1c1c1c" stroke-width="0.3" transform="translate(702.50 738.93) scale(1 1.1) translate(-702.50 -738.93)">0.02</text><text x="702.50" y="695.34" font-size="18.5" text-anchor="end" fill="#1c1c1c" stroke-width="0.3" transform="translate(702.50 695.34) scale(1 1.1) translate(-702.50 -695.34)">0.03</text><text x="702.50" y="651.75" font-size="18.5" text-anchor="end" fill="#1c1c1c" stroke-width="0.3" transform="translate(702.50 651.75) scale(1 1.1) translate(-702.50 -651.75)">0.04</text><text x="702.50" y="608.16" font-size="18.5" text-anchor="end" fill="#1c1c1c" stroke-width="0.3" transform="translate(702.50 608.16) scale(1 1.1) translate(-702.50 -608.16)">0.05</text><text x="702.50" y="564.58" font-size="18.5" text-anchor="end" fill="#1c1c1c" stroke-width="0.3" transform="translate(702.50 564.58) scale(1 1.1) translate(-702.50 -564.58)">0.06</text><text x="702.50" y="520.99" font-size="18.5" text-anchor="end" fill="#1c1c1c" stroke-width="0.3" transform="translate(702.50 520.99) scale(1 1.1) translate(-702.50 -520.99)">0.07</text><text x="702.50" y="477.40" font-size="18.5" text-anchor="end" fill="#1c1c1c" stroke-width="0.3" transform="translate(702.50 477.40) scale(1 1.1) translate(-702.50 -477.40)">0.08</text><text x="711.00" y="843.80" font-size="18.5" text-anchor="middle" fill="#1c1c1c" stroke-width="0.3" transform="translate(711.00 843.80) scale(1 1.1) translate(-711.00 -843.80)">0</text><text x="763.17" y="843.80" font-size="18.5" text-anchor="middle" fill="#1c1c1c" stroke-width="0.3" transform="translate(763.17 843.80) scale(1 1.1) translate(-763.17 -843.80)">10</text><text x="815.33" y="843.80" font-size="18.5" text-anchor="middle" fill="#1c1c1c" stroke-width="0.3" transform="translate(815.33 843.80) scale(1 1.1) translate(-815.33 -843.80)">20</text><text x="867.50" y="843.80" font-size="18.5" text-anchor="middle" fill="#1c1c1c" stroke-width="0.3" transform="translate(867.50 843.80) scale(1 1.1) translate(-867.50 -843.80)">30</text><text x="919.67" y="843.80" font-size="18.5" text-anchor="middle" fill="#1c1c1c" stroke-width="0.3" transform="translate(919.67 843.80) scale(1 1.1) translate(-919.67 -843.80)">40</text><text x="971.83" y="843.80" font-size="18.5" text-anchor="middle" fill="#1c1c1c" stroke-width="0.3" transform="translate(971.83 843.80) scale(1 1.1) translate(-971.83 -843.80)">50</text><text x="1024.00" y="843.80" font-size="18.5" text-anchor="middle" fill="#1c1c1c" stroke-width="0.3" transform="translate(1024.00 843.80) scale(1 1.1) translate(-1024.00 -843.80)">60</text><text x="1076.17" y="843.80" font-size="18.5" text-anchor="middle" fill="#1c1c1c" stroke-width="0.3" transform="translate(1076.17 843.80) scale(1 1.1) translate(-1076.17 -843.80)">70</text><text x="1128.33" y="843.80" font-size="18.5" text-anchor="middle" fill="#1c1c1c" stroke-width="0.3" transform="translate(1128.33 843.80) scale(1 1.1) translate(-1128.33 -843.80)">80</text><text x="1180.50" y="843.80" font-size="18.5" text-anchor="middle" fill="#1c1c1c" stroke-width="0.3" transform="translate(1180.50 843.80) scale(1 1.1) translate(-1180.50 -843.80)">90</text><text x="945.50" y="869.00" font-size="22" text-anchor="middle" fill="#1c1c1c" stroke-width="0.4">Angle(°)</text><text x="657.60" y="645.20" font-size="22.9" text-anchor="middle" fill="#1c1c1c" stroke-width="0.4" transform="rotate(-90 657.60 645.20) translate(657.60 645.20) scale(1 1.12) translate(-657.60 -645.20)">Probability</text><text x="617.00" y="499.00" font-size="35" text-anchor="start" fill="#1c1c1c" stroke-width="0.55">(d)</text><path d="M107.40 1307.90V1300.90M201.92 1307.90V1300.90M296.44 1307.90V1300.90M390.96 1307.90V1300.90M485.48 1307.90V1300.90M580.00 1307.90V1300.90M154.66 1307.90V1303.90M249.18 1307.90V1303.90M343.70 1307.90V1303.90M438.22 1307.90V1303.90M532.74 1307.90V1303.90M107.40 1307.90H114.40M107.40 1230.98H114.40M107.40 1154.06H114.40M107.40 1077.14H114.40M107.40 1000.22H114.40M107.40 923.30H114.40M107.40 1269.44H111.40M107.40 1192.52H111.40M107.40 1115.60H111.40M107.40 1038.68H111.40M107.40 961.76H111.40" stroke="#1e1e1e" stroke-width="1.53" fill="none"/><rect x="107.40" y="923.30" width="472.60" height="384.60" stroke="#1e1e1e" stroke-width="1.8" fill="none"/><path d="M107.50 1303.35 L108.25 1302.35 L109.00 1300.33 L109.75 1299.81 L110.50 1298.66 L111.25 1296.80 L112.00 1295.83 L112.75 1294.51 L113.50 1293.06 L114.25 1291.70 L115.00 1290.13 L115.75 1290.21 L116.50 1288.61 L117.25 1288.45 L118.00 1286.85 L118.75 1285.69 L119.50 1284.45 L120.25 1284.29 L121.00 1282.81 L121.75 1282.75 L122.50 1281.29 L123.25 1280.75 L124.00 1279.43 L124.75 1280.08 L125.50 1278.54 L126.25 1277.77 L127.00 1277.54 L127.75 1276.31 L128.50 1276.27 L129.25 1274.99 L130.00 1275.00 L130.75 1273.86 L131.50 1273.02 L132.25 1272.89 L133.00 1272.04 L133.75 1272.20 L134.50 1271.48 L135.25 1271.13 L136.00 1270.46 L136.75 1269.79 L137.50 1269.40 L138.25 1269.25 L139.00 1268.31 L139.75 1267.60 L140.50 1267.01 L141.25 1266.76 L142.00 1266.06 L142.75 1266.48 L143.50 1264.90 L144.25 1264.44 L145.00 1264.22 L145.75 1264.07 L146.50 1263.27 L147.25 1262.55 L148.00 1262.13 L148.75 1261.83 L149.50 1261.83 L150.25 1260.69 L151.00 1260.55 L151.75 1259.92 L152.50 1259.80 L153.25 1259.38 L154.00 1258.30 L154.75 1259.21 L155.50 1258.01 L156.25 1257.34 L157.00 1256.78 L157.75 1256.58 L158.50 1256.26 L159.25 1256.04 L160.00 1255.42 L160.75 1255.17 L161.50 1254.03 L162.25 1253.92 L163.00 1253.42 L163.75 1253.43 L164.50 1253.13 L165.25 1252.07 L166.00 1252.13 L166.75 1252.05 L167.50 1251.73 L168.25 1250.64 L169.00 1250.85 L169.75 1250.40 L170.50 1249.75 L171.25 1250.22 L172.00 1248.77 L172.75 1248.70 L173.50 1248.59 L174.25 1248.15 L175.00 1247.64 L175.75 1247.82 L176.50 1247.48 L177.25 1246.94 L178.00 1246.61 L178.75 1245.88 L179.50 1245.13 L180.25 1245.94 L181.00 1244.48 L181.75 1245.23 L182.50 1244.04 L183.25 1243.81 L184.00 1243.30 L184.75 1243.34 L185.50 1242.48 L186.25 1242.96 L187.00 1242.16 L187.75 1241.69 L188.50 1241.09 L189.25 1241.05 L190.00 1240.61 L190.75 1240.94 L191.50 1240.26 L192.25 1239.04 L193.00 1239.76 L193.75 1238.04 L194.50 1239.05 L195.25 1237.48 L196.00 1237.76 L196.75 1237.65 L197.50 1236.96 L198.25 1236.17 L199.00 1236.55 L199.75 1235.05 L200.50 1234.70 L201.25 1235.23 L202.00 1233.96 L202.75 1233.85 L203.50 1233.55 L204.25 1232.72 L205.00 1232.34 L205.75 1231.77 L206.50 1231.29 L207.25 1231.11 L208.00 1230.50 L208.75 1229.77 L209.50 1229.46 L210.25 1228.44 L211.00 1227.86 L211.75 1227.28 L212.50 1227.42 L213.25 1227.23 L214.00 1226.23 L214.75 1225.06 L215.50 1225.13 L216.25 1225.03 L217.00 1224.53 L217.75 1224.03 L218.50 1223.91 L219.25 1223.46 L220.00 1222.24 L220.75 1222.44 L221.50 1221.61 L222.25 1221.54 L223.00 1221.48 L223.75 1221.27 L224.50 1220.47 L225.25 1219.64 L226.00 1219.29 L226.75 1219.20 L227.50 1218.26 L228.25 1218.18 L229.00 1218.02 L229.75 1217.73 L230.50 1216.91 L231.25 1216.75 L232.00 1216.70 L232.75 1215.94 L233.50 1214.84 L234.25 1215.12 L235.00 1214.74 L235.75 1214.12 L236.50 1213.89 L237.25 1212.98 L238.00 1213.55 L238.75 1212.89 L239.50 1212.18 L240.25 1212.08 L241.00 1211.68 L241.75 1210.97 L242.50 1209.97 L243.25 1209.54 L244.00 1210.89 L244.75 1209.43 L245.50 1209.35 L246.25 1209.29 L247.00 1208.60 L247.75 1208.78 L248.50 1207.67 L249.25 1207.83 L250.00 1206.53 L250.75 1207.14 L251.50 1206.75 L252.25 1206.26 L253.00 1205.85 L253.75 1205.45 L254.50 1205.26 L255.25 1204.90 L256.00 1203.82 L256.75 1204.11 L257.50 1203.00 L258.25 1202.97 L259.00 1202.40 L259.75 1202.23 L260.50 1201.52 L261.25 1201.35 L262.00 1200.61 L262.75 1200.00 L263.50 1200.27 L264.25 1199.65 L265.00 1199.19 L265.75 1198.89 L266.50 1197.73 L267.25 1197.97 L268.00 1196.82 L268.75 1196.87 L269.50 1196.21 L270.25 1195.90 L271.00 1195.59 L271.75 1194.88 L272.50 1194.08 L273.25 1194.25 L274.00 1193.87 L274.75 1193.22 L275.50 1192.86 L276.25 1191.40 L277.00 1191.56 L277.75 1191.01 L278.50 1189.87 L279.25 1190.09 L280.00 1189.54 L280.75 1188.50 L281.50 1188.21 L282.25 1188.01 L283.00 1187.67 L283.75 1187.17 L284.50 1186.01 L285.25 1185.48 L286.00 1185.14 L286.75 1184.76 L287.50 1184.04 L288.25 1183.64 L289.00 1183.41 L289.75 1182.87 L290.50 1182.14 L291.25 1181.16 L292.00 1180.86 L292.75 1180.70 L293.50 1180.29 L294.25 1179.84 L295.00 1178.58 L295.75 1178.29 L296.50 1177.53 L297.25 1176.43 L298.00 1176.59 L298.75 1175.87 L299.50 1176.50 L300.25 1175.71 L301.00 1174.85 L301.75 1174.64 L302.50 1174.30 L303.25 1174.30 L304.00 1173.51 L304.75 1173.32 L305.50 1172.50 L306.25 1172.34 L307.00 1171.94 L307.75 1171.32 L308.50 1170.56 L309.25 1170.49 L310.00 1169.53 L310.75 1169.73 L311.50 1168.69 L312.25 1168.11 L313.00 1168.57 L313.75 1167.32 L314.50 1167.08 L315.25 1166.21 L316.00 1165.90 L316.75 1165.58 L317.50 1164.91 L318.25 1165.24 L319.00 1164.11 L319.75 1163.48 L320.50 1163.88 L321.25 1163.30 L322.00 1161.81 L322.75 1162.00 L323.50 1162.12 L324.25 1161.08 L325.00 1160.83 L325.75 1160.43 L326.50 1159.31 L327.25 1159.37 L328.00 1159.53 L328.75 1159.35 L329.50 1158.40 L330.25 1157.97 L331.00 1157.78 L331.75 1157.22 L332.50 1156.92 L333.25 1156.00 L334.00 1155.88 L334.75 1155.61 L335.50 1155.20 L336.25 1154.00 L337.00 1154.38 L337.75 1153.68 L338.50 1153.22 L339.25 1152.08 L340.00 1152.23 L340.75 1151.18 L341.50 1150.35 L342.25 1150.76 L343.00 1150.21 L343.75 1149.71 L344.50 1149.21 L345.25 1148.58 L346.00 1148.39 L346.75 1147.69 L347.50 1147.37 L348.25 1147.06 L349.00 1145.82 L349.75 1145.18 L350.50 1144.92 L351.25 1143.29 L352.00 1142.82 L352.75 1142.36 L353.50 1141.06 L354.25 1141.27 L355.00 1140.82 L355.75 1139.16 L356.50 1138.66 L357.25 1138.61 L358.00 1138.12 L358.75 1136.43 L359.50 1136.57 L360.25 1135.69 L361.00 1134.52 L361.75 1134.43 L362.50 1133.81 L363.25 1133.48 L364.00 1132.91 L364.75 1132.25 L365.50 1131.75 L366.25 1131.20 L367.00 1130.90 L367.75 1130.53 L368.50 1130.00 L369.25 1128.82 L370.00 1128.34 L370.75 1127.86 L371.50 1128.08 L372.25 1127.23 L373.00 1126.29 L373.75 1125.65 L374.50 1125.20 L375.25 1125.06 L376.00 1124.17 L376.75 1124.05 L377.50 1124.04 L378.25 1122.98 L379.00 1122.88 L379.75 1121.56 L380.50 1121.74 L381.25 1121.23 L382.00 1120.32 L382.75 1120.65 L383.50 1119.68 L384.25 1118.97 L385.00 1118.63 L385.75 1118.59 L386.50 1117.30 L387.25 1117.35 L388.00 1116.49 L388.75 1116.43 L389.50 1115.69 L390.25 1115.38 L391.00 1115.20 L391.75 1114.47 L392.50 1114.18 L393.25 1113.75 L394.00 1113.18 L394.75 1112.64 L395.50 1112.10 L396.25 1111.84 L397.00 1111.57 L397.75 1111.33 L398.50 1110.85 L399.25 1109.44 L400.00 1109.44 L400.75 1109.07 L401.50 1108.88 L402.25 1108.40 L403.00 1107.09 L403.75 1107.26 L404.50 1106.14 L405.25 1106.15 L406.00 1105.57 L406.75 1105.26 L407.50 1105.61 L408.25 1104.44 L409.00 1104.04 L409.75 1103.84 L410.50 1103.76 L411.25 1102.38 L412.00 1103.12 L412.75 1101.87 L413.50 1101.37 L414.25 1101.35 L415.00 1101.12 L415.75 1101.41 L416.50 1100.36 L417.25 1099.41 L418.00 1099.12 L418.75 1098.43 L419.50 1098.56 L420.25 1098.19 L421.00 1097.34 L421.75 1097.41 L422.50 1095.98 L423.25 1095.95 L424.00 1095.34 L424.75 1095.00 L425.50 1094.17 L426.25 1094.61 L427.00 1093.47 L427.75 1093.27 L428.50 1093.25 L429.25 1092.90 L430.00 1092.25 L430.75 1090.55 L431.50 1090.71 L432.25 1090.18 L433.00 1089.53 L433.75 1088.96 L434.50 1088.49 L435.25 1088.34 L436.00 1087.41 L436.75 1086.52 L437.50 1085.84 L438.25 1085.82 L439.00 1084.52 L439.75 1084.70 L440.50 1083.60 L441.25 1082.90 L442.00 1082.45 L442.75 1081.52 L443.50 1081.16 L444.25 1079.72 L445.00 1078.78 L445.75 1079.35 L446.50 1077.97 L447.25 1076.24 L448.00 1076.98 L448.75 1075.13 L449.50 1075.60 L450.25 1074.77 L451.00 1073.70 L451.75 1072.66 L452.50 1071.63 L453.25 1071.56 L454.00 1070.39 L454.75 1070.23 L455.50 1069.09 L456.25 1067.99 L457.00 1067.65 L457.75 1067.29 L458.50 1066.47 L459.25 1066.07 L460.00 1065.08 L460.75 1065.37 L461.50 1064.01 L462.25 1063.78 L463.00 1062.41 L463.75 1062.70 L464.50 1062.37 L465.25 1061.45 L466.00 1060.57 L466.75 1059.75 L467.50 1059.71 L468.25 1059.13 L469.00 1057.89 L469.75 1057.78 L470.50 1057.39 L471.25 1056.35 L472.00 1056.26 L472.75 1055.37 L473.50 1055.40 L474.25 1053.86 L475.00 1053.91 L475.75 1053.18 L476.50 1051.89 L477.25 1051.63 L478.00 1051.06 L478.75 1051.08 L479.50 1050.02 L480.25 1049.53 L481.00 1048.97 L481.75 1049.20 L482.50 1047.58 L483.25 1047.72 L484.00 1046.34 L484.75 1045.21 L485.50 1044.83 L486.25 1044.04 L487.00 1043.70 L487.75 1042.66 L488.50 1042.21 L489.25 1042.54 L490.00 1041.30 L490.75 1040.68 L491.50 1040.54 L492.25 1038.66 L493.00 1038.78 L493.75 1037.76 L494.50 1037.25 L495.25 1036.37 L496.00 1035.99 L496.75 1035.72 L497.50 1035.05 L498.25 1034.06 L499.00 1033.60 L499.75 1032.24 L500.50 1030.98 L501.25 1031.73 L502.00 1031.43 L502.75 1030.23 L503.50 1029.21 L504.25 1028.80 L505.00 1028.57 L505.75 1027.09 L506.50 1026.89 L507.25 1026.44 L508.00 1025.22 L508.75 1025.67 L509.50 1024.58 L510.25 1024.24 L511.00 1022.63 L511.75 1022.44 L512.50 1022.25 L513.25 1021.22 L514.00 1020.86 L514.75 1019.11 L515.50 1019.07 L516.25 1017.74 L517.00 1017.60 L517.75 1017.21 L518.50 1016.40 L519.25 1015.32 L520.00 1015.19 L520.75 1014.63 L521.50 1013.67 L522.25 1013.29 L523.00 1012.71 L523.75 1012.04 L524.50 1010.77 L525.25 1010.35 L526.00 1009.20 L526.75 1008.64 L527.50 1008.28 L528.25 1007.08 L529.00 1006.17 L529.75 1005.31 L530.50 1004.89 L531.25 1004.45 L532.00 1003.38 L532.75 1002.15 L533.50 1001.67 L534.25 1000.89 L535.00 1000.23 L535.75 998.65 L536.50 998.27 L537.25 997.08 L538.00 996.21 L538.75 996.02 L539.50 994.97 L540.25 994.00 L541.00 993.66 L541.75 992.47 L542.50 991.34 L543.25 991.23 L544.00 989.86 L544.75 989.17 L545.50 988.64 L546.25 988.06 L547.00 987.78 L547.75 986.70 L548.50 985.55 L549.25 985.35 L550.00 985.02 L550.75 984.24 L551.50 983.61 L552.25 982.61 L553.00 982.28 L553.75 982.01 L554.50 981.41 L555.25 980.30 L556.00 979.74 L556.75 979.06 L557.50 979.14 L558.25 977.97 L559.00 977.55 L559.75 976.79 L560.50 976.19 L561.25 975.90 L562.00 975.71 L562.75 974.64 L563.50 974.71 L564.25 973.74 L565.00 973.48 L565.75 973.57 L566.50 972.98 L567.25 971.77 L568.00 971.20 L568.75 970.62 L569.50 970.43 L570.25 969.04 L571.00 968.97 L571.75 968.70 L572.50 968.02 L573.25 967.49 L574.00 967.84 L574.75 966.44 L575.50 966.37 L576.25 965.90 L577.00 965.52 L577.75 964.91" stroke="#ff1f1f" stroke-width="2.2" fill="none" stroke-linejoin="round" stroke-linecap="butt"/><path d="M107.50 1303.22 L108.25 1302.57 L109.00 1301.70 L109.75 1301.40 L110.50 1300.32 L111.25 1299.71 L112.00 1299.28 L112.75 1298.52 L113.50 1297.58 L114.25 1296.39 L115.00 1295.53 L115.75 1294.83 L116.50 1294.41 L117.25 1293.94 L118.00 1292.89 L118.75 1292.26 L119.50 1292.46 L120.25 1290.90 L121.00 1291.30 L121.75 1291.18 L122.50 1290.07 L123.25 1289.62 L124.00 1289.42 L124.75 1289.76 L125.50 1289.02 L126.25 1287.81 L127.00 1288.21 L127.75 1288.61 L128.50 1288.28 L129.25 1287.80 L130.00 1287.08 L130.75 1285.99 L131.50 1286.72 L132.25 1286.27 L133.00 1286.13 L133.75 1286.61 L134.50 1285.67 L135.25 1285.46 L136.00 1285.37 L136.75 1284.69 L137.50 1284.24 L138.25 1283.95 L139.00 1284.46 L139.75 1284.08 L140.50 1283.33 L141.25 1283.90 L142.00 1283.16 L142.75 1282.14 L143.50 1282.87 L144.25 1282.25 L145.00 1281.41 L145.75 1282.09 L146.50 1281.43 L147.25 1281.17 L148.00 1281.43 L148.75 1279.81 L149.50 1280.04 L150.25 1280.24 L151.00 1280.36 L151.75 1279.68 L152.50 1279.30 L153.25 1279.05 L154.00 1279.30 L154.75 1279.48 L155.50 1278.21 L156.25 1277.68 L157.00 1278.36 L157.75 1278.11 L158.50 1277.63 L159.25 1278.19 L160.00 1278.07 L160.75 1277.18 L161.50 1277.08 L162.25 1277.33 L163.00 1276.62 L163.75 1275.91 L164.50 1276.36 L165.25 1275.71 L166.00 1276.10 L166.75 1275.45 L167.50 1275.37 L168.25 1275.49 L169.00 1274.93 L169.75 1274.45 L170.50 1274.03 L171.25 1275.16 L172.00 1274.62 L172.75 1273.09 L173.50 1273.10 L174.25 1273.70 L175.00 1272.90 L175.75 1273.00 L176.50 1273.20 L177.25 1272.67 L178.00 1272.37 L178.75 1272.03 L179.50 1272.06 L180.25 1272.15 L181.00 1272.69 L181.75 1272.24 L182.50 1271.50 L183.25 1271.96 L184.00 1271.48 L184.75 1270.60 L185.50 1271.22 L186.25 1271.69 L187.00 1270.83 L187.75 1271.53 L188.50 1270.85 L189.25 1270.96 L190.00 1270.30 L190.75 1271.88 L191.50 1271.03 L192.25 1271.27 L193.00 1270.50 L193.75 1269.97 L194.50 1271.28 L195.25 1270.29 L196.00 1271.45 L196.75 1270.52 L197.50 1271.39 L198.25 1270.20 L199.00 1269.67 L199.75 1270.88 L200.50 1270.49 L201.25 1270.51 L202.00 1271.02 L202.75 1270.04 L203.50 1269.82 L204.25 1269.88 L205.00 1269.61 L205.75 1269.53 L206.50 1269.78 L207.25 1269.92 L208.00 1270.17 L208.75 1269.77 L209.50 1270.29 L210.25 1270.71 L211.00 1270.20 L211.75 1270.49 L212.50 1269.80 L213.25 1270.37 L214.00 1270.42 L214.75 1269.83 L215.50 1269.33 L216.25 1269.92 L217.00 1269.91 L217.75 1270.50 L218.50 1269.45 L219.25 1270.31 L220.00 1268.14 L220.75 1269.00 L221.50 1268.72 L222.25 1268.57 L223.00 1268.29 L223.75 1268.32 L224.50 1268.94 L225.25 1267.83 L226.00 1268.27 L226.75 1267.41 L227.50 1267.29 L228.25 1265.84 L229.00 1266.85 L229.75 1266.90 L230.50 1265.83 L231.25 1265.90 L232.00 1265.60 L232.75 1266.90 L233.50 1265.22 L234.25 1265.21 L235.00 1264.10 L235.75 1264.56 L236.50 1265.34 L237.25 1264.51 L238.00 1263.68 L238.75 1264.81 L239.50 1264.92 L240.25 1264.91 L241.00 1264.88 L241.75 1264.32 L242.50 1265.92 L243.25 1264.19 L244.00 1264.61 L244.75 1263.70 L245.50 1263.95 L246.25 1263.43 L247.00 1264.22 L247.75 1263.85 L248.50 1263.49 L249.25 1262.93 L250.00 1264.12 L250.75 1264.19 L251.50 1264.13 L252.25 1263.61 L253.00 1263.93 L253.75 1263.97 L254.50 1263.71 L255.25 1264.09 L256.00 1263.23 L256.75 1263.34 L257.50 1262.42 L258.25 1264.13 L259.00 1262.66 L259.75 1263.12 L260.50 1263.20 L261.25 1262.42 L262.00 1262.73 L262.75 1263.02 L263.50 1262.56 L264.25 1262.39 L265.00 1262.31 L265.75 1262.05 L266.50 1262.24 L267.25 1262.44 L268.00 1262.41 L268.75 1262.66 L269.50 1262.07 L270.25 1261.72 L271.00 1262.32 L271.75 1262.01 L272.50 1262.26 L273.25 1261.79 L274.00 1261.89 L274.75 1261.75 L275.50 1261.84 L276.25 1260.93 L277.00 1261.29 L277.75 1261.36 L278.50 1262.05 L279.25 1261.10 L280.00 1261.29 L280.75 1260.90 L281.50 1259.90 L282.25 1261.47 L283.00 1261.12 L283.75 1261.34 L284.50 1259.98 L285.25 1260.72 L286.00 1260.60 L286.75 1259.67 L287.50 1260.61 L288.25 1260.01 L289.00 1260.48 L289.75 1259.35 L290.50 1259.67 L291.25 1259.68 L292.00 1259.21 L292.75 1259.92 L293.50 1260.47 L294.25 1259.74 L295.00 1259.98 L295.75 1260.33 L296.50 1259.80 L297.25 1259.26 L298.00 1258.42 L298.75 1259.46 L299.50 1259.05 L300.25 1258.90 L301.00 1259.41 L301.75 1259.23 L302.50 1258.10 L303.25 1258.91 L304.00 1258.55 L304.75 1259.05 L305.50 1258.53 L306.25 1258.91 L307.00 1258.03 L307.75 1258.07 L308.50 1257.91 L309.25 1258.00 L310.00 1257.88 L310.75 1258.49 L311.50 1257.33 L312.25 1257.76 L313.00 1257.05 L313.75 1256.82 L314.50 1257.14 L315.25 1256.59 L316.00 1257.33 L316.75 1256.78 L317.50 1256.78 L318.25 1257.17 L319.00 1257.62 L319.75 1256.49 L320.50 1255.68 L321.25 1256.35 L322.00 1256.45 L322.75 1256.91 L323.50 1256.23 L324.25 1255.71 L325.00 1256.51 L325.75 1256.48 L326.50 1255.75 L327.25 1255.88 L328.00 1255.82 L328.75 1256.82 L329.50 1255.13 L330.25 1255.12 L331.00 1255.17 L331.75 1255.47 L332.50 1254.87 L333.25 1255.16 L334.00 1255.25 L334.75 1255.67 L335.50 1254.51 L336.25 1254.33 L337.00 1254.21 L337.75 1253.35 L338.50 1253.57 L339.25 1254.12 L340.00 1254.02 L340.75 1255.12 L341.50 1254.34 L342.25 1254.00 L343.00 1254.24 L343.75 1253.08 L344.50 1253.01 L345.25 1252.81 L346.00 1252.99 L346.75 1254.03 L347.50 1252.72 L348.25 1252.42 L349.00 1252.65 L349.75 1252.94 L350.50 1252.65 L351.25 1252.73 L352.00 1251.60 L352.75 1251.66 L353.50 1251.87 L354.25 1251.92 L355.00 1252.45 L355.75 1251.04 L356.50 1251.88 L357.25 1251.35 L358.00 1251.66 L358.75 1250.93 L359.50 1250.46 L360.25 1251.63 L361.00 1251.09 L361.75 1249.87 L362.50 1251.08 L363.25 1250.13 L364.00 1250.47 L364.75 1250.41 L365.50 1249.64 L366.25 1250.76 L367.00 1249.84 L367.75 1250.80 L368.50 1250.12 L369.25 1250.03 L370.00 1249.80 L370.75 1250.53 L371.50 1248.93 L372.25 1248.94 L373.00 1248.89 L373.75 1249.67 L374.50 1249.51 L375.25 1248.91 L376.00 1248.88 L376.75 1247.81 L377.50 1249.24 L378.25 1248.27 L379.00 1248.32 L379.75 1247.98 L380.50 1248.32 L381.25 1247.76 L382.00 1247.79 L382.75 1247.64 L383.50 1247.21 L384.25 1247.02 L385.00 1247.38 L385.75 1247.23 L386.50 1247.26 L387.25 1247.46 L388.00 1245.97 L388.75 1245.52 L389.50 1246.07 L390.25 1246.75 L391.00 1245.93 L391.75 1244.88 L392.50 1246.41 L393.25 1245.68 L394.00 1244.50 L394.75 1244.63 L395.50 1244.88 L396.25 1244.34 L397.00 1244.33 L397.75 1244.43 L398.50 1243.94 L399.25 1244.39 L400.00 1243.35 L400.75 1243.94 L401.50 1242.65 L402.25 1242.10 L403.00 1241.37 L403.75 1241.72 L404.50 1241.93 L405.25 1242.09 L406.00 1239.62 L406.75 1241.04 L407.50 1240.30 L408.25 1240.86 L409.00 1239.98 L409.75 1240.11 L410.50 1240.58 L411.25 1239.46 L412.00 1239.05 L412.75 1239.36 L413.50 1238.75 L414.25 1238.23 L415.00 1237.27 L415.75 1237.64 L416.50 1236.73 L417.25 1237.41 L418.00 1237.35 L418.75 1236.84 L419.50 1237.47 L420.25 1235.73 L421.00 1236.25 L421.75 1235.81 L422.50 1234.95 L423.25 1235.53 L424.00 1235.43 L424.75 1235.32 L425.50 1234.42 L426.25 1234.57 L427.00 1233.66 L427.75 1234.47 L428.50 1234.37 L429.25 1233.30 L430.00 1233.08 L430.75 1232.18 L431.50 1232.46 L432.25 1232.01 L433.00 1232.06 L433.75 1230.99 L434.50 1232.32 L435.25 1231.28 L436.00 1231.47 L436.75 1230.93 L437.50 1230.29 L438.25 1231.14 L439.00 1230.49 L439.75 1228.96 L440.50 1229.44 L441.25 1229.09 L442.00 1228.57 L442.75 1229.80 L443.50 1227.88 L444.25 1229.01 L445.00 1227.17 L445.75 1228.47 L446.50 1227.30 L447.25 1226.22 L448.00 1227.26 L448.75 1227.14 L449.50 1226.24 L450.25 1227.03 L451.00 1225.45 L451.75 1226.65 L452.50 1226.19 L453.25 1226.59 L454.00 1225.31 L454.75 1225.76 L455.50 1224.84 L456.25 1225.35 L457.00 1224.88 L457.75 1224.97 L458.50 1223.74 L459.25 1224.43 L460.00 1224.18 L460.75 1224.55 L461.50 1223.43 L462.25 1223.31 L463.00 1223.51 L463.75 1223.25 L464.50 1221.51 L465.25 1222.41 L466.00 1222.75 L466.75 1221.92 L467.50 1220.93 L468.25 1221.44 L469.00 1221.34 L469.75 1220.62 L470.50 1220.86 L471.25 1219.96 L472.00 1220.06 L472.75 1219.82 L473.50 1220.27 L474.25 1219.16 L475.00 1219.22 L475.75 1218.30 L476.50 1217.25 L477.25 1216.89 L478.00 1217.54 L478.75 1216.06 L479.50 1215.83 L480.25 1216.89 L481.00 1215.89 L481.75 1215.59 L482.50 1216.86 L483.25 1215.50 L484.00 1216.14 L484.75 1215.73 L485.50 1215.72 L486.25 1215.59 L487.00 1215.97 L487.75 1216.11 L488.50 1214.80 L489.25 1215.90 L490.00 1214.89 L490.75 1214.75 L491.50 1215.01 L492.25 1214.22 L493.00 1213.84 L493.75 1214.84 L494.50 1213.59 L495.25 1212.59 L496.00 1211.77 L496.75 1213.32 L497.50 1212.83 L498.25 1213.50 L499.00 1211.79 L499.75 1211.49 L500.50 1211.81 L501.25 1212.13 L502.00 1211.80 L502.75 1210.73 L503.50 1209.97 L504.25 1209.93 L505.00 1210.17 L505.75 1208.92 L506.50 1208.28 L507.25 1208.27 L508.00 1207.70 L508.75 1207.21 L509.50 1207.77 L510.25 1206.67 L511.00 1206.02 L511.75 1205.44 L512.50 1205.16 L513.25 1205.26 L514.00 1205.10 L514.75 1204.17 L515.50 1203.99 L516.25 1203.89 L517.00 1203.34 L517.75 1204.13 L518.50 1202.92 L519.25 1203.22 L520.00 1203.41 L520.75 1202.20 L521.50 1202.01 L522.25 1202.10 L523.00 1202.14 L523.75 1201.67 L524.50 1201.27 L525.25 1201.50 L526.00 1200.15 L526.75 1199.58 L527.50 1199.66 L528.25 1198.77 L529.00 1198.51 L529.75 1197.89 L530.50 1196.11 L531.25 1194.92 L532.00 1195.56 L532.75 1194.61 L533.50 1194.17 L534.25 1193.04 L535.00 1193.41 L535.75 1192.48 L536.50 1192.48 L537.25 1192.30 L538.00 1191.57 L538.75 1191.16 L539.50 1190.55 L540.25 1191.94 L541.00 1189.63 L541.75 1190.36 L542.50 1188.96 L543.25 1188.98 L544.00 1189.75 L544.75 1188.32 L545.50 1188.82 L546.25 1187.67 L547.00 1187.80 L547.75 1186.09 L548.50 1185.61 L549.25 1186.25 L550.00 1185.02 L550.75 1183.66 L551.50 1183.27 L552.25 1181.49 L553.00 1182.11 L553.75 1181.07 L554.50 1180.78 L555.25 1181.63 L556.00 1180.28 L556.75 1179.95 L557.50 1179.45 L558.25 1180.10 L559.00 1179.82 L559.75 1178.92 L560.50 1178.30 L561.25 1178.81 L562.00 1178.75 L562.75 1177.45 L563.50 1178.73 L564.25 1177.39 L565.00 1177.54 L565.75 1176.64 L566.50 1176.07 L567.25 1176.27 L568.00 1175.17 L568.75 1173.70 L569.50 1174.01 L570.25 1173.73 L571.00 1172.75 L571.75 1172.90 L572.50 1171.46 L573.25 1171.96 L574.00 1171.19 L574.75 1170.78 L575.50 1171.02 L576.25 1170.35 L577.00 1169.83 L577.75 1170.24 L577.30 1166.00 L577.60 1154.00 L578.20 1160.00" stroke="#e8842a" stroke-width="2.2" fill="none" stroke-linejoin="round" stroke-linecap="butt"/><path d="M107.50 1304.85 L108.25 1304.70 L109.00 1304.04 L109.75 1302.84 L110.50 1302.32 L111.25 1301.66 L112.00 1301.47 L112.75 1300.69 L113.50 1300.42 L114.25 1298.98 L115.00 1299.65 L115.75 1298.57 L116.50 1298.35 L117.25 1297.60 L118.00 1297.06 L118.75 1296.93 L119.50 1296.64 L120.25 1295.90 L121.00 1295.55 L121.75 1295.49 L122.50 1294.60 L123.25 1294.02 L124.00 1294.35 L124.75 1293.64 L125.50 1292.87 L126.25 1292.93 L127.00 1292.73 L127.75 1292.16 L128.50 1291.75 L129.25 1291.99 L130.00 1292.00 L130.75 1291.32 L131.50 1290.86 L132.25 1290.99 L133.00 1290.85 L133.75 1290.24 L134.50 1290.30 L135.25 1290.24 L136.00 1289.59 L136.75 1289.17 L137.50 1289.38 L138.25 1289.16 L139.00 1289.28 L139.75 1288.29 L140.50 1288.36 L141.25 1288.16 L142.00 1287.73 L142.75 1288.27 L143.50 1288.30 L144.25 1287.75 L145.00 1288.39 L145.75 1288.10 L146.50 1287.94 L147.25 1287.78 L148.00 1287.89 L148.75 1287.01 L149.50 1287.61 L150.25 1287.53 L151.00 1286.63 L151.75 1287.31 L152.50 1287.03 L153.25 1287.33 L154.00 1286.84 L154.75 1286.93 L155.50 1286.99 L156.25 1286.51 L157.00 1286.97 L157.75 1286.66 L158.50 1286.82 L159.25 1286.41 L160.00 1286.91 L160.75 1286.69 L161.50 1286.36 L162.25 1286.58 L163.00 1286.74 L163.75 1286.87 L164.50 1285.63 L165.25 1286.42 L166.00 1286.21 L166.75 1285.95 L167.50 1285.56 L168.25 1286.28 L169.00 1285.32 L169.75 1285.88 L170.50 1286.05 L171.25 1284.95 L172.00 1285.31 L172.75 1284.86 L173.50 1285.30 L174.25 1285.64 L175.00 1285.71 L175.75 1284.26 L176.50 1284.55 L177.25 1284.87 L178.00 1285.05 L178.75 1284.50 L179.50 1283.95 L180.25 1284.17 L181.00 1283.91 L181.75 1283.69 L182.50 1283.35 L183.25 1283.59 L184.00 1283.40 L184.75 1283.09 L185.50 1282.88 L186.25 1282.35 L187.00 1282.46 L187.75 1282.88 L188.50 1282.22 L189.25 1281.62 L190.00 1282.42 L190.75 1281.97 L191.50 1282.35 L192.25 1281.46 L193.00 1281.11 L193.75 1280.60 L194.50 1281.41 L195.25 1281.68 L196.00 1280.33 L196.75 1280.23 L197.50 1280.51 L198.25 1279.86 L199.00 1279.91 L199.75 1279.74 L200.50 1279.78 L201.25 1279.96 L202.00 1279.45 L202.75 1279.64 L203.50 1279.05 L204.25 1279.19 L205.00 1278.21 L205.75 1278.34 L206.50 1279.01 L207.25 1278.42 L208.00 1278.72 L208.75 1278.59 L209.50 1278.76 L210.25 1278.47 L211.00 1278.44 L211.75 1277.94 L212.50 1277.63 L213.25 1277.51 L214.00 1277.50 L214.75 1277.17 L215.50 1277.28 L216.25 1277.34 L217.00 1277.36 L217.75 1277.05 L218.50 1276.40 L219.25 1276.96 L220.00 1276.97 L220.75 1277.17 L221.50 1276.90 L222.25 1276.38 L223.00 1276.26 L223.75 1277.13 L224.50 1276.60 L225.25 1276.88 L226.00 1276.90 L226.75 1275.78 L227.50 1276.11 L228.25 1276.05 L229.00 1275.99 L229.75 1275.90 L230.50 1275.69 L231.25 1275.60 L232.00 1274.92 L232.75 1275.31 L233.50 1275.02 L234.25 1275.24 L235.00 1274.94 L235.75 1275.24 L236.50 1275.22 L237.25 1274.96 L238.00 1274.88 L238.75 1274.72 L239.50 1274.44 L240.25 1274.46 L241.00 1274.26 L241.75 1274.48 L242.50 1274.27 L243.25 1274.38 L244.00 1273.63 L244.75 1274.32 L245.50 1273.66 L246.25 1273.58 L247.00 1273.68 L247.75 1273.47 L248.50 1273.69 L249.25 1273.30 L250.00 1273.05 L250.75 1273.05 L251.50 1273.72 L252.25 1273.20 L253.00 1272.70 L253.75 1273.03 L254.50 1272.41 L255.25 1273.50 L256.00 1272.26 L256.75 1272.89 L257.50 1272.84 L258.25 1272.06 L259.00 1272.60 L259.75 1272.77 L260.50 1272.51 L261.25 1272.37 L262.00 1272.53 L262.75 1272.19 L263.50 1272.17 L264.25 1271.94 L265.00 1272.13 L265.75 1271.51 L266.50 1272.05 L267.25 1271.52 L268.00 1271.24 L268.75 1271.68 L269.50 1272.07 L270.25 1271.75 L271.00 1271.16 L271.75 1271.51 L272.50 1271.04 L273.25 1271.08 L274.00 1271.08 L274.75 1270.17 L275.50 1270.97 L276.25 1270.47 L277.00 1270.52 L277.75 1270.17 L278.50 1270.09 L279.25 1270.21 L280.00 1270.76 L280.75 1270.98 L281.50 1270.31 L282.25 1270.63 L283.00 1270.08 L283.75 1269.43 L284.50 1270.07 L285.25 1270.10 L286.00 1269.72 L286.75 1269.89 L287.50 1269.91 L288.25 1269.33 L289.00 1269.03 L289.75 1269.39 L290.50 1269.32 L291.25 1269.19 L292.00 1269.57 L292.75 1269.75 L293.50 1268.92 L294.25 1269.22 L295.00 1269.22 L295.75 1269.05 L296.50 1269.08 L297.25 1268.49 L298.00 1268.80 L298.75 1269.16 L299.50 1268.64 L300.25 1268.05 L301.00 1268.39 L301.75 1268.52 L302.50 1268.11 L303.25 1267.69 L304.00 1268.33 L304.75 1267.25 L305.50 1267.76 L306.25 1267.48 L307.00 1266.96 L307.75 1267.70 L308.50 1267.28 L309.25 1266.65 L310.00 1267.16 L310.75 1266.68 L311.50 1266.06 L312.25 1266.37 L313.00 1266.59 L313.75 1266.61 L314.50 1266.33 L315.25 1266.17 L316.00 1266.20 L316.75 1265.85 L317.50 1266.21 L318.25 1265.74 L319.00 1265.67 L319.75 1265.63 L320.50 1264.96 L321.25 1264.96 L322.00 1265.62 L322.75 1265.08 L323.50 1264.75 L324.25 1264.84 L325.00 1264.43 L325.75 1264.58 L326.50 1264.13 L327.25 1264.33 L328.00 1263.56 L328.75 1264.46 L329.50 1263.69 L330.25 1263.20 L331.00 1263.55 L331.75 1263.38 L332.50 1263.45 L333.25 1262.87 L334.00 1263.29 L334.75 1264.30 L335.50 1262.47 L336.25 1262.92 L337.00 1262.57 L337.75 1262.63 L338.50 1261.82 L339.25 1261.93 L340.00 1262.38 L340.75 1262.09 L341.50 1262.57 L342.25 1261.64 L343.00 1261.83 L343.75 1262.68 L344.50 1261.29 L345.25 1261.13 L346.00 1261.33 L346.75 1261.22 L347.50 1261.43 L348.25 1261.08 L349.00 1260.67 L349.75 1260.91 L350.50 1261.66 L351.25 1261.08 L352.00 1259.57 L352.75 1260.40 L353.50 1260.05 L354.25 1260.48 L355.00 1260.11 L355.75 1260.76 L356.50 1260.32 L357.25 1260.22 L358.00 1259.89 L358.75 1259.73 L359.50 1259.77 L360.25 1260.02 L361.00 1259.68 L361.75 1259.28 L362.50 1259.77 L363.25 1259.31 L364.00 1259.14 L364.75 1258.81 L365.50 1258.81 L366.25 1258.70 L367.00 1257.87 L367.75 1259.12 L368.50 1258.89 L369.25 1258.54 L370.00 1258.90 L370.75 1258.61 L371.50 1258.51 L372.25 1257.44 L373.00 1258.14 L373.75 1258.33 L374.50 1258.63 L375.25 1258.64 L376.00 1258.41 L376.75 1257.43 L377.50 1256.99 L378.25 1257.88 L379.00 1257.61 L379.75 1257.86 L380.50 1257.39 L381.25 1257.43 L382.00 1256.75 L382.75 1257.35 L383.50 1256.95 L384.25 1257.15 L385.00 1257.10 L385.75 1256.82 L386.50 1256.88 L387.25 1256.68 L388.00 1256.86 L388.75 1256.68 L389.50 1256.22 L390.25 1256.12 L391.00 1256.84 L391.75 1256.10 L392.50 1256.39 L393.25 1256.08 L394.00 1255.65 L394.75 1255.48 L395.50 1255.68 L396.25 1255.63 L397.00 1255.65 L397.75 1254.89 L398.50 1255.01 L399.25 1255.08 L400.00 1255.56 L400.75 1254.06 L401.50 1254.92 L402.25 1254.46 L403.00 1254.67 L403.75 1254.22 L404.50 1254.39 L405.25 1254.68 L406.00 1254.12 L406.75 1254.01 L407.50 1253.85 L408.25 1253.32 L409.00 1253.62 L409.75 1253.21 L410.50 1252.85 L411.25 1252.97 L412.00 1252.76 L412.75 1252.95 L413.50 1252.51 L414.25 1252.18 L415.00 1252.72 L415.75 1252.40 L416.50 1252.34 L417.25 1251.95 L418.00 1251.53 L418.75 1251.26 L419.50 1251.15 L420.25 1251.41 L421.00 1250.96 L421.75 1250.24 L422.50 1250.58 L423.25 1249.93 L424.00 1250.32 L424.75 1249.68 L425.50 1249.50 L426.25 1249.82 L427.00 1249.59 L427.75 1248.87 L428.50 1249.56 L429.25 1249.89 L430.00 1248.46 L430.75 1249.46 L431.50 1248.43 L432.25 1248.34 L433.00 1248.30 L433.75 1247.70 L434.50 1248.52 L435.25 1248.09 L436.00 1247.51 L436.75 1247.53 L437.50 1246.95 L438.25 1247.22 L439.00 1247.52 L439.75 1246.46 L440.50 1246.76 L441.25 1246.83 L442.00 1247.00 L442.75 1246.97 L443.50 1246.19 L444.25 1245.95 L445.00 1246.23 L445.75 1245.80 L446.50 1245.68 L447.25 1246.02 L448.00 1246.09 L448.75 1245.44 L449.50 1245.14 L450.25 1245.25 L451.00 1244.24 L451.75 1244.74 L452.50 1244.22 L453.25 1245.27 L454.00 1244.53 L454.75 1244.16 L455.50 1243.88 L456.25 1242.90 L457.00 1243.85 L457.75 1244.00 L458.50 1243.00 L459.25 1243.31 L460.00 1243.14 L460.75 1242.15 L461.50 1242.83 L462.25 1242.78 L463.00 1242.18 L463.75 1241.87 L464.50 1241.96 L465.25 1240.93 L466.00 1241.28 L466.75 1241.39 L467.50 1240.36 L468.25 1240.91 L469.00 1240.18 L469.75 1239.35 L470.50 1239.80 L471.25 1239.23 L472.00 1239.42 L472.75 1238.62 L473.50 1239.11 L474.25 1238.20 L475.00 1238.28 L475.75 1237.65 L476.50 1237.44 L477.25 1237.66 L478.00 1237.00 L478.75 1236.47 L479.50 1235.85 L480.25 1236.38 L481.00 1235.91 L481.75 1235.23 L482.50 1235.11 L483.25 1234.35 L484.00 1234.05 L484.75 1233.81 L485.50 1233.92 L486.25 1233.60 L487.00 1232.93 L487.75 1233.14 L488.50 1232.85 L489.25 1232.33 L490.00 1232.32 L490.75 1231.55 L491.50 1231.30 L492.25 1231.20 L493.00 1230.72 L493.75 1230.70 L494.50 1229.68 L495.25 1230.32 L496.00 1229.25 L496.75 1229.17 L497.50 1228.45 L498.25 1228.86 L499.00 1228.81 L499.75 1228.47 L500.50 1228.11 L501.25 1227.01 L502.00 1227.01 L502.75 1226.87 L503.50 1226.44 L504.25 1226.91 L505.00 1226.33 L505.75 1226.01 L506.50 1225.94 L507.25 1225.19 L508.00 1224.96 L508.75 1224.73 L509.50 1224.97 L510.25 1224.67 L511.00 1224.51 L511.75 1224.44 L512.50 1223.35 L513.25 1223.38 L514.00 1223.38 L514.75 1222.61 L515.50 1222.65 L516.25 1222.95 L517.00 1222.75 L517.75 1222.52 L518.50 1221.94 L519.25 1221.64 L520.00 1221.88 L520.75 1221.16 L521.50 1221.19 L522.25 1221.32 L523.00 1220.50 L523.75 1220.19 L524.50 1220.16 L525.25 1220.13 L526.00 1219.83 L526.75 1219.44 L527.50 1219.29 L528.25 1218.23 L529.00 1218.16 L529.75 1218.18 L530.50 1217.42 L531.25 1216.85 L532.00 1216.41 L532.75 1215.99 L533.50 1215.68 L534.25 1214.78 L535.00 1214.59 L535.75 1214.45 L536.50 1213.14 L537.25 1212.95 L538.00 1211.92 L538.75 1210.74 L539.50 1210.36 L540.25 1209.43 L541.00 1209.34 L541.75 1207.94 L542.50 1208.04 L543.25 1207.01 L544.00 1205.31 L544.75 1205.51 L545.50 1205.00 L546.25 1203.41 L547.00 1203.29 L547.75 1201.60 L548.50 1201.63 L549.25 1200.27 L550.00 1200.33 L550.75 1198.85 L551.50 1197.87 L552.25 1198.25 L553.00 1198.24 L553.75 1196.57 L554.50 1196.42 L555.25 1195.54 L556.00 1194.77 L556.75 1194.50 L557.50 1194.29 L558.25 1192.74 L559.00 1192.85 L559.75 1192.28 L560.50 1191.19 L561.25 1191.77 L562.00 1191.40 L562.75 1189.90 L563.50 1190.37 L564.25 1189.32 L565.00 1188.80 L565.75 1188.97 L566.50 1188.15 L567.25 1187.85 L568.00 1187.99 L568.75 1187.68 L569.50 1187.38 L570.25 1186.48 L571.00 1186.35 L571.75 1187.22 L572.50 1186.44 L573.25 1186.76 L574.00 1186.27 L574.75 1186.54 L575.50 1186.12 L576.25 1187.11 L577.00 1186.16 L577.75 1186.46" stroke="#23962a" stroke-width="2.2" fill="none" stroke-linejoin="round" stroke-linecap="butt"/><path d="M107.50 1303.77 L108.25 1303.29 L109.00 1302.35 L109.75 1301.52 L110.50 1301.01 L111.25 1299.22 L112.00 1298.64 L112.75 1297.63 L113.50 1297.30 L114.25 1296.96 L115.00 1295.90 L115.75 1295.41 L116.50 1293.92 L117.25 1294.02 L118.00 1293.06 L118.75 1293.45 L119.50 1292.62 L120.25 1292.16 L121.00 1291.37 L121.75 1291.18 L122.50 1290.79 L123.25 1290.05 L124.00 1289.62 L124.75 1289.40 L125.50 1288.87 L126.25 1288.54 L127.00 1288.32 L127.75 1287.84 L128.50 1288.06 L129.25 1286.93 L130.00 1287.49 L130.75 1286.69 L131.50 1286.44 L132.25 1285.89 L133.00 1286.05 L133.75 1285.75 L134.50 1285.64 L135.25 1285.13 L136.00 1285.10 L136.75 1285.46 L137.50 1284.71 L138.25 1284.12 L139.00 1284.41 L139.75 1283.78 L140.50 1283.78 L141.25 1283.53 L142.00 1282.93 L142.75 1282.14 L143.50 1282.44 L144.25 1282.52 L145.00 1281.95 L145.75 1282.00 L146.50 1281.96 L147.25 1281.20 L148.00 1281.59 L148.75 1281.51 L149.50 1281.09 L150.25 1280.91 L151.00 1280.66 L151.75 1280.85 L152.50 1279.91 L153.25 1279.64 L154.00 1279.63 L154.75 1278.89 L155.50 1278.45 L156.25 1278.47 L157.00 1278.70 L157.75 1278.52 L158.50 1277.60 L159.25 1277.27 L160.00 1277.60 L160.75 1277.42 L161.50 1277.25 L162.25 1277.28 L163.00 1277.25 L163.75 1276.67 L164.50 1276.58 L165.25 1275.75 L166.00 1275.49 L166.75 1275.76 L167.50 1275.67 L168.25 1275.46 L169.00 1275.18 L169.75 1275.02 L170.50 1274.79 L171.25 1273.66 L172.00 1273.79 L172.75 1273.97 L173.50 1273.79 L174.25 1272.82 L175.00 1273.53 L175.75 1272.74 L176.50 1272.58 L177.25 1272.54 L178.00 1272.48 L178.75 1271.49 L179.50 1272.12 L180.25 1271.58 L181.00 1271.07 L181.75 1271.03 L182.50 1270.16 L183.25 1270.49 L184.00 1270.57 L184.75 1270.06 L185.50 1269.99 L186.25 1269.86 L187.00 1269.73 L187.75 1269.88 L188.50 1269.32 L189.25 1269.05 L190.00 1269.14 L190.75 1269.49 L191.50 1268.46 L192.25 1268.57 L193.00 1267.66 L193.75 1268.50 L194.50 1268.08 L195.25 1268.13 L196.00 1267.46 L196.75 1266.93 L197.50 1267.43 L198.25 1267.20 L199.00 1266.45 L199.75 1266.06 L200.50 1266.55 L201.25 1266.14 L202.00 1266.93 L202.75 1265.62 L203.50 1265.46 L204.25 1265.42 L205.00 1264.69 L205.75 1264.77 L206.50 1265.47 L207.25 1264.65 L208.00 1264.29 L208.75 1263.87 L209.50 1264.32 L210.25 1264.16 L211.00 1263.82 L211.75 1263.40 L212.50 1263.45 L213.25 1263.28 L214.00 1262.71 L214.75 1262.98 L215.50 1261.83 L216.25 1261.92 L217.00 1262.08 L217.75 1261.96 L218.50 1261.40 L219.25 1261.74 L220.00 1261.81 L220.75 1261.42 L221.50 1261.16 L222.25 1261.19 L223.00 1260.87 L223.75 1260.16 L224.50 1260.32 L225.25 1260.68 L226.00 1259.66 L226.75 1259.92 L227.50 1259.61 L228.25 1259.28 L229.00 1259.09 L229.75 1259.33 L230.50 1259.26 L231.25 1259.12 L232.00 1258.36 L232.75 1258.62 L233.50 1258.71 L234.25 1258.78 L235.00 1258.54 L235.75 1258.46 L236.50 1258.41 L237.25 1258.18 L238.00 1257.46 L238.75 1257.63 L239.50 1257.21 L240.25 1256.49 L241.00 1256.58 L241.75 1257.76 L242.50 1256.48 L243.25 1255.94 L244.00 1256.36 L244.75 1256.94 L245.50 1256.23 L246.25 1256.22 L247.00 1255.81 L247.75 1255.69 L248.50 1255.97 L249.25 1255.61 L250.00 1255.11 L250.75 1255.24 L251.50 1255.10 L252.25 1254.44 L253.00 1254.40 L253.75 1254.18 L254.50 1253.64 L255.25 1254.07 L256.00 1253.39 L256.75 1253.02 L257.50 1252.45 L258.25 1252.38 L259.00 1253.16 L259.75 1252.03 L260.50 1252.39 L261.25 1251.93 L262.00 1252.06 L262.75 1251.92 L263.50 1251.27 L264.25 1251.29 L265.00 1251.29 L265.75 1251.16 L266.50 1250.99 L267.25 1250.78 L268.00 1251.00 L268.75 1251.13 L269.50 1250.76 L270.25 1250.21 L271.00 1250.51 L271.75 1250.30 L272.50 1250.35 L273.25 1250.74 L274.00 1249.93 L274.75 1249.92 L275.50 1249.53 L276.25 1249.66 L277.00 1249.48 L277.75 1250.16 L278.50 1249.63 L279.25 1249.25 L280.00 1250.05 L280.75 1248.84 L281.50 1249.53 L282.25 1249.52 L283.00 1249.30 L283.75 1248.93 L284.50 1248.91 L285.25 1248.77 L286.00 1249.10 L286.75 1247.94 L287.50 1248.51 L288.25 1248.68 L289.00 1248.36 L289.75 1247.86 L290.50 1248.34 L291.25 1248.09 L292.00 1248.57 L292.75 1248.71 L293.50 1248.18 L294.25 1247.40 L295.00 1247.94 L295.75 1247.61 L296.50 1248.10 L297.25 1248.38 L298.00 1247.82 L298.75 1248.35 L299.50 1248.08 L300.25 1247.72 L301.00 1247.09 L301.75 1247.38 L302.50 1246.76 L303.25 1247.55 L304.00 1247.15 L304.75 1247.51 L305.50 1247.05 L306.25 1246.19 L307.00 1247.01 L307.75 1247.03 L308.50 1247.20 L309.25 1246.20 L310.00 1246.14 L310.75 1246.40 L311.50 1245.92 L312.25 1245.73 L313.00 1245.74 L313.75 1246.95 L314.50 1245.74 L315.25 1245.52 L316.00 1245.63 L316.75 1245.70 L317.50 1246.07 L318.25 1245.87 L319.00 1245.73 L319.75 1245.38 L320.50 1245.34 L321.25 1244.98 L322.00 1244.59 L322.75 1245.74 L323.50 1244.79 L324.25 1245.21 L325.00 1244.66 L325.75 1244.66 L326.50 1244.55 L327.25 1244.04 L328.00 1244.40 L328.75 1244.48 L329.50 1244.55 L330.25 1244.34 L331.00 1244.44 L331.75 1244.10 L332.50 1243.90 L333.25 1243.13 L334.00 1243.54 L334.75 1244.18 L335.50 1243.59 L336.25 1243.74 L337.00 1243.29 L337.75 1243.04 L338.50 1243.90 L339.25 1243.22 L340.00 1243.53 L340.75 1243.10 L341.50 1242.71 L342.25 1241.94 L343.00 1242.66 L343.75 1241.99 L344.50 1241.66 L345.25 1242.78 L346.00 1242.50 L346.75 1242.38 L347.50 1242.07 L348.25 1241.95 L349.00 1242.01 L349.75 1241.82 L350.50 1241.69 L351.25 1241.82 L352.00 1240.60 L352.75 1241.67 L353.50 1241.03 L354.25 1241.45 L355.00 1241.46 L355.75 1240.65 L356.50 1241.11 L357.25 1241.00 L358.00 1240.37 L358.75 1240.32 L359.50 1240.44 L360.25 1239.51 L361.00 1240.02 L361.75 1240.13 L362.50 1239.80 L363.25 1239.28 L364.00 1239.59 L364.75 1240.15 L365.50 1239.97 L366.25 1239.35 L367.00 1238.99 L367.75 1239.16 L368.50 1239.05 L369.25 1238.69 L370.00 1238.70 L370.75 1238.92 L371.50 1238.91 L372.25 1237.61 L373.00 1238.69 L373.75 1238.28 L374.50 1238.51 L375.25 1237.99 L376.00 1238.03 L376.75 1238.33 L377.50 1236.60 L378.25 1238.07 L379.00 1237.46 L379.75 1236.64 L380.50 1236.22 L381.25 1237.14 L382.00 1236.55 L382.75 1237.14 L383.50 1236.74 L384.25 1236.50 L385.00 1236.77 L385.75 1236.36 L386.50 1236.42 L387.25 1236.32 L388.00 1236.00 L388.75 1236.03 L389.50 1235.89 L390.25 1235.00 L391.00 1235.24 L391.75 1235.15 L392.50 1234.92 L393.25 1234.35 L394.00 1234.57 L394.75 1234.74 L395.50 1234.54 L396.25 1234.86 L397.00 1233.97 L397.75 1233.89 L398.50 1233.69 L399.25 1233.64 L400.00 1233.39 L400.75 1232.80 L401.50 1233.44 L402.25 1233.52 L403.00 1233.42 L403.75 1232.51 L404.50 1232.68 L405.25 1233.26 L406.00 1232.44 L406.75 1232.47 L407.50 1232.16 L408.25 1232.43 L409.00 1232.29 L409.75 1232.64 L410.50 1231.88 L411.25 1231.74 L412.00 1231.04 L412.75 1231.21 L413.50 1230.99 L414.25 1231.02 L415.00 1230.57 L415.75 1231.35 L416.50 1230.46 L417.25 1230.83 L418.00 1230.20 L418.75 1230.67 L419.50 1231.04 L420.25 1230.08 L421.00 1230.41 L421.75 1230.18 L422.50 1230.21 L423.25 1230.18 L424.00 1229.73 L424.75 1229.81 L425.50 1229.59 L426.25 1229.43 L427.00 1229.21 L427.75 1229.91 L428.50 1229.24 L429.25 1229.66 L430.00 1229.54 L430.75 1228.93 L431.50 1229.57 L432.25 1228.84 L433.00 1229.29 L433.75 1229.51 L434.50 1228.68 L435.25 1228.54 L436.00 1228.46 L436.75 1229.53 L437.50 1228.53 L438.25 1228.15 L439.00 1228.81 L439.75 1228.39 L440.50 1228.38 L441.25 1227.97 L442.00 1227.47 L442.75 1227.93 L443.50 1227.75 L444.25 1227.48 L445.00 1227.60 L445.75 1227.57 L446.50 1228.12 L447.25 1228.01 L448.00 1227.87 L448.75 1227.43 L449.50 1227.11 L450.25 1227.57 L451.00 1227.55 L451.75 1227.66 L452.50 1227.21 L453.25 1227.08 L454.00 1227.14 L454.75 1226.61 L455.50 1226.56 L456.25 1226.96 L457.00 1226.20 L457.75 1226.51 L458.50 1226.71 L459.25 1226.43 L460.00 1226.40 L460.75 1225.77 L461.50 1226.02 L462.25 1225.89 L463.00 1226.11 L463.75 1225.98 L464.50 1225.77 L465.25 1226.37 L466.00 1225.84 L466.75 1225.50 L467.50 1225.35 L468.25 1225.52 L469.00 1225.31 L469.75 1226.08 L470.50 1225.71 L471.25 1225.41 L472.00 1225.30 L472.75 1225.17 L473.50 1225.48 L474.25 1226.06 L475.00 1225.93 L475.75 1225.66 L476.50 1225.77 L477.25 1225.12 L478.00 1226.09 L478.75 1225.80 L479.50 1226.42 L480.25 1225.94 L481.00 1225.90 L481.75 1226.21 L482.50 1225.99 L483.25 1226.75 L484.00 1226.46 L484.75 1226.57 L485.50 1226.64 L486.25 1226.48 L487.00 1226.85 L487.75 1226.83 L488.50 1227.46 L489.25 1226.95 L490.00 1227.15 L490.75 1226.95 L491.50 1227.08 L492.25 1227.21 L493.00 1227.89 L493.75 1227.60 L494.50 1228.04 L495.25 1227.76 L496.00 1227.87 L496.75 1227.48 L497.50 1228.60 L498.25 1229.20 L499.00 1228.56 L499.75 1229.32 L500.50 1229.28 L501.25 1228.92 L502.00 1229.60 L502.75 1229.20 L503.50 1229.58 L504.25 1230.29 L505.00 1230.09 L505.75 1229.81 L506.50 1230.92 L507.25 1230.27 L508.00 1230.83 L508.75 1231.02 L509.50 1231.35 L510.25 1231.37 L511.00 1231.36 L511.75 1232.85 L512.50 1232.13 L513.25 1232.41 L514.00 1232.10 L514.75 1233.21 L515.50 1233.84 L516.25 1234.06 L517.00 1234.70 L517.75 1234.38 L518.50 1234.10 L519.25 1234.02 L520.00 1234.54 L520.75 1234.01 L521.50 1234.07 L522.25 1233.62 L523.00 1233.93 L523.75 1234.52 L524.50 1233.72 L525.25 1233.80 L526.00 1232.73 L526.75 1233.94 L527.50 1233.50 L528.25 1233.76 L529.00 1233.25 L529.75 1232.77 L530.50 1232.49 L531.25 1233.04 L532.00 1232.75 L532.75 1232.30 L533.50 1232.50 L534.25 1232.17 L535.00 1232.51 L535.75 1231.98 L536.50 1231.56 L537.25 1231.81 L538.00 1231.50 L538.75 1232.07 L539.50 1231.24 L540.25 1230.79 L541.00 1231.09 L541.75 1230.87 L542.50 1230.90 L543.25 1230.74 L544.00 1230.16 L544.75 1230.35 L545.50 1230.20 L546.25 1229.68 L547.00 1229.76 L547.75 1229.91 L548.50 1229.15 L549.25 1229.21 L550.00 1229.32 L550.75 1229.34 L551.50 1229.46 L552.25 1228.72 L553.00 1229.22 L553.75 1229.26 L554.50 1229.50 L555.25 1228.74 L556.00 1228.50 L556.75 1228.20 L557.50 1228.85 L558.25 1229.02 L559.00 1228.24 L559.75 1228.53 L560.50 1228.56 L561.25 1228.46 L562.00 1227.84 L562.75 1228.02 L563.50 1227.54 L564.25 1226.93 L565.00 1227.02 L565.75 1226.67 L566.50 1225.80 L567.25 1225.86 L568.00 1225.95 L568.75 1224.27 L569.50 1224.56 L570.25 1224.17 L571.00 1223.36 L571.75 1222.92 L572.50 1222.13 L573.25 1222.08 L574.00 1220.62 L574.75 1220.20 L575.50 1218.81 L576.25 1218.76 L577.00 1217.86 L577.75 1216.16" stroke="#8f1fff" stroke-width="2.2" fill="none" stroke-linejoin="round" stroke-linecap="butt"/><text x="98.50" y="1314.90" font-size="23" text-anchor="end" fill="#1c1c1c" stroke-width="0.4">0</text><text x="98.50" y="1237.98" font-size="23" text-anchor="end" fill="#1c1c1c" stroke-width="0.4">1</text><text x="98.50" y="1161.06" font-size="23" text-anchor="end" fill="#1c1c1c" stroke-width="0.4">2</text><text x="98.50" y="1084.14" font-size="23" text-anchor="end" fill="#1c1c1c" stroke-width="0.4">3</text><text x="98.50" y="1007.22" font-size="23" text-anchor="end" fill="#1c1c1c" stroke-width="0.4">4</text><text x="98.50" y="930.30" font-size="23" text-anchor="end" fill="#1c1c1c" stroke-width="0.4">5</text><text x="107.40" y="1332.00" font-size="23" text-anchor="middle" fill="#1c1c1c" stroke-width="0.4">0</text><text x="196.92" y="1332.00" font-size="23" text-anchor="middle" fill="#1c1c1c" stroke-width="0.4">10,000</text><text x="291.44" y="1332.00" font-size="23" text-anchor="middle" fill="#1c1c1c" stroke-width="0.4">20,000</text><text x="385.96" y="1332.00" font-size="23" text-anchor="middle" fill="#1c1c1c" stroke-width="0.4">30,000</text><text x="480.48" y="1332.00" font-size="23" text-anchor="middle" fill="#1c1c1c" stroke-width="0.4">40,000</text><text x="575.00" y="1332.00" font-size="23" text-anchor="middle" fill="#1c1c1c" stroke-width="0.4">50,000</text><text x="341.00" y="1365.00" font-size="31" text-anchor="middle" fill="#1c1c1c" stroke-width="0.55">t/ps</text><text x="76.50" y="1096.00" font-size="25" text-anchor="middle" fill="#1c1c1c" stroke-width="0.4" transform="rotate(-90 76.50 1096.00)">Mean square displacecment/nm<tspan dy="-7" font-size="24">2</tspan></text><text x="10.00" y="946.00" font-size="35" text-anchor="start" fill="#1c1c1c" stroke-width="0.55">(e)</text><path d="M736 1076.1H810" stroke="#ff1f1f" stroke-width="3.4" stroke-linecap="round"/><path d="M998.2 1076.1H1072.7" stroke="#8f1fff" stroke-width="3.4" stroke-linecap="round"/><path d="M736 1234.6H810" stroke="#fd9026" stroke-width="3.4" stroke-linecap="round"/><path d="M998.2 1234.6H1072.7" stroke="#23962a" stroke-width="3.4" stroke-linecap="round"/><text x="827.00" y="1087.00" font-size="32" text-anchor="start" fill="#1c1c1c" stroke-width="0.55" transform="translate(827.00 1087.00) scale(1 1.08) translate(-827.00 -1087.00)">Anas</text><text x="1089.50" y="1087.00" font-size="32" text-anchor="start" fill="#1c1c1c" stroke-width="0.55" transform="translate(1089.50 1087.00) scale(1 1.08) translate(-1089.50 -1087.00)">Res</text><text x="827.00" y="1246.00" font-size="32" text-anchor="start" fill="#1c1c1c" stroke-width="0.55" transform="translate(827.00 1246.00) scale(1 1.08) translate(-827.00 -1246.00)">Gefi</text><text x="1089.50" y="1246.00" font-size="32" text-anchor="start" fill="#1c1c1c" stroke-width="0.55" transform="translate(1089.50 1246.00) scale(1 1.08) translate(-1089.50 -1246.00)">CPT</text>
</svg></body></html>
